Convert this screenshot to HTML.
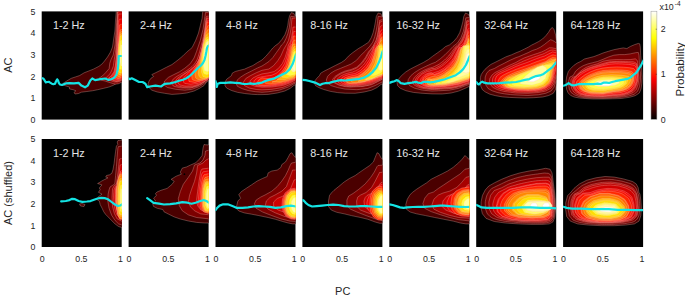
<!DOCTYPE html>
<html><head><meta charset="utf-8"><style>
html,body{margin:0;padding:0;background:#fff;width:685px;height:295px;overflow:hidden}
svg{display:block}
text{font-family:"Liberation Sans", sans-serif}
.tt{font-size:10.8px;fill:#e6e6e6}
.tk{font-size:8.8px;fill:#262626}
.tks{font-size:6.5px;fill:#262626}
.lb{font-size:11px;fill:#262626}
</style></head><body>
<svg width="685" height="295" viewBox="0 0 685 295">
<rect x="41.7" y="11.4" width="80" height="108.2" fill="#000"/>
<rect x="128.6" y="11.4" width="80" height="108.2" fill="#000"/>
<rect x="215.5" y="11.4" width="80" height="108.2" fill="#000"/>
<rect x="302.4" y="11.4" width="80" height="108.2" fill="#000"/>
<rect x="389.3" y="11.4" width="80" height="108.2" fill="#000"/>
<rect x="476.2" y="11.4" width="80" height="108.2" fill="#000"/>
<rect x="563.1" y="11.4" width="80" height="108.2" fill="#000"/>
<rect x="41.7" y="139" width="80" height="108" fill="#000"/>
<rect x="128.6" y="139" width="80" height="108" fill="#000"/>
<rect x="215.5" y="139" width="80" height="108" fill="#000"/>
<rect x="302.4" y="139" width="80" height="108" fill="#000"/>
<rect x="389.3" y="139" width="80" height="108" fill="#000"/>
<rect x="476.2" y="139" width="80" height="108" fill="#000"/>
<rect x="563.1" y="139" width="80" height="108" fill="#000"/>
<defs>
<clipPath id="cT1"><rect x="41.70" y="11.40" width="80.00" height="108.20"/></clipPath>
<clipPath id="cT2"><rect x="128.60" y="11.40" width="80.00" height="108.20"/></clipPath>
<clipPath id="cT3"><rect x="215.50" y="11.40" width="80.00" height="108.20"/></clipPath>
<clipPath id="cT4"><rect x="302.40" y="11.40" width="80.00" height="108.20"/></clipPath>
<clipPath id="cT5"><rect x="389.30" y="11.40" width="80.00" height="108.20"/></clipPath>
<clipPath id="cT6"><rect x="476.20" y="11.40" width="80.00" height="108.20"/></clipPath>
<clipPath id="cT7"><rect x="563.10" y="11.40" width="80.00" height="108.20"/></clipPath>
<clipPath id="cB1"><rect x="41.70" y="139.00" width="80.00" height="108.00"/></clipPath>
<clipPath id="cB2"><rect x="128.60" y="139.00" width="80.00" height="108.00"/></clipPath>
<clipPath id="cB3"><rect x="215.50" y="139.00" width="80.00" height="108.00"/></clipPath>
<clipPath id="cB4"><rect x="302.40" y="139.00" width="80.00" height="108.00"/></clipPath>
<clipPath id="cB5"><rect x="389.30" y="139.00" width="80.00" height="108.00"/></clipPath>
<clipPath id="cB6"><rect x="476.20" y="139.00" width="80.00" height="108.00"/></clipPath>
<clipPath id="cB7"><rect x="563.10" y="139.00" width="80.00" height="108.00"/></clipPath>
</defs>
<g clip-path="url(#cT1)">
<polygon points="116.2,11.4 115.5,20.0 114.9,31.0 113.5,40.0 112.5,47.0 110.5,52.0 107.5,57.0 104.5,61.0 102.0,64.0 98.8,66.4 93.3,69.2 88.7,71.0 84.1,72.8 79.5,75.6 75.9,76.8 71.3,78.3 66.7,81.0 63.0,83.4 62.1,84.7 64.9,85.6 69.5,87.1 69.5,88.9 73.1,89.7 75.9,90.8 74.0,92.4 75.0,94.0 78.6,93.5 81.4,92.2 86.9,91.5 92.3,90.8 97.8,89.7 103.3,88.4 108.8,87.1 113.4,85.3 117.0,82.9 119.8,80.1 123.0,77.4 123.0,11.4" fill="#4a0000" stroke="#ffc8c0" stroke-opacity="0.6" stroke-width="0.5"/>
<polygon points="117.2,11.4 116.5,25.0 116.0,31.0 115.0,45.0 113.2,55.0 111.2,59.1 109.8,63.1 109.1,68.6 105.7,72.6 102.3,76.0 98.9,78.3 101.0,80.1 105.0,81.0 110.5,82.8 115.2,84.2 118.6,83.7 123.0,81.5 123.0,11.4" fill="#7c0000" stroke="#ffc8c0" stroke-opacity="0.6" stroke-width="0.5"/>
<polygon points="123.0,11.4 123.0,12.9 123.0,14.4 123.0,15.9 123.0,17.4 123.0,18.8 123.0,20.3 123.0,21.8 123.0,23.3 123.0,24.8 123.0,26.3 123.0,27.8 123.0,29.3 123.0,30.7 123.0,32.2 123.0,33.7 123.0,35.2 123.0,36.7 123.0,38.2 123.0,39.7 123.0,41.2 123.0,42.6 123.0,44.1 123.0,45.6 123.0,47.1 123.0,48.6 123.0,50.1 123.0,51.6 123.0,53.1 123.0,54.5 123.0,56.0 123.0,57.5 123.0,59.0 123.0,60.5 123.0,62.0 123.0,63.5 123.0,65.0 123.0,66.4 123.0,67.9 123.0,69.4 123.0,70.9 123.0,72.4 123.0,73.9 123.0,75.4 123.0,76.9 122.7,78.1 122.2,79.3 121.7,80.5 120.3,81.1 118.9,81.6 117.6,82.0 116.1,82.0 114.7,82.0 113.2,81.6 111.8,81.1 110.4,80.6 109.0,80.1 107.6,79.6 106.2,79.2 106.3,78.4 106.6,77.5 107.2,76.5 108.2,75.5 109.3,74.4 110.2,73.3 110.9,72.0 111.5,70.7 112.0,69.4 112.6,68.0 113.1,66.7 113.5,65.3 113.6,63.8 113.8,62.3 114.0,60.8 114.2,59.4 114.5,57.9 114.8,56.5 115.0,55.0 115.3,53.6 115.5,52.2 115.6,50.7 115.8,49.2 115.9,47.7 116.0,46.2 116.1,44.8 116.3,43.3 116.3,41.8 116.4,40.3 116.5,38.8 116.6,37.3 116.6,35.9 116.7,34.4 116.8,32.9 116.8,31.4 116.9,29.9 117.0,28.4 117.1,26.9 117.1,25.5 117.2,24.0 117.3,22.5 117.3,21.0 117.4,19.5 117.5,18.0 117.5,16.5 117.6,15.1 117.6,13.6 117.7,12.1 118.5,11.4 120.0,11.4 121.5,11.4" fill="#a80000" stroke="#ffc8c0" stroke-opacity="0.6" stroke-width="0.5"/>
<polygon points="118.0,11.4 117.5,25.0 117.0,40.0 116.5,55.0 115.5,65.0 114.0,72.0 111.0,76.0 108.0,78.5 112.0,80.0 116.0,81.5 119.0,81.0 123.0,79.0 123.0,11.4" fill="#bc0000" stroke="#ffc8c0" stroke-opacity="0.6" stroke-width="0.5"/>
<polygon points="123.0,14.1 123.0,15.4 123.0,16.8 123.0,18.2 123.0,19.5 123.0,20.9 123.0,22.3 123.0,23.7 123.0,25.0 123.0,26.4 123.0,27.8 123.0,29.1 123.0,30.5 123.0,31.9 123.0,33.3 123.0,34.6 123.0,36.0 123.0,37.4 123.0,38.7 123.0,40.1 123.0,41.5 123.0,42.9 123.0,44.2 123.0,45.6 123.0,47.0 123.0,48.3 123.0,49.7 123.0,51.1 123.0,52.5 123.0,53.8 123.0,55.2 123.0,56.6 123.0,58.0 123.0,59.3 123.0,60.7 123.0,62.1 123.0,63.4 123.0,64.8 123.0,66.2 123.0,67.6 123.0,68.9 123.0,70.3 123.0,71.7 123.0,73.0 123.0,74.4 123.0,75.8 123.0,77.2 122.9,78.5 121.8,79.2 120.6,79.8 119.4,80.4 118.0,80.7 116.7,81.0 115.4,80.7 114.1,80.2 112.8,79.7 111.6,79.2 110.4,78.7 109.2,78.1 110.0,77.3 111.0,76.3 111.9,75.4 112.7,74.3 113.5,73.1 114.2,72.0 114.6,70.7 114.9,69.4 115.2,68.0 115.4,66.7 115.7,65.3 115.9,64.0 116.0,62.6 116.1,61.3 116.3,59.9 116.4,58.5 116.5,57.2 116.6,55.8 116.7,54.4 116.8,53.0 116.8,51.7 116.9,50.3 116.9,48.9 117.0,47.6 117.0,46.2 117.1,44.8 117.1,43.5 117.2,42.1 117.2,40.7 117.3,39.3 117.3,38.0 117.4,36.6 117.4,35.2 117.5,33.9 117.5,32.5 117.6,31.1 117.6,29.7 117.7,28.4 117.7,27.0 117.8,25.6 117.9,24.3 117.9,22.9 118.0,21.5 118.0,20.2 118.1,18.8 118.1,17.4 118.2,16.0 118.3,14.7 119.0,14.0 120.4,14.0 121.8,13.9" fill="#d00000" stroke="#ffc8c0" stroke-opacity="0.6" stroke-width="0.5"/>
<polygon points="123.0,19.4 123.0,20.6 123.0,21.8 123.0,23.1 123.0,24.3 123.0,25.5 123.0,26.8 123.0,28.0 123.0,29.2 123.0,30.5 123.0,31.7 123.0,32.9 123.0,34.2 123.0,35.4 123.0,36.7 123.0,37.9 123.0,39.1 123.0,40.4 123.0,41.6 123.0,42.8 123.0,44.1 123.0,45.3 123.0,46.5 123.0,47.8 123.0,49.0 123.0,50.2 123.0,51.5 123.0,52.7 123.0,54.0 123.0,55.2 123.0,56.4 123.0,57.7 123.0,58.9 123.0,60.1 123.0,61.4 123.0,62.6 123.0,63.8 123.0,65.1 123.0,66.3 123.0,67.5 123.0,68.8 123.0,70.0 123.0,71.3 123.0,72.5 123.0,73.7 123.0,75.0 123.0,76.2 123.0,77.4 122.1,78.1 121.1,78.7 120.0,79.3 118.8,79.7 117.6,79.9 116.4,79.9 115.3,79.6 114.2,79.1 113.1,78.6 112.1,78.0 111.4,77.3 112.0,76.4 112.8,75.5 113.5,74.6 114.1,73.5 114.6,72.4 115.1,71.4 115.4,70.2 115.6,69.0 115.8,67.7 116.0,66.5 116.2,65.3 116.3,64.1 116.5,62.9 116.6,61.6 116.7,60.4 116.8,59.2 116.9,57.9 117.0,56.7 117.1,55.5 117.1,54.2 117.2,53.0 117.2,51.8 117.3,50.5 117.3,49.3 117.4,48.1 117.4,46.8 117.5,45.6 117.5,44.4 117.6,43.1 117.7,41.9 117.7,40.7 117.8,39.4 117.8,38.2 117.9,37.0 118.0,35.7 118.0,34.5 118.1,33.3 118.1,32.0 118.2,30.8 118.3,29.6 118.4,28.3 118.4,27.1 118.5,25.9 118.6,24.6 118.6,23.4 118.7,22.2 118.8,20.9 119.0,19.8 119.7,19.2 121.0,19.1 122.2,18.9" fill="#f00000" stroke="#ffc8c0" stroke-opacity="0.6" stroke-width="0.5"/>
<polygon points="123.0,24.7 123.0,25.8 123.0,26.9 123.0,28.0 123.0,29.1 123.0,30.2 123.0,31.3 123.0,32.4 123.0,33.5 123.0,34.6 123.0,35.7 123.0,36.8 123.0,37.9 123.0,39.0 123.0,40.1 123.0,41.2 123.0,42.3 123.0,43.4 123.0,44.5 123.0,45.6 123.0,46.7 123.0,47.8 123.0,48.9 123.0,50.0 123.0,51.0 123.0,52.1 123.0,53.2 123.0,54.3 123.0,55.4 123.0,56.5 123.0,57.6 123.0,58.7 123.0,59.8 123.0,60.9 123.0,62.0 123.0,63.1 123.0,64.2 123.0,65.3 123.0,66.4 123.0,67.5 123.0,68.6 123.0,69.7 123.0,70.8 123.0,71.9 123.0,73.0 123.0,74.1 123.0,75.2 123.0,76.3 122.5,77.1 121.5,77.7 120.6,78.2 119.6,78.6 118.5,78.9 117.5,79.1 116.5,79.0 115.5,78.5 114.5,78.0 113.8,77.3 113.6,76.5 114.1,75.6 114.5,74.7 115.0,73.7 115.4,72.7 115.7,71.7 116.0,70.7 116.2,69.6 116.3,68.6 116.5,67.5 116.6,66.4 116.7,65.3 116.8,64.2 116.9,63.1 117.0,62.0 117.1,60.9 117.2,59.8 117.3,58.7 117.3,57.6 117.4,56.5 117.5,55.4 117.5,54.3 117.6,53.2 117.6,52.1 117.7,51.0 117.7,49.9 117.8,48.8 117.8,47.7 117.9,46.6 118.0,45.5 118.0,44.4 118.1,43.3 118.2,42.3 118.3,41.2 118.3,40.1 118.4,39.0 118.5,37.9 118.5,36.8 118.6,35.7 118.7,34.6 118.8,33.5 118.9,32.4 118.9,31.3 119.0,30.2 119.1,29.1 119.2,28.0 119.3,26.9 119.4,25.8 119.6,24.8 120.5,24.4 121.5,24.2 122.6,24.0" fill="#ff2800" stroke="#ffc8c0" stroke-opacity="0.6" stroke-width="0.5"/>
<polygon points="120.0,30.0 119.0,40.0 118.2,50.0 117.5,62.0 116.8,72.0 115.5,77.0 118.0,78.5 120.5,77.5 123.0,76.0 123.0,29.0" fill="#ff5800" stroke="#ffc8c0" stroke-opacity="0.6" stroke-width="0.5"/>
<polygon points="123.0,31.0 123.0,31.9 123.0,32.8 123.0,33.7 123.0,34.5 123.0,35.4 123.0,36.3 123.0,37.2 123.0,38.1 123.0,39.0 123.0,39.9 123.0,40.8 123.0,41.6 123.0,42.5 123.0,43.4 123.0,44.3 123.0,45.2 123.0,46.1 123.0,47.0 123.0,47.9 123.0,48.7 123.0,49.6 123.0,50.5 123.0,51.4 123.0,52.3 123.0,53.2 123.0,54.1 123.0,55.0 123.0,55.8 123.0,56.7 123.0,57.6 123.0,58.5 123.0,59.4 123.0,60.3 123.0,61.2 123.0,62.0 123.0,62.9 123.0,63.8 123.0,64.7 123.0,65.6 123.0,66.5 123.0,67.4 123.0,68.3 123.0,69.1 123.0,70.0 123.0,70.9 123.0,71.8 123.0,72.7 123.0,73.6 122.9,74.4 122.3,75.0 121.6,75.5 120.9,75.9 120.0,76.2 119.2,76.5 118.4,76.4 117.6,76.0 116.9,75.5 116.5,74.9 116.7,74.0 116.8,73.1 117.0,72.3 117.1,71.4 117.3,70.6 117.3,69.7 117.3,68.8 117.3,67.9 117.4,67.0 117.4,66.1 117.5,65.2 117.5,64.4 117.6,63.5 117.6,62.6 117.7,61.7 117.7,60.8 117.8,59.9 117.8,59.0 117.9,58.2 117.9,57.3 118.0,56.4 118.0,55.5 118.1,54.6 118.1,53.7 118.2,52.8 118.2,52.0 118.3,51.1 118.3,50.2 118.4,49.3 118.5,48.4 118.5,47.5 118.6,46.6 118.7,45.8 118.7,44.9 118.8,44.0 118.9,43.1 119.0,42.2 119.1,41.3 119.2,40.5 119.3,39.6 119.4,38.7 119.5,37.8 119.6,36.9 119.7,36.1 119.8,35.2 119.9,34.3 120.0,33.4 120.1,32.5 120.5,31.9 121.3,31.6 122.2,31.3" fill="#ff8800" stroke="#ffc8c0" stroke-opacity="0.6" stroke-width="0.5"/>
<polygon points="123.0,33.0 123.0,33.8 123.0,34.6 123.0,35.4 123.0,36.2 123.0,37.1 123.0,37.9 123.0,38.7 123.0,39.5 123.0,40.3 123.0,41.1 123.0,41.9 123.0,42.7 123.0,43.5 123.0,44.4 123.0,45.2 123.0,46.0 123.0,46.8 123.0,47.6 123.0,48.4 123.0,49.2 123.0,50.0 123.0,50.8 123.0,51.6 123.0,52.5 123.0,53.3 123.0,54.1 123.0,54.9 123.0,55.7 123.0,56.5 123.0,57.3 123.0,58.1 123.0,58.9 123.0,59.8 123.0,60.6 123.0,61.4 123.0,62.2 123.0,63.0 123.0,63.8 123.0,64.6 123.0,65.4 123.0,66.2 123.0,67.1 123.0,67.9 123.0,68.7 123.0,69.5 123.0,70.3 123.0,71.1 123.0,71.9 122.9,72.7 122.7,73.4 122.1,73.8 121.4,74.2 120.7,74.5 119.9,74.7 119.2,74.5 118.4,74.1 117.7,73.8 117.5,73.1 117.5,72.3 117.6,71.5 117.6,70.7 117.7,69.9 117.7,69.1 117.7,68.3 117.7,67.5 117.7,66.7 117.7,65.9 117.7,65.1 117.8,64.3 117.8,63.4 117.8,62.6 117.9,61.8 117.9,61.0 118.0,60.2 118.0,59.4 118.0,58.6 118.1,57.8 118.1,57.0 118.1,56.2 118.2,55.3 118.2,54.5 118.3,53.7 118.3,52.9 118.4,52.1 118.4,51.3 118.5,50.5 118.5,49.7 118.6,48.9 118.6,48.1 118.7,47.3 118.8,46.4 118.8,45.6 118.9,44.8 118.9,44.0 119.1,43.2 119.2,42.4 119.3,41.6 119.4,40.8 119.5,40.0 119.6,39.2 119.7,38.4 119.8,37.6 119.9,36.8 120.1,36.0 120.2,35.2 120.3,34.4 120.7,33.9 121.5,33.6 122.2,33.3" fill="#ffb800" stroke="#ffc8c0" stroke-opacity="0.6" stroke-width="0.5"/>
<polygon points="120.5,36.0 119.0,45.0 118.3,55.0 118.0,65.0 118.5,72.0 121.0,73.0 123.0,72.0 123.0,35.0" fill="#ffe000" stroke="#ffc8c0" stroke-opacity="0.6" stroke-width="0.5"/>
<polygon points="122.8,40.0 123.0,40.4 123.0,40.9 123.0,41.5 123.0,42.1 123.0,42.7 123.0,43.3 123.0,43.8 123.0,44.4 123.0,45.0 123.0,45.6 123.0,46.1 123.0,46.7 123.0,47.3 123.0,47.9 123.0,48.4 123.0,49.0 123.0,49.6 123.0,50.2 123.0,50.8 123.0,51.3 123.0,51.9 123.0,52.5 123.0,53.1 123.0,53.6 123.0,54.2 123.0,54.8 123.0,55.4 123.0,56.0 123.0,56.5 123.0,57.1 123.0,57.7 123.0,58.3 123.0,58.8 123.0,59.4 123.0,60.0 123.0,60.6 123.0,61.1 123.0,61.7 123.0,62.3 123.0,62.9 123.0,63.5 123.0,64.0 123.0,64.6 123.0,65.2 123.0,65.8 123.0,66.3 123.0,66.9 123.0,67.5 123.0,68.1 123.0,68.7 122.8,69.1 122.3,69.3 121.7,69.4 121.2,69.4 120.6,69.3 120.1,69.1 119.7,68.8 119.6,68.2 119.5,67.6 119.5,67.1 119.4,66.5 119.3,65.9 119.2,65.4 119.1,64.8 119.1,64.2 119.0,63.6 119.0,63.1 119.0,62.5 119.0,61.9 119.0,61.3 119.0,60.8 119.1,60.2 119.1,59.6 119.1,59.0 119.1,58.5 119.1,57.9 119.1,57.3 119.1,56.7 119.1,56.1 119.1,55.6 119.2,55.0 119.2,54.4 119.2,53.8 119.2,53.3 119.3,52.7 119.3,52.1 119.3,51.5 119.3,51.0 119.4,50.4 119.4,49.8 119.5,49.2 119.5,48.7 119.6,48.1 119.6,47.5 119.7,46.9 119.8,46.4 119.9,45.8 120.0,45.2 120.1,44.7 120.2,44.1 120.3,43.5 120.4,43.0 120.5,42.4 120.5,41.8 120.6,41.2 120.7,40.7 121.1,40.4 121.7,40.3 122.2,40.1" fill="#ffff40" stroke="#ffc8c0" stroke-opacity="0.6" stroke-width="0.5"/>
<polygon points="121.0,45.0 120.0,52.0 120.0,62.0 121.0,66.0 123.0,66.0 123.0,45.0" fill="#ffffa0" stroke="#ffc8c0" stroke-opacity="0.6" stroke-width="0.5"/>
<polyline points="41.6,78.2 43.4,78.5 44.4,80.1 45.8,82.3 47.4,82.0 48.8,81.8 50.1,82.6 51.8,83.7 53.4,84.2 55.0,83.7 56.1,81.2 57.2,79.3 58.0,80.4 58.8,82.8 59.9,84.5 62.0,85.0 65.8,83.4 69.5,83.2 74.0,83.4 78.6,82.9 81.4,85.6 85.0,87.3 87.8,85.6 90.3,80.5 92.3,78.5 95.1,80.1 100.6,79.2 105.2,78.5 108.6,80.0 111.8,79.0 114.5,77.5 116.5,74.6 117.8,69.2 118.5,63.0 118.7,56.0 122.5,56.0" fill="none" stroke="#14e4e4" stroke-width="2.2" stroke-linejoin="round" stroke-linecap="round"/>
</g>
<g clip-path="url(#cT2)">
<polygon points="202.7,11.4 202.1,18.3 200.3,25.6 198.5,33.0 195.7,40.3 192.1,47.6 186.6,52.2 182.9,55.9 178.0,60.0 175.6,61.8 171.9,64.6 166.4,67.3 161.0,70.1 155.5,72.8 151.8,74.6 153.6,76.5 150.9,78.3 149.0,81.0 148.1,83.8 149.0,87.5 151.8,90.2 157.3,92.0 164.6,93.3 171.9,94.4 179.3,93.9 186.6,93.0 193.9,91.1 199.4,88.4 204.0,85.6 206.7,81.9 210.0,78.3 210.0,11.4" fill="#4a0000" stroke="#ffc8c0" stroke-opacity="0.6" stroke-width="0.5"/>
<polygon points="205.5,12.5 204.9,16.5 203.0,29.3 200.3,40.3 196.6,51.3 194.0,58.0 190.2,63.7 184.8,68.2 179.3,71.9 173.8,74.6 168.3,77.4 164.6,81.0 163.7,84.7 167.4,87.5 175.6,89.3 184.8,90.2 192.1,89.3 199.4,86.5 204.9,82.9 210.0,79.2 210.0,12.5" fill="#7c0000" stroke="#ffc8c0" stroke-opacity="0.6" stroke-width="0.5"/>
<polygon points="210.0,16.2 210.0,17.9 210.0,19.6 210.0,21.3 210.0,23.1 210.0,24.8 210.0,26.5 210.0,28.2 210.0,30.0 210.0,31.7 210.0,33.4 210.0,35.1 210.0,36.9 210.0,38.6 210.0,40.3 210.0,42.0 210.0,43.8 210.0,45.5 210.0,47.2 210.0,48.9 210.0,50.7 210.0,52.4 210.0,54.1 210.0,55.8 210.0,57.6 210.0,59.3 210.0,61.0 210.0,62.7 210.0,64.5 210.0,66.2 210.0,67.9 210.0,69.6 210.0,71.4 210.0,73.1 210.0,74.8 209.9,76.5 209.4,78.0 208.4,79.2 207.0,80.2 205.6,81.1 204.2,82.1 202.7,83.1 201.3,84.0 199.8,84.8 198.3,85.7 196.7,86.3 195.0,86.8 193.4,87.2 191.7,87.7 190.0,88.1 188.3,88.1 186.6,88.0 184.9,88.0 183.2,87.9 181.4,87.9 179.7,87.7 178.1,87.3 176.4,86.9 174.7,86.5 173.2,85.9 172.2,84.5 171.2,83.1 171.7,81.7 172.5,80.2 173.5,78.8 174.9,77.8 176.3,76.7 177.7,75.8 179.2,75.0 180.7,74.1 182.2,73.2 183.7,72.4 185.2,71.5 186.6,70.6 188.0,69.6 189.4,68.6 190.8,67.5 192.1,66.4 193.3,65.2 194.4,63.9 195.3,62.5 196.3,61.0 197.1,59.5 197.7,57.9 198.2,56.3 198.7,54.6 199.2,53.0 199.7,51.3 200.1,49.7 200.5,48.0 201.0,46.3 201.4,44.7 201.9,43.0 202.3,41.3 202.7,39.6 203.1,38.0 203.4,36.3 203.7,34.6 204.0,32.9 204.3,31.2 204.5,29.5 204.7,27.8 205.0,26.1 205.2,24.3 205.4,22.6 205.6,20.9 205.8,19.2 206.0,17.5 206.6,16.2 208.3,16.2" fill="#a80000" stroke="#ffc8c0" stroke-opacity="0.6" stroke-width="0.5"/>
<polygon points="206.5,18.0 205.8,25.6 204.0,38.5 201.2,51.3 199.0,60.0 195.7,65.5 190.2,70.1 182.9,74.6 177.4,78.3 174.7,82.0 176.5,85.6 182.9,87.1 192.1,87.1 199.4,84.7 204.9,81.0 210.0,77.4 210.0,18.0" fill="#bc0000" stroke="#ffc8c0" stroke-opacity="0.6" stroke-width="0.5"/>
<polygon points="210.0,19.1 210.0,20.6 210.0,22.2 210.0,23.8 210.0,25.3 210.0,26.9 210.0,28.5 210.0,30.0 210.0,31.6 210.0,33.2 210.0,34.7 210.0,36.3 210.0,37.9 210.0,39.4 210.0,41.0 210.0,42.6 210.0,44.1 210.0,45.7 210.0,47.3 210.0,48.8 210.0,50.4 210.0,52.0 210.0,53.5 210.0,55.1 210.0,56.7 210.0,58.2 210.0,59.8 210.0,61.4 210.0,62.9 210.0,64.5 210.0,66.1 210.0,67.6 210.0,69.2 210.0,70.8 210.0,72.3 210.0,73.9 210.0,75.5 209.4,76.7 208.3,77.7 207.3,78.8 206.2,79.8 205.1,80.8 204.0,81.7 202.6,82.5 201.3,83.3 199.9,83.9 198.4,84.4 196.9,84.9 195.4,85.4 193.9,85.9 192.3,86.0 190.8,86.0 189.2,86.1 187.7,86.1 186.1,86.2 184.6,86.0 183.0,85.7 181.5,85.3 180.0,85.0 178.8,84.2 178.2,82.8 177.6,81.4 178.1,80.1 179.0,78.8 180.0,77.6 181.2,76.6 182.5,75.7 183.7,74.7 184.9,73.8 186.2,72.9 187.5,72.0 188.7,71.1 190.0,70.2 191.2,69.3 192.4,68.3 193.5,67.2 194.6,66.1 195.7,65.0 196.7,63.9 197.4,62.5 198.2,61.1 198.9,59.7 199.5,58.3 199.9,56.8 200.3,55.3 200.7,53.8 201.0,52.2 201.4,50.7 201.7,49.2 202.1,47.7 202.4,46.1 202.7,44.6 203.1,43.1 203.4,41.5 203.7,40.0 204.0,38.5 204.3,36.9 204.5,35.4 204.7,33.8 204.9,32.3 205.1,30.7 205.4,29.2 205.6,27.6 205.8,26.1 206.0,24.5 206.2,22.9 206.3,21.4 206.6,19.9 207.1,18.8 208.7,18.8" fill="#d00000" stroke="#ffc8c0" stroke-opacity="0.6" stroke-width="0.5"/>
<polygon points="210.0,21.2 210.0,22.6 210.0,24.1 210.0,25.5 210.0,26.9 210.0,28.4 210.0,29.8 210.0,31.3 210.0,32.7 210.0,34.1 210.0,35.6 210.0,37.0 210.0,38.5 210.0,39.9 210.0,41.3 210.0,42.8 210.0,44.2 210.0,45.7 210.0,47.1 210.0,48.5 210.0,50.0 210.0,51.4 210.0,52.9 210.0,54.3 210.0,55.7 210.0,57.2 210.0,58.6 210.0,60.1 210.0,61.5 210.0,62.9 210.0,64.4 210.0,65.8 210.0,67.3 210.0,68.7 210.0,70.1 210.0,71.6 210.0,73.0 209.7,74.3 209.2,75.5 208.6,76.6 208.1,77.8 207.6,78.9 206.8,79.9 205.5,80.5 204.2,81.1 202.9,81.6 201.5,82.1 200.1,82.6 198.8,83.0 197.4,83.5 196.0,83.7 194.6,83.8 193.1,84.0 191.7,84.2 190.3,84.3 188.9,84.1 187.5,83.8 186.1,83.6 184.6,83.3 183.8,82.4 183.4,81.0 183.0,79.7 183.4,78.4 184.2,77.2 185.1,76.1 186.1,75.1 187.1,74.1 188.2,73.1 189.2,72.1 190.2,71.1 191.2,70.1 192.1,69.1 193.1,68.1 194.1,67.1 194.9,66.0 195.8,64.9 196.6,63.7 197.4,62.6 198.1,61.4 198.8,60.1 199.3,58.8 199.8,57.4 200.3,56.1 200.6,54.7 201.0,53.3 201.3,51.9 201.6,50.5 202.0,49.1 202.3,47.7 202.5,46.3 202.8,44.9 203.1,43.5 203.4,42.1 203.7,40.6 204.0,39.2 204.2,37.8 204.4,36.4 204.7,35.0 204.9,33.5 205.1,32.1 205.3,30.7 205.5,29.3 205.7,27.8 206.0,26.4 206.2,25.0 206.4,23.6 206.6,22.2 207.0,21.0 207.9,20.4 209.3,20.4" fill="#f00000" stroke="#ffc8c0" stroke-opacity="0.6" stroke-width="0.5"/>
<polygon points="207.0,22.0 205.5,30.0 204.0,40.0 202.0,50.0 200.0,58.0 197.0,65.0 193.0,71.0 188.4,77.0 189.0,81.5 195.0,82.5 201.0,81.0 210.0,78.0 210.0,22.0" fill="#ff2800" stroke="#ffc8c0" stroke-opacity="0.6" stroke-width="0.5"/>
<polygon points="210.0,25.7 210.0,26.9 210.0,28.1 210.0,29.3 210.0,30.5 210.0,31.7 210.0,32.9 210.0,34.1 210.0,35.3 210.0,36.5 210.0,37.7 210.0,38.8 210.0,40.0 210.0,41.2 210.0,42.4 210.0,43.6 210.0,44.8 210.0,46.0 210.0,47.2 210.0,48.4 210.0,49.6 210.0,50.8 210.0,52.0 210.0,53.2 210.0,54.4 210.0,55.6 210.0,56.7 210.0,57.9 210.0,59.1 210.0,60.3 210.0,61.5 210.0,62.7 210.0,63.9 210.0,65.1 210.0,66.3 210.0,67.5 210.0,68.7 210.0,69.9 210.0,71.1 210.0,72.3 210.0,73.5 210.0,74.6 210.0,75.8 209.7,76.8 208.8,77.3 207.8,77.8 206.9,78.4 206.0,78.9 205.0,79.4 203.9,79.7 202.7,80.1 201.6,80.3 200.4,80.6 199.2,80.9 198.1,81.0 196.9,81.0 195.8,80.8 194.6,80.5 193.6,80.2 192.6,79.8 192.2,78.8 192.0,77.7 191.8,76.5 191.9,75.4 192.4,74.4 193.0,73.4 193.6,72.4 194.2,71.4 194.8,70.4 195.4,69.4 195.9,68.4 196.5,67.3 197.0,66.3 197.6,65.3 198.1,64.3 198.5,63.1 198.9,62.0 199.3,60.9 199.8,59.8 200.2,58.7 200.5,57.6 200.8,56.4 201.0,55.2 201.3,54.1 201.6,52.9 201.8,51.8 202.1,50.6 202.3,49.4 202.5,48.2 202.8,47.1 203.0,45.9 203.2,44.7 203.4,43.6 203.7,42.4 203.9,41.2 204.1,40.0 204.3,38.9 204.5,37.7 204.7,36.5 204.9,35.4 205.1,34.2 205.4,33.0 205.6,31.8 205.9,30.7 206.1,29.6 206.5,28.5 206.9,27.4 207.3,26.4 207.9,25.6 209.0,25.5" fill="#ff5800" stroke="#ffc8c0" stroke-opacity="0.6" stroke-width="0.5"/>
<polygon points="210.0,29.4 210.0,30.5 210.0,31.6 210.0,32.7 210.0,33.7 210.0,34.8 210.0,35.9 210.0,37.0 210.0,38.0 210.0,39.1 210.0,40.2 210.0,41.2 210.0,42.3 210.0,43.4 210.0,44.5 210.0,45.5 210.0,46.6 210.0,47.7 210.0,48.8 210.0,49.8 210.0,50.9 210.0,52.0 210.0,53.1 210.0,54.1 210.0,55.2 210.0,56.3 210.0,57.4 210.0,58.4 210.0,59.5 210.0,60.6 210.0,61.7 210.0,62.7 210.0,63.8 210.0,64.9 210.0,66.0 210.0,67.0 210.0,68.1 210.0,69.2 210.0,70.3 210.0,71.3 210.0,72.4 210.0,73.5 210.0,74.6 209.8,75.5 209.2,76.1 208.5,76.7 207.9,77.4 207.3,78.0 206.7,78.6 205.6,78.9 204.6,79.1 203.6,79.3 202.5,79.5 201.5,79.7 200.4,79.7 199.4,79.7 198.3,79.4 197.4,79.1 196.6,78.6 195.8,78.1 195.5,77.2 195.3,76.1 195.0,75.1 195.1,74.0 195.4,73.1 195.8,72.2 196.2,71.2 196.6,70.3 197.0,69.3 197.4,68.4 197.7,67.4 198.1,66.5 198.5,65.5 198.9,64.5 199.3,63.6 199.5,62.6 199.8,61.5 200.1,60.5 200.4,59.5 200.7,58.5 201.0,57.4 201.2,56.4 201.3,55.3 201.5,54.3 201.8,53.2 202.0,52.2 202.2,51.1 202.4,50.1 202.6,49.0 202.8,48.0 203.0,46.9 203.2,45.9 203.3,44.8 203.5,43.7 203.7,42.7 203.9,41.6 204.1,40.6 204.4,39.5 204.6,38.5 204.9,37.4 205.1,36.4 205.3,35.4 205.6,34.3 205.8,33.3 206.2,32.3 206.7,31.5 207.2,30.7 207.7,29.8 208.3,29.2 209.3,29.0" fill="#ff8800" stroke="#ffc8c0" stroke-opacity="0.6" stroke-width="0.5"/>
<polygon points="210.0,33.1 210.0,34.1 210.0,35.1 210.0,36.0 210.0,37.0 210.0,37.9 210.0,38.9 210.0,39.8 210.0,40.8 210.0,41.7 210.0,42.7 210.0,43.7 210.0,44.6 210.0,45.6 210.0,46.5 210.0,47.5 210.0,48.4 210.0,49.4 210.0,50.3 210.0,51.3 210.0,52.3 210.0,53.2 210.0,54.2 210.0,55.1 210.0,56.1 210.0,57.0 210.0,58.0 210.0,58.9 210.0,59.9 210.0,60.9 210.0,61.8 210.0,62.8 210.0,63.7 210.0,64.7 210.0,65.6 210.0,66.6 210.0,67.5 210.0,68.5 210.0,69.4 210.0,70.4 210.0,71.4 210.0,72.3 210.0,73.3 209.9,74.1 209.6,74.9 209.3,75.6 209.0,76.3 208.7,77.1 208.3,77.8 207.4,78.0 206.5,78.2 205.5,78.3 204.6,78.5 203.7,78.6 202.7,78.5 201.8,78.3 200.9,78.0 200.1,77.6 199.6,77.0 199.1,76.3 198.8,75.5 198.6,74.6 198.3,73.6 198.3,72.7 198.5,71.8 198.6,70.9 198.8,70.1 199.0,69.2 199.2,68.3 199.4,67.4 199.5,66.5 199.7,65.6 199.9,64.7 200.2,63.8 200.4,62.9 200.6,62.0 200.7,61.0 200.9,60.1 201.1,59.2 201.2,58.3 201.4,57.3 201.5,56.4 201.7,55.4 201.8,54.5 202.0,53.6 202.1,52.6 202.3,51.7 202.5,50.7 202.6,49.8 202.8,48.9 202.9,47.9 203.1,47.0 203.3,46.0 203.4,45.1 203.6,44.1 203.7,43.2 204.0,42.3 204.3,41.4 204.5,40.5 204.8,39.5 205.0,38.6 205.3,37.7 205.6,36.8 205.8,35.9 206.2,35.1 206.9,34.5 207.5,33.9 208.1,33.3 208.8,32.8 209.7,32.5" fill="#ffb800" stroke="#ffc8c0" stroke-opacity="0.6" stroke-width="0.5"/>
<polygon points="210.0,36.0 206.0,38.0 203.5,45.0 202.0,55.0 201.3,65.0 201.5,72.0 203.0,76.5 206.0,77.5 210.0,77.0" fill="#ffe000" stroke="#ffc8c0" stroke-opacity="0.6" stroke-width="0.5"/>
<polygon points="210.0,74.0 209.3,74.1 208.5,74.2 207.8,74.3 207.1,74.4 206.4,74.5 205.7,74.2 205.0,74.0 204.3,73.7 203.7,73.3 203.5,72.6 203.3,71.9 203.1,71.2 202.9,70.5 202.7,69.8 202.6,69.1 202.5,68.4 202.4,67.6 202.4,66.9 202.4,66.2 202.3,65.4 202.3,64.7 202.3,64.0 202.4,63.2 202.4,62.5 202.4,61.8 202.5,61.0 202.5,60.3 202.5,59.6 202.6,58.8 202.6,58.1 202.7,57.4 202.7,56.6 202.8,55.9 202.9,55.2 202.9,54.4 203.0,53.7 203.1,53.0 203.2,52.3 203.3,51.5 203.4,50.8 203.5,50.1 203.6,49.3 203.7,48.6 203.8,47.9 203.9,47.2 204.1,46.4 204.3,45.7 204.5,45.0 204.7,44.3 205.0,43.6 205.2,43.0 205.5,42.3 205.7,41.6 205.9,40.9 206.2,40.2 206.7,39.7 207.4,39.4 208.0,39.0 208.7,38.7 209.3,38.4 210.0,38.0 210.0,38.7 210.0,39.4 210.0,40.2 210.0,40.9 210.0,41.6 210.0,42.4 210.0,43.1 210.0,43.9 210.0,44.6 210.0,45.3 210.0,46.1 210.0,46.8 210.0,47.5 210.0,48.3 210.0,49.0 210.0,49.7 210.0,50.5 210.0,51.2 210.0,51.9 210.0,52.7 210.0,53.4 210.0,54.1 210.0,54.9 210.0,55.6 210.0,56.4 210.0,57.1 210.0,57.8 210.0,58.6 210.0,59.3 210.0,60.0 210.0,60.8 210.0,61.5 210.0,62.2 210.0,63.0 210.0,63.7 210.0,64.4 210.0,65.2 210.0,65.9 210.0,66.6 210.0,67.4 210.0,68.1 210.0,68.9 210.0,69.6 210.0,70.3 210.0,71.1 210.0,71.8 210.0,72.5 210.0,73.3" fill="#ffff40" stroke="#ffc8c0" stroke-opacity="0.6" stroke-width="0.5"/>
<polygon points="210.0,40.0 206.5,42.0 204.5,48.0 203.5,57.0 203.3,65.0 204.5,70.5 207.0,71.5 210.0,71.0" fill="#ffffa0" stroke="#ffc8c0" stroke-opacity="0.6" stroke-width="0.5"/>
<polyline points="128.6,78.3 129.8,79.2 131.7,78.3 135.3,80.1 139.0,82.0 142.6,82.0 145.4,83.8 147.2,87.1 150.0,86.5 155.5,85.6 161.0,86.5 164.6,83.8 170.1,83.4 175.6,82.0 178.3,81.0 182.9,79.8 186.0,78.5 189.0,76.5 192.0,74.0 195.0,71.0 198.0,68.0 201.0,65.5 203.0,63.0 204.5,60.0 205.5,56.0 206.3,52.0 207.0,48.0 208.0,46.0 209.0,45.5" fill="none" stroke="#14e4e4" stroke-width="2.2" stroke-linejoin="round" stroke-linecap="round"/>
</g>
<g clip-path="url(#cT3)">
<polygon points="297.0,16.0 294.9,15.7 293.8,13.4 291.4,12.6 289.6,15.7 288.4,20.5 287.8,25.2 286.7,29.9 284.9,34.7 281.9,39.4 278.4,43.5 275.5,45.5 272.8,48.0 269.5,52.0 266.1,56.0 262.0,60.0 257.6,62.5 252.9,65.5 248.1,67.5 244.6,69.1 239.8,70.3 235.1,71.5 232.1,73.3 231.5,75.6 229.1,77.4 226.7,79.2 225.0,82.2 225.0,85.7 226.7,88.1 231.5,90.5 237.4,92.3 244.6,93.5 251.7,94.3 257.6,94.6 262.0,94.6 268.1,94.4 277.2,93.0 284.6,91.1 290.1,88.4 293.7,85.6 297.0,83.8" fill="#4a0000" stroke="#ffc8c0" stroke-opacity="0.6" stroke-width="0.5"/>
<polygon points="297.0,17.0 290.8,16.3 290.0,21.7 289.3,27.6 287.8,33.5 286.1,38.2 283.7,43.0 281.5,45.0 279.6,48.1 276.2,52.8 272.8,57.6 268.8,61.6 264.7,64.3 262.0,66.0 257.6,67.9 251.7,70.9 245.7,73.9 241.0,76.8 237.4,79.8 236.2,83.4 237.4,86.3 242.2,88.7 248.1,90.5 255.2,91.7 262.0,92.3 268.1,91.8 279.1,90.2 288.2,87.1 297.0,82.0" fill="#7c0000" stroke="#ffc8c0" stroke-opacity="0.6" stroke-width="0.5"/>
<polygon points="297.0,18.0 292.0,18.1 291.4,24.0 290.8,29.9 289.6,35.9 288.4,40.6 286.5,44.5 283.7,49.4 281.0,55.5 277.6,60.9 273.5,65.7 268.8,69.0 262.0,70.3 256.4,72.7 250.5,75.6 245.7,78.6 243.4,82.2 244.6,85.7 249.3,88.1 256.4,89.5 262.0,89.9 272.0,89.3 282.7,87.5 290.1,84.5 297.0,81.0" fill="#a80000" stroke="#ffc8c0" stroke-opacity="0.6" stroke-width="0.5"/>
<polygon points="297.0,27.0 293.0,27.0 292.6,31.1 291.6,37.0 290.3,42.0 288.4,45.0 287.1,50.8 285.0,57.6 282.3,63.6 278.3,68.5 274.2,71.5 268.0,73.0 262.0,73.9 257.6,75.6 252.9,78.0 249.9,81.0 250.5,84.6 255.2,86.3 262.0,87.2 271.8,87.0 282.7,85.5 290.1,82.9 297.0,79.2" fill="#d00000" stroke="#ffc8c0" stroke-opacity="0.6" stroke-width="0.5"/>
<polygon points="296.4,78.7 295.0,79.4 293.6,80.1 292.3,80.8 290.9,81.5 289.5,82.2 288.0,82.7 286.6,83.2 285.1,83.7 283.6,84.2 282.2,84.6 280.6,84.8 279.1,85.0 277.6,85.2 276.0,85.4 274.5,85.6 273.0,85.8 271.4,86.0 269.9,86.1 268.4,86.1 266.8,86.2 265.3,86.3 263.7,86.3 262.2,86.2 260.7,86.1 259.1,85.9 257.6,85.7 256.1,85.4 254.9,84.6 253.8,83.6 253.9,82.2 254.1,80.8 255.2,79.6 256.4,78.7 257.6,77.8 259.1,77.4 260.5,77.1 262.0,76.8 263.5,76.6 264.9,76.3 266.5,76.0 268.0,75.8 269.5,75.6 271.1,75.5 272.5,74.9 273.9,74.3 275.3,73.7 276.6,73.0 277.8,72.0 278.9,71.0 280.1,70.0 281.1,68.8 282.0,67.6 282.9,66.3 283.7,65.0 284.4,63.7 285.0,62.2 285.5,60.8 286.0,59.3 286.5,57.8 286.9,56.4 287.3,54.9 287.7,53.4 288.0,51.9 288.4,50.4 288.7,48.8 289.2,47.4 289.8,46.0 290.3,44.6 290.7,43.1 291.2,41.6 291.7,40.2 292.3,38.8 292.5,37.3 292.8,35.8 292.9,34.2 293.1,32.7 293.6,31.6 295.1,31.5 296.6,31.6 297.0,32.7 297.0,34.3 297.0,35.8 297.0,37.3 297.0,38.9 297.0,40.4 297.0,42.0 297.0,43.5 297.0,45.1 297.0,46.6 297.0,48.2 297.0,49.7 297.0,51.3 297.0,52.8 297.0,54.3 297.0,55.9 297.0,57.4 297.0,59.0 297.0,60.5 297.0,62.1 297.0,63.6 297.0,65.2 297.0,66.7 297.0,68.2 297.0,69.8 297.0,71.3 297.0,72.9 297.0,74.4 297.0,76.0 297.0,77.5" fill="#f00000" stroke="#ffc8c0" stroke-opacity="0.6" stroke-width="0.5"/>
<polygon points="297.0,36.0 293.5,36.0 293.2,38.2 292.6,43.0 290.5,46.0 289.1,52.1 287.7,58.9 285.7,65.7 282.3,71.1 278.3,75.2 274.2,77.9 268.0,78.5 262.0,77.8 258.8,79.8 257.0,82.8 258.8,85.1 264.0,85.6 272.0,85.0 282.7,83.5 290.1,81.0 297.0,77.5" fill="#ff2800" stroke="#ffc8c0" stroke-opacity="0.6" stroke-width="0.5"/>
<polygon points="297.0,75.5 296.4,76.3 295.7,77.1 295.1,78.0 294.0,78.5 292.9,79.0 291.8,79.4 290.7,79.8 289.6,80.3 288.5,80.7 287.3,81.1 286.2,81.5 285.1,81.8 283.9,82.0 282.7,82.2 281.5,82.5 280.4,82.7 279.2,82.9 278.0,83.1 276.8,83.3 275.6,83.4 274.5,83.6 273.3,83.7 272.1,83.7 270.9,83.8 269.7,83.8 268.5,83.7 267.3,83.6 266.1,83.6 265.1,83.0 264.9,82.4 265.6,81.7 266.5,80.9 267.4,80.3 268.5,79.7 269.5,79.1 270.5,78.7 271.5,78.4 272.6,78.2 273.6,77.9 274.7,77.6 275.7,77.2 276.8,76.7 277.8,76.3 278.9,75.9 279.8,75.1 280.7,74.3 281.5,73.6 282.4,72.7 283.2,71.8 283.9,70.9 284.7,70.0 285.3,69.0 285.8,67.9 286.4,66.9 286.9,65.8 287.4,64.7 287.8,63.6 288.1,62.4 288.4,61.3 288.7,60.1 288.9,58.9 289.2,57.8 289.4,56.6 289.6,55.4 289.8,54.2 290.1,53.1 290.3,51.9 290.5,50.7 290.8,49.5 291.0,48.4 291.4,47.2 291.9,46.2 292.4,45.1 292.6,43.9 292.8,42.8 293.1,41.7 293.6,40.8 294.2,40.1 295.4,40.0 296.6,40.0 297.0,40.8 297.0,42.0 297.0,43.2 297.0,44.4 297.0,45.6 297.0,46.8 297.0,47.9 297.0,49.1 297.0,50.3 297.0,51.5 297.0,52.7 297.0,53.9 297.0,55.1 297.0,56.3 297.0,57.5 297.0,58.7 297.0,59.9 297.0,61.1 297.0,62.3 297.0,63.5 297.0,64.7 297.0,65.9 297.0,67.1 297.0,68.3 297.0,69.5 297.0,70.7 297.0,71.9 297.0,73.1 297.0,74.3" fill="#ff5800" stroke="#ffc8c0" stroke-opacity="0.6" stroke-width="0.5"/>
<polygon points="297.0,44.0 293.5,44.0 292.5,45.4 291.1,53.5 289.8,61.6 287.7,68.4 283.7,73.8 279.6,77.9 276.9,80.6 272.0,82.0 280.0,82.0 288.2,80.1 297.0,76.5" fill="#ff8800" stroke="#ffc8c0" stroke-opacity="0.6" stroke-width="0.5"/>
<polygon points="297.0,74.3 296.4,74.8 295.8,75.2 295.2,75.7 294.6,76.1 294.0,76.5 293.3,77.0 292.7,77.4 291.9,77.7 291.1,78.0 290.3,78.2 289.5,78.4 288.7,78.6 287.9,78.8 287.0,79.0 286.2,79.2 285.4,79.4 284.6,79.6 283.7,79.7 282.9,79.8 282.0,79.8 281.2,79.8 280.4,79.7 279.5,79.7 278.7,79.6 277.8,79.6 277.0,79.5 277.4,79.3 278.1,78.9 278.8,78.6 279.5,78.2 280.3,77.9 280.9,77.4 281.4,76.7 282.0,76.1 282.6,75.5 283.1,74.8 283.6,74.2 284.1,73.5 284.6,72.9 285.1,72.2 285.7,71.6 286.1,70.9 286.6,70.2 287.0,69.5 287.4,68.7 287.9,68.0 288.3,67.3 288.7,66.6 289.0,65.8 289.2,65.0 289.5,64.2 289.7,63.3 289.9,62.5 290.2,61.7 290.4,60.9 290.6,60.1 290.7,59.2 290.9,58.4 291.1,57.6 291.2,56.8 291.4,55.9 291.5,55.1 291.7,54.3 291.8,53.4 292.0,52.6 292.2,51.8 292.3,50.9 292.5,50.1 292.8,49.3 293.0,48.6 293.3,47.8 293.6,47.1 294.2,46.5 294.8,46.1 295.6,46.0 296.3,46.2 296.9,46.4 297.0,47.2 297.0,48.1 297.0,48.9 297.0,49.8 297.0,50.6 297.0,51.5 297.0,52.3 297.0,53.1 297.0,54.0 297.0,54.8 297.0,55.7 297.0,56.5 297.0,57.4 297.0,58.2 297.0,59.1 297.0,59.9 297.0,60.8 297.0,61.6 297.0,62.5 297.0,63.3 297.0,64.2 297.0,65.0 297.0,65.9 297.0,66.7 297.0,67.6 297.0,68.4 297.0,69.3 297.0,70.1 297.0,70.9 297.0,71.8 297.0,72.6 297.0,73.5" fill="#ffb800" stroke="#ffc8c0" stroke-opacity="0.6" stroke-width="0.5"/>
<polygon points="297.0,72.2 296.7,72.7 296.4,73.2 296.1,73.7 295.8,74.2 295.5,74.7 295.2,75.2 294.9,75.7 294.2,75.9 293.5,76.1 292.8,76.3 292.1,76.5 291.5,76.6 290.8,76.8 290.1,76.9 289.4,77.1 288.7,77.2 288.0,77.4 287.3,77.5 286.6,77.6 285.9,77.6 285.2,77.5 284.5,77.4 283.8,77.4 283.1,77.3 282.4,77.2 281.7,77.1 282.0,76.7 282.5,76.3 283.0,75.9 283.5,75.4 284.0,75.0 284.5,74.5 284.9,74.0 285.3,73.4 285.7,72.8 286.1,72.3 286.4,71.7 286.7,71.1 287.1,70.5 287.4,69.9 287.7,69.3 288.0,68.6 288.3,68.0 288.6,67.4 288.9,66.7 289.2,66.1 289.5,65.5 289.8,64.8 290.0,64.2 290.1,63.5 290.3,62.8 290.5,62.1 290.7,61.4 290.9,60.7 291.1,60.1 291.2,59.4 291.4,58.7 291.5,58.0 291.7,57.3 291.9,56.6 292.0,55.9 292.2,55.2 292.3,54.6 292.5,53.9 292.7,53.2 292.8,52.5 293.0,51.8 293.1,51.1 293.5,50.6 293.9,50.0 294.3,49.5 294.7,49.0 295.2,48.5 295.7,48.2 296.3,48.1 296.6,48.5 297.0,48.8 297.0,49.5 297.0,50.2 297.0,50.9 297.0,51.6 297.0,52.4 297.0,53.1 297.0,53.8 297.0,54.5 297.0,55.2 297.0,55.9 297.0,56.6 297.0,57.3 297.0,58.0 297.0,58.7 297.0,59.4 297.0,60.1 297.0,60.9 297.0,61.6 297.0,62.3 297.0,63.0 297.0,63.7 297.0,64.4 297.0,65.1 297.0,65.8 297.0,66.5 297.0,67.2 297.0,67.9 297.0,68.6 297.0,69.3 297.0,70.1 297.0,70.8 297.0,71.5" fill="#ffe000" stroke="#ffc8c0" stroke-opacity="0.6" stroke-width="0.5"/>
<polygon points="297.0,50.0 293.8,52.1 291.8,58.9 290.5,64.3 289.0,70.0 286.4,74.6 290.0,75.5 297.0,74.0" fill="#ffff40" stroke="#ffc8c0" stroke-opacity="0.6" stroke-width="0.5"/>
<polygon points="297.0,70.4 296.9,70.7 296.7,71.0 296.4,71.1 296.0,71.2 295.7,71.3 295.3,71.4 295.0,71.5 294.6,71.6 294.3,71.7 293.9,71.8 293.5,71.9 293.2,72.0 292.9,71.9 292.7,71.6 292.4,71.4 292.1,71.2 291.9,70.9 291.6,70.7 291.4,70.5 291.3,70.2 291.2,69.9 291.1,69.5 291.1,69.2 291.0,68.9 291.1,68.5 291.3,68.2 291.4,67.9 291.5,67.5 291.6,67.1 291.7,66.8 291.7,66.4 291.8,66.1 291.9,65.7 292.0,65.3 292.1,65.0 292.1,64.6 292.2,64.2 292.3,63.9 292.4,63.5 292.5,63.2 292.6,62.8 292.7,62.4 292.8,62.1 292.9,61.7 293.0,61.4 293.1,61.0 293.2,60.7 293.3,60.3 293.4,59.9 293.5,59.6 293.6,59.2 293.7,58.9 293.8,58.5 293.9,58.2 294.0,57.8 294.1,57.5 294.2,57.1 294.4,56.8 294.7,56.6 294.9,56.3 295.1,56.0 295.4,55.8 295.7,55.6 296.0,55.3 296.3,55.1 296.6,54.9 296.9,54.7 297.0,54.9 297.0,55.2 297.0,55.6 297.0,56.0 297.0,56.3 297.0,56.7 297.0,57.1 297.0,57.5 297.0,57.8 297.0,58.2 297.0,58.6 297.0,58.9 297.0,59.3 297.0,59.7 297.0,60.1 297.0,60.4 297.0,60.8 297.0,61.2 297.0,61.5 297.0,61.9 297.0,62.3 297.0,62.7 297.0,63.0 297.0,63.4 297.0,63.8 297.0,64.1 297.0,64.5 297.0,64.9 297.0,65.3 297.0,65.6 297.0,66.0 297.0,66.4 297.0,66.7 297.0,67.1 297.0,67.5 297.0,67.8 297.0,68.2 297.0,68.6 297.0,69.0 297.0,69.3 297.0,69.7 297.0,70.1" fill="#ffffa0" stroke="#ffc8c0" stroke-opacity="0.6" stroke-width="0.5"/>
<polygon points="297.0,56.0 294.5,58.0 293.0,63.0 292.0,68.0 294.0,71.0 297.0,70.0" fill="#ffffbd" stroke="#ffc8c0" stroke-opacity="0.6" stroke-width="0.5"/>
<polyline points="215.5,81.0 216.3,84.0 216.8,87.0 217.7,83.8 220.5,82.9 225.6,82.8 230.3,82.4 235.1,82.8 239.8,83.1 243.4,84.0 246.9,84.0 250.5,83.4 254.0,84.0 257.6,83.4 262.0,82.6 264.7,81.3 268.8,79.9 274.2,78.6 278.3,76.5 282.3,74.5 286.4,72.5 289.8,69.1 292.5,64.3 294.5,58.9 296.0,54.2" fill="none" stroke="#14e4e4" stroke-width="2.2" stroke-linejoin="round" stroke-linecap="round"/>
</g>
<g clip-path="url(#cT4)">
<polygon points="384.0,16.4 382.2,16.4 380.8,13.7 378.1,13.0 376.3,16.4 375.4,21.9 374.4,27.3 373.1,32.7 371.3,37.5 368.6,42.2 362.5,46.2 358.5,48.5 352.5,52.8 348.4,56.2 345.0,60.0 341.3,62.5 335.1,65.6 328.8,68.8 323.8,71.3 320.7,73.2 319.4,75.7 316.9,78.2 315.0,80.7 314.4,83.2 315.6,85.7 318.8,87.6 323.8,89.5 330.1,91.3 337.6,92.6 345.1,93.2 355.1,93.3 364.2,92.0 371.6,90.2 377.1,87.5 380.7,84.7 384.0,82.9" fill="#4a0000" stroke="#ffc8c0" stroke-opacity="0.6" stroke-width="0.5"/>
<polygon points="384.0,17.0 378.1,16.4 377.4,23.2 376.3,30.0 374.7,36.8 372.7,42.2 369.5,46.5 365.5,50.8 360.6,55.5 356.6,60.2 351.1,64.0 345.5,66.3 340.1,68.5 335.1,70.5 330.7,73.2 327.6,76.3 326.3,80.1 327.6,83.2 331.3,85.7 337.6,87.6 345.1,89.1 356.9,89.7 367.9,88.4 375.2,85.6 384.0,81.0" fill="#7c0000" stroke="#ffc8c0" stroke-opacity="0.6" stroke-width="0.5"/>
<polygon points="384.0,19.0 379.5,20.5 378.8,27.3 377.7,34.1 376.1,40.2 373.4,45.6 370.6,49.5 368.8,51.4 365.4,57.5 361.3,63.0 356.6,67.2 351.1,69.5 345.1,71.0 340.1,73.2 335.1,76.3 332.6,79.4 333.8,82.6 338.8,85.1 345.1,86.6 350.0,87.0 362.4,86.5 371.6,84.7 378.9,81.0 384.0,78.3" fill="#960000" stroke="#ffc8c0" stroke-opacity="0.6" stroke-width="0.5"/>
<polygon points="383.8,78.1 382.2,78.9 380.6,79.8 379.0,80.6 377.4,81.4 375.8,82.2 374.2,83.0 372.6,83.7 371.0,84.4 369.3,84.7 367.5,85.1 365.8,85.4 364.0,85.8 362.3,86.1 360.5,86.2 358.7,86.3 356.9,86.4 355.1,86.5 353.4,86.5 351.6,86.6 349.8,86.6 348.0,86.5 346.3,86.4 344.5,86.0 342.8,85.7 341.0,85.3 339.3,84.7 337.7,83.9 336.2,83.2 334.8,82.1 334.2,80.4 334.3,78.9 335.5,77.5 336.7,76.3 338.2,75.3 339.7,74.4 341.3,73.5 342.9,72.8 344.6,72.2 346.2,71.5 347.9,71.1 349.7,70.7 351.4,70.2 353.0,69.6 354.7,68.9 356.3,68.1 357.8,67.2 359.1,66.0 360.4,64.9 361.8,63.7 362.9,62.3 363.9,60.8 365.0,59.4 366.0,57.9 366.9,56.4 367.7,54.8 368.6,53.3 369.5,51.7 370.6,50.4 371.6,48.9 372.6,47.5 373.5,46.0 374.3,44.3 375.1,42.7 376.0,41.2 376.6,39.6 377.1,37.9 377.6,36.2 377.9,34.5 378.2,32.7 378.6,30.9 378.8,29.2 379.0,27.4 379.2,25.6 379.4,23.9 379.8,22.2 381.4,21.5 383.0,20.9 384.0,21.2 384.0,23.0 384.0,24.8 384.0,26.6 384.0,28.4 384.0,30.2 384.0,31.9 384.0,33.7 384.0,35.5 384.0,37.3 384.0,39.1 384.0,40.8 384.0,42.6 384.0,44.4 384.0,46.2 384.0,48.0 384.0,49.8 384.0,51.5 384.0,53.3 384.0,55.1 384.0,56.9 384.0,58.7 384.0,60.4 384.0,62.2 384.0,64.0 384.0,65.8 384.0,67.6 384.0,69.3 384.0,71.1 384.0,72.9 384.0,74.7 384.0,76.5" fill="#a80000" stroke="#ffc8c0" stroke-opacity="0.6" stroke-width="0.5"/>
<polygon points="383.2,77.7 381.7,78.4 380.2,79.2 378.8,79.9 377.3,80.6 375.7,81.3 374.2,81.9 372.7,82.6 371.1,83.2 369.6,83.6 367.9,84.0 366.3,84.3 364.7,84.6 363.0,84.9 361.4,85.1 359.7,85.3 358.1,85.5 356.4,85.5 354.8,85.6 353.1,85.7 351.5,85.8 349.8,85.7 348.2,85.7 346.5,85.5 344.9,85.2 343.2,84.9 341.7,84.4 340.2,83.6 338.7,82.9 337.8,81.6 337.2,80.1 337.7,78.7 338.8,77.5 340.1,76.5 341.5,75.6 343.0,74.9 344.5,74.2 346.0,73.7 347.6,73.2 349.2,72.8 350.8,72.4 352.5,72.1 354.0,71.4 355.5,70.8 357.0,70.0 358.4,69.3 359.7,68.3 361.0,67.1 362.2,66.0 363.4,64.9 364.4,63.6 365.3,62.2 366.3,60.8 367.2,59.5 368.1,58.1 368.8,56.6 369.5,55.1 370.3,53.6 371.2,52.2 372.0,50.8 372.7,49.3 373.4,47.8 374.0,46.3 374.7,44.8 375.8,43.5 376.6,42.2 377.3,40.8 377.8,39.2 378.2,37.6 378.5,36.0 378.9,34.3 379.1,32.7 379.3,31.0 379.5,29.4 379.8,27.8 380.4,26.4 381.8,25.5 383.2,24.7 384.0,25.0 384.0,26.7 384.0,28.3 384.0,30.0 384.0,31.6 384.0,33.3 384.0,35.0 384.0,36.6 384.0,38.3 384.0,39.9 384.0,41.6 384.0,43.3 384.0,44.9 384.0,46.6 384.0,48.3 384.0,49.9 384.0,51.6 384.0,53.2 384.0,54.9 384.0,56.6 384.0,58.2 384.0,59.9 384.0,61.5 384.0,63.2 384.0,64.9 384.0,66.5 384.0,68.2 384.0,69.8 384.0,71.5 384.0,73.2 384.0,74.8 384.0,76.5" fill="#d00000" stroke="#ffc8c0" stroke-opacity="0.6" stroke-width="0.5"/>
<polygon points="384.0,28.0 380.1,31.4 379.1,38.1 377.4,44.3 374.2,47.0 372.2,52.8 369.4,59.6 365.4,65.7 360.6,70.4 355.2,73.5 349.0,74.5 345.7,75.5 342.0,77.5 340.1,79.8 341.3,82.6 345.1,84.5 350.0,85.1 360.0,84.5 370.0,82.5 378.0,79.5 384.0,76.5" fill="#f00000" stroke="#ffc8c0" stroke-opacity="0.6" stroke-width="0.5"/>
<polygon points="383.5,76.0 382.2,76.6 380.9,77.2 379.5,77.8 378.2,78.3 376.9,78.9 375.5,79.4 374.2,79.9 372.8,80.4 371.5,80.9 370.1,81.4 368.7,81.7 367.3,82.0 365.9,82.3 364.5,82.6 363.1,83.0 361.7,83.3 360.3,83.5 358.9,83.6 357.4,83.8 356.0,83.9 354.6,84.0 353.1,84.1 351.7,84.2 350.3,84.1 348.8,84.1 347.4,84.0 346.1,83.5 344.7,83.0 343.7,82.1 343.1,80.8 343.1,79.5 344.0,78.5 345.1,77.8 346.4,77.3 347.8,76.8 349.1,76.4 350.5,76.0 351.9,75.7 353.3,75.5 354.7,75.2 356.1,74.8 357.4,74.4 358.7,73.6 359.9,72.9 361.1,72.1 362.3,71.3 363.3,70.3 364.3,69.3 365.4,68.3 366.4,67.3 367.3,66.1 368.0,64.9 368.8,63.7 369.5,62.4 370.3,61.2 370.9,59.9 371.4,58.6 371.9,57.2 372.4,55.9 372.9,54.5 373.4,53.2 373.9,51.8 374.3,50.4 374.8,49.1 375.6,48.0 376.4,46.9 377.0,45.7 377.5,44.4 378.2,43.2 378.9,42.0 379.4,40.7 379.6,39.3 379.8,37.9 380.1,36.5 380.3,35.1 381.2,34.0 382.3,33.0 383.3,32.0 384.0,31.8 384.0,33.2 384.0,34.7 384.0,36.1 384.0,37.6 384.0,39.0 384.0,40.4 384.0,41.9 384.0,43.3 384.0,44.8 384.0,46.2 384.0,47.6 384.0,49.1 384.0,50.5 384.0,51.9 384.0,53.4 384.0,54.8 384.0,56.3 384.0,57.7 384.0,59.1 384.0,60.6 384.0,62.0 384.0,63.5 384.0,64.9 384.0,66.3 384.0,67.8 384.0,69.2 384.0,70.7 384.0,72.1 384.0,73.5 384.0,75.0" fill="#ff2800" stroke="#ffc8c0" stroke-opacity="0.6" stroke-width="0.5"/>
<polygon points="383.0,75.6 381.7,76.0 380.5,76.5 379.2,77.0 378.0,77.4 376.7,77.9 375.4,78.4 374.2,78.8 372.9,79.3 371.7,79.8 370.4,80.2 369.2,80.6 367.8,80.9 366.5,81.2 365.2,81.6 363.9,81.9 362.6,82.2 361.3,82.5 360.0,82.6 358.7,82.8 357.4,83.0 356.0,83.2 354.7,83.2 353.4,83.3 352.0,83.3 350.7,83.4 349.4,83.4 348.1,83.1 346.8,82.7 346.0,81.7 345.5,80.5 346.0,79.3 346.9,78.5 348.1,78.2 349.4,77.9 350.7,77.7 352.0,77.4 353.3,77.2 354.7,77.0 356.0,76.8 357.3,76.5 358.4,75.9 359.6,75.2 360.7,74.5 361.9,73.8 362.9,73.0 363.9,72.2 364.9,71.2 365.9,70.3 366.8,69.3 367.8,68.4 368.6,67.4 369.2,66.2 369.9,65.0 370.6,63.9 371.2,62.7 371.9,61.5 372.3,60.3 372.7,59.0 373.2,57.7 373.6,56.5 374.0,55.2 374.4,53.9 374.8,52.7 375.1,51.4 375.6,50.1 376.0,48.9 376.3,47.7 377.1,46.6 378.0,45.7 378.9,44.9 379.6,43.8 379.8,42.4 380.1,41.1 380.3,39.8 380.6,38.5 381.4,37.5 382.3,36.5 383.2,35.5 384.0,34.8 384.0,36.2 384.0,37.5 384.0,38.9 384.0,40.2 384.0,41.5 384.0,42.9 384.0,44.2 384.0,45.5 384.0,46.9 384.0,48.2 384.0,49.6 384.0,50.9 384.0,52.2 384.0,53.6 384.0,54.9 384.0,56.3 384.0,57.6 384.0,58.9 384.0,60.3 384.0,61.6 384.0,62.9 384.0,64.3 384.0,65.6 384.0,67.0 384.0,68.3 384.0,69.6 384.0,71.0 384.0,72.3 384.0,73.7 384.0,75.0" fill="#ff5800" stroke="#ffc8c0" stroke-opacity="0.6" stroke-width="0.5"/>
<polygon points="384.0,36.0 380.8,39.5 379.5,45.6 376.2,48.0 374.9,54.1 372.2,62.3 368.8,68.4 363.3,73.8 357.9,77.2 352.0,78.0 347.6,78.5 346.4,80.5 347.6,82.6 350.0,83.2 356.6,82.8 362.0,82.0 370.0,80.0 378.0,77.0 384.0,75.0" fill="#ff6b00" stroke="#ffc8c0" stroke-opacity="0.6" stroke-width="0.5"/>
<polygon points="384.0,73.9 383.2,74.5 382.5,75.1 381.3,75.5 380.2,75.9 379.1,76.3 378.0,76.7 376.9,77.1 375.8,77.5 374.7,77.9 373.6,78.3 372.5,78.7 371.4,79.1 370.3,79.4 369.2,79.8 368.0,80.1 366.9,80.5 365.8,80.8 364.6,81.1 363.5,81.3 362.3,81.6 361.2,81.8 360.0,82.0 358.9,82.2 357.7,82.3 356.6,82.4 355.4,82.4 354.2,82.5 353.1,82.3 351.9,82.1 351.1,81.4 351.1,80.5 351.8,79.7 352.7,79.0 353.8,78.8 355.0,78.5 356.1,78.2 357.2,77.8 358.3,77.5 359.4,77.2 360.5,76.9 361.5,76.4 362.5,75.8 363.4,75.1 364.3,74.3 365.2,73.6 366.1,72.9 366.9,72.0 367.7,71.2 368.5,70.3 369.2,69.4 370.0,68.5 370.6,67.5 371.2,66.5 371.8,65.5 372.3,64.4 372.9,63.4 373.3,62.3 373.7,61.2 374.0,60.1 374.4,59.0 374.7,57.8 375.0,56.7 375.4,55.6 375.7,54.4 375.9,53.3 376.1,52.1 376.3,51.0 376.5,49.8 377.1,48.9 377.8,48.0 378.5,47.2 378.9,46.2 379.1,45.0 379.3,43.9 379.7,42.8 380.2,41.8 380.9,41.0 381.8,40.2 382.7,39.6 383.6,39.0 383.9,39.8 384.0,41.0 384.0,42.1 384.0,43.3 384.0,44.5 384.0,45.7 384.0,46.9 384.0,48.0 384.0,49.2 384.0,50.4 384.0,51.6 384.0,52.7 384.0,53.9 384.0,55.1 384.0,56.3 384.0,57.4 384.0,58.6 384.0,59.8 384.0,61.0 384.0,62.1 384.0,63.3 384.0,64.5 384.0,65.7 384.0,66.8 384.0,68.0 384.0,69.2 384.0,70.4 384.0,71.5 384.0,72.7" fill="#ff8800" stroke="#ffc8c0" stroke-opacity="0.6" stroke-width="0.5"/>
<polygon points="384.0,44.0 381.0,44.0 378.0,46.0 376.9,55.5 374.9,63.6 371.5,70.4 367.4,75.2 362.0,79.2 358.0,81.2 364.0,81.3 371.0,79.0 378.0,76.0 384.0,74.0" fill="#ffb800" stroke="#ffc8c0" stroke-opacity="0.6" stroke-width="0.5"/>
<polygon points="384.0,71.7 383.8,72.4 383.6,73.1 383.4,73.8 382.6,74.1 381.8,74.4 380.9,74.6 380.1,74.9 379.4,75.2 378.6,75.5 377.8,75.8 377.0,76.1 376.2,76.4 375.4,76.8 374.7,77.2 373.9,77.5 373.1,77.9 372.4,78.2 371.6,78.6 370.8,78.9 370.0,79.1 369.2,79.3 368.3,79.4 367.5,79.5 366.7,79.6 365.8,79.7 365.0,79.8 364.6,79.8 364.9,79.5 365.6,79.1 366.4,78.7 367.1,78.3 367.9,77.8 368.5,77.3 369.1,76.7 369.7,76.1 370.3,75.5 370.9,74.9 371.5,74.3 372.0,73.7 372.6,73.1 373.0,72.3 373.4,71.6 373.8,70.8 374.2,70.1 374.5,69.3 374.9,68.6 375.3,67.8 375.6,67.0 375.9,66.3 376.1,65.4 376.4,64.6 376.6,63.8 376.8,63.0 377.0,62.2 377.1,61.4 377.3,60.5 377.5,59.7 377.6,58.9 377.8,58.0 378.0,57.2 378.1,56.4 378.2,55.5 378.3,54.7 378.4,53.8 378.5,53.0 378.6,52.2 378.7,51.3 378.8,50.5 378.9,49.6 378.9,48.8 379.0,47.9 379.1,47.1 379.3,46.3 379.8,45.8 380.6,45.7 381.4,45.5 382.2,45.5 383.1,45.5 383.9,45.5 384.0,46.3 384.0,47.2 384.0,48.0 384.0,48.9 384.0,49.7 384.0,50.6 384.0,51.4 384.0,52.2 384.0,53.1 384.0,53.9 384.0,54.8 384.0,55.6 384.0,56.5 384.0,57.3 384.0,58.2 384.0,59.0 384.0,59.9 384.0,60.7 384.0,61.6 384.0,62.4 384.0,63.3 384.0,64.1 384.0,65.0 384.0,65.8 384.0,66.7 384.0,67.5 384.0,68.4 384.0,69.2 384.0,70.0 384.0,70.9" fill="#ffe000" stroke="#ffc8c0" stroke-opacity="0.6" stroke-width="0.5"/>
<polygon points="384.0,46.0 379.6,46.0 378.5,56.8 376.9,65.7 374.2,72.4 370.1,77.2 366.0,79.5 372.0,78.5 378.0,75.5 384.0,73.5" fill="#ffe913" stroke="#ffc8c0" stroke-opacity="0.6" stroke-width="0.5"/>
<polygon points="384.0,70.1 383.5,70.4 383.1,70.7 382.6,71.1 382.2,71.4 381.7,71.7 381.3,72.0 380.8,72.4 380.4,72.7 380.0,73.1 379.4,73.4 378.8,73.6 378.2,73.9 377.6,74.2 377.0,74.5 376.4,74.8 375.8,75.0 375.2,75.2 374.6,75.3 374.0,75.4 373.3,75.4 372.7,75.4 372.1,75.4 371.5,75.4 371.3,75.2 371.8,74.8 372.2,74.3 372.6,73.9 373.1,73.5 373.5,73.1 373.9,72.6 374.2,72.1 374.5,71.6 374.8,71.0 375.2,70.5 375.5,70.0 375.8,69.4 376.2,68.9 376.4,68.3 376.6,67.7 376.8,67.1 377.0,66.4 377.2,65.8 377.4,65.2 377.6,64.6 377.8,64.0 378.0,63.4 378.1,62.7 378.2,62.1 378.3,61.4 378.4,60.8 378.6,60.2 378.7,59.5 378.8,58.9 378.9,58.2 379.0,57.6 379.1,56.9 379.2,56.3 379.3,55.7 379.4,55.0 379.5,54.4 379.6,53.7 379.6,53.1 379.7,52.4 379.8,51.8 379.9,51.1 379.9,50.5 380.1,49.9 380.3,49.4 380.5,48.8 380.7,48.3 381.1,47.9 381.7,47.8 382.3,47.7 383.0,47.7 383.5,47.8 384.0,48.0 384.0,48.6 384.0,49.2 384.0,49.9 384.0,50.5 384.0,51.2 384.0,51.8 384.0,52.5 384.0,53.1 384.0,53.8 384.0,54.4 384.0,55.1 384.0,55.7 384.0,56.4 384.0,57.0 384.0,57.7 384.0,58.4 384.0,59.0 384.0,59.7 384.0,60.3 384.0,61.0 384.0,61.6 384.0,62.3 384.0,62.9 384.0,63.6 384.0,64.2 384.0,64.9 384.0,65.5 384.0,66.2 384.0,66.8 384.0,67.5 384.0,68.1 384.0,68.8 384.0,69.4" fill="#ffff40" stroke="#ffc8c0" stroke-opacity="0.6" stroke-width="0.5"/>
<polygon points="384.0,50.0 381.0,51.4 379.6,59.6 378.9,65.0 378.5,69.5 380.3,70.5 384.0,69.0" fill="#ffffa0" stroke="#ffc8c0" stroke-opacity="0.6" stroke-width="0.5"/>
<polyline points="302.5,79.8 305.7,80.1 309.3,81.0 312.5,81.9 315.0,82.6 317.5,83.8 320.0,85.1 322.5,83.8 325.0,83.2 327.6,83.2 330.1,82.6 332.6,81.9 335.1,81.3 337.6,80.7 341.3,80.1 345.4,80.5 351.1,79.9 357.9,79.2 363.3,77.9 368.8,75.2 372.8,71.8 376.2,67.7 378.9,62.3 381.0,56.8 382.6,51.4" fill="none" stroke="#14e4e4" stroke-width="2.2" stroke-linejoin="round" stroke-linecap="round"/>
</g>
<g clip-path="url(#cT5)">
<polygon points="471.0,16.4 469.6,16.4 468.5,14.4 465.5,13.0 463.8,16.4 462.8,21.9 461.4,27.3 459.7,32.7 457.0,37.5 453.6,41.5 449.5,44.9 445.6,46.5 442.2,49.4 437.5,52.8 432.7,56.2 428.4,59.5 423.3,62.5 417.1,65.6 410.8,68.8 405.8,71.9 401.4,75.7 398.3,79.4 397.0,82.6 397.6,85.7 400.2,88.2 405.8,90.7 413.3,92.4 420.8,93.2 432.0,93.9 442.1,94.0 451.2,93.0 458.6,91.1 465.0,88.4 471.0,85.6" fill="#4a0000" stroke="#ffc8c0" stroke-opacity="0.6" stroke-width="0.5"/>
<polygon points="471.0,17.5 465.8,17.8 464.7,24.6 463.3,31.4 461.0,37.5 457.6,42.9 453.0,46.5 449.0,50.7 444.9,54.8 440.2,58.9 435.4,62.3 432.0,63.5 425.9,66.3 419.6,69.4 414.6,72.5 410.8,75.7 408.3,79.4 407.7,82.6 409.6,85.7 414.6,88.2 422.1,90.1 432.0,91.1 438.4,90.8 449.4,90.2 458.6,88.4 465.9,85.6 471.0,83.8" fill="#7c0000" stroke="#ffc8c0" stroke-opacity="0.6" stroke-width="0.5"/>
<polygon points="471.0,82.6 469.1,83.3 467.3,84.0 465.5,84.6 463.6,85.3 461.8,86.0 459.9,86.6 458.0,87.0 456.0,87.5 454.1,87.9 452.2,88.3 450.2,88.5 448.3,88.6 446.3,88.8 444.3,88.9 442.4,89.0 440.4,89.1 438.4,89.3 436.5,89.4 434.5,89.4 432.5,89.4 430.6,89.4 428.6,89.2 426.6,89.0 424.7,88.7 422.8,88.3 420.8,87.9 418.9,87.4 417.1,86.6 415.4,85.7 413.8,84.7 412.9,83.0 412.6,81.2 413.3,79.4 414.2,77.7 415.5,76.3 416.9,74.9 418.5,73.6 420.1,72.5 421.8,71.5 423.5,70.5 425.3,69.7 427.1,69.0 428.9,68.2 430.8,67.8 432.7,67.3 434.4,66.5 436.2,65.6 438.0,64.8 439.6,63.8 441.2,62.6 442.8,61.4 444.3,60.2 445.7,58.8 447.2,57.4 448.6,56.1 449.7,54.5 450.9,52.9 452.1,51.3 453.2,49.8 454.4,48.2 455.6,46.6 457.2,45.5 458.5,44.1 459.7,42.6 460.9,41.0 461.8,39.3 462.6,37.5 463.4,35.6 464.1,33.8 464.6,31.9 465.0,30.0 465.5,28.1 465.8,26.1 466.0,24.2 466.3,22.2 466.8,20.5 468.8,20.2 470.7,19.9 471.0,21.5 471.0,23.5 471.0,25.4 471.0,27.4 471.0,29.4 471.0,31.4 471.0,33.3 471.0,35.3 471.0,37.3 471.0,39.2 471.0,41.2 471.0,43.2 471.0,45.1 471.0,47.1 471.0,49.1 471.0,51.1 471.0,53.0 471.0,55.0 471.0,57.0 471.0,58.9 471.0,60.9 471.0,62.9 471.0,64.9 471.0,66.8 471.0,68.8 471.0,70.8 471.0,72.7 471.0,74.7 471.0,76.7 471.0,78.7 471.0,80.6" fill="#a80000" stroke="#ffc8c0" stroke-opacity="0.6" stroke-width="0.5"/>
<polygon points="471.0,21.0 466.9,21.9 466.1,28.6 464.4,35.4 461.7,41.5 457.6,46.5 456.4,47.0 453.7,51.4 450.3,56.8 445.6,61.6 440.2,65.7 434.7,68.5 432.0,68.5 425.9,70.7 420.8,73.8 416.5,77.6 414.6,81.3 415.8,84.5 420.8,87.0 427.1,88.2 432.0,88.8 440.3,88.4 453.1,87.5 462.2,85.3 471.0,82.0" fill="#bc0000" stroke="#ffc8c0" stroke-opacity="0.6" stroke-width="0.5"/>
<polygon points="470.6,81.6 468.9,82.2 467.1,82.9 465.4,83.5 463.7,84.1 461.9,84.7 460.1,85.2 458.4,85.6 456.6,86.1 454.8,86.5 453.0,86.8 451.1,87.0 449.3,87.1 447.4,87.3 445.6,87.5 443.8,87.6 441.9,87.8 440.1,87.9 438.3,88.0 436.4,88.1 434.6,88.2 432.7,88.3 430.9,88.1 429.1,88.0 427.2,87.7 425.4,87.4 423.6,87.1 421.8,86.6 420.2,85.8 418.5,85.0 417.3,83.8 416.6,82.1 416.8,80.4 417.6,78.8 418.6,77.2 420.0,76.0 421.4,74.8 422.8,73.7 424.5,72.9 426.1,72.0 427.7,71.3 429.4,71.1 431.1,70.5 432.8,69.9 434.6,69.6 436.4,69.2 438.0,68.4 439.6,67.5 441.3,66.6 442.7,65.5 444.2,64.4 445.6,63.2 447.0,62.0 448.3,60.7 449.6,59.3 450.8,58.0 451.8,56.5 452.8,54.9 453.8,53.3 454.7,51.7 455.6,50.1 456.5,48.5 457.9,47.4 458.9,45.9 460.0,44.4 461.2,43.1 462.2,41.8 463.0,40.2 463.9,38.6 464.6,36.9 465.1,35.1 465.6,33.4 466.0,31.6 466.4,29.8 466.6,27.9 466.9,26.1 467.3,24.5 468.9,23.9 470.7,23.4 471.0,24.7 471.0,26.6 471.0,28.4 471.0,30.3 471.0,32.1 471.0,34.0 471.0,35.8 471.0,37.7 471.0,39.5 471.0,41.3 471.0,43.2 471.0,45.0 471.0,46.9 471.0,48.7 471.0,50.6 471.0,52.4 471.0,54.3 471.0,56.1 471.0,57.9 471.0,59.8 471.0,61.6 471.0,63.5 471.0,65.3 471.0,67.2 471.0,69.0 471.0,70.8 471.0,72.7 471.0,74.5 471.0,76.4 471.0,78.2 471.0,80.1" fill="#d00000" stroke="#ffc8c0" stroke-opacity="0.6" stroke-width="0.5"/>
<polygon points="469.8,80.9 468.2,81.4 466.6,81.9 464.9,82.5 463.3,83.0 461.7,83.5 460.0,84.0 458.4,84.5 456.7,84.8 455.0,85.1 453.3,85.4 451.6,85.6 449.9,85.8 448.2,86.1 446.5,86.3 444.8,86.5 443.1,86.7 441.4,86.8 439.7,86.9 438.0,87.0 436.3,87.1 434.5,87.2 432.8,87.3 431.1,87.3 429.4,87.1 427.7,86.8 426.0,86.6 424.4,86.0 422.9,85.3 421.3,84.6 420.5,83.2 419.9,81.6 420.4,80.1 421.1,78.5 422.1,77.2 423.4,76.0 424.7,74.9 426.2,74.0 427.8,73.4 429.4,72.9 430.9,72.7 432.4,73.2 433.9,72.8 435.5,72.2 437.2,71.7 438.7,71.2 440.2,70.3 441.7,69.4 443.2,68.6 444.6,67.6 445.9,66.4 447.2,65.3 448.5,64.2 449.7,63.0 450.8,61.7 451.9,60.4 452.9,59.0 453.9,57.6 454.6,56.0 455.4,54.5 456.1,53.0 456.9,51.4 457.7,50.0 458.5,48.5 459.3,47.0 460.4,46.0 461.8,45.5 462.8,44.2 463.9,42.8 464.6,41.3 465.2,39.7 465.7,38.1 466.2,36.4 466.6,34.8 466.9,33.1 467.1,31.4 467.5,29.7 468.6,28.7 470.2,28.1 471.0,28.6 471.0,30.3 471.0,32.0 471.0,33.7 471.0,35.4 471.0,37.1 471.0,38.8 471.0,40.6 471.0,42.3 471.0,44.0 471.0,45.7 471.0,47.4 471.0,49.1 471.0,50.9 471.0,52.6 471.0,54.3 471.0,56.0 471.0,57.7 471.0,59.4 471.0,61.2 471.0,62.9 471.0,64.6 471.0,66.3 471.0,68.0 471.0,69.7 471.0,71.4 471.0,73.2 471.0,74.9 471.0,76.6 471.0,78.3 471.0,80.0" fill="#f00000" stroke="#ffc8c0" stroke-opacity="0.6" stroke-width="0.5"/>
<polygon points="471.0,30.0 467.8,31.4 466.5,38.1 464.4,44.3 461.5,47.5 459.2,47.5 457.1,52.8 454.4,58.9 450.3,64.3 444.9,69.1 439.5,72.4 434.1,74.5 432.0,73.0 427.1,74.4 423.3,77.6 421.5,81.3 422.7,84.5 427.1,86.3 432.0,87.0 445.0,86.0 458.0,84.0 471.0,80.0" fill="#f81400" stroke="#ffc8c0" stroke-opacity="0.6" stroke-width="0.5"/>
<polygon points="470.8,79.7 469.2,80.2 467.7,80.7 466.2,81.2 464.6,81.6 463.1,82.1 461.5,82.6 460.0,83.1 458.4,83.5 456.9,83.8 455.3,84.1 453.7,84.4 452.1,84.6 450.5,84.9 448.9,85.1 447.3,85.4 445.7,85.6 444.1,85.8 442.5,85.9 440.9,86.1 439.3,86.2 437.7,86.3 436.1,86.4 434.5,86.5 432.9,86.6 431.3,86.5 429.7,86.3 428.1,86.1 426.6,85.6 425.1,85.0 423.6,84.4 423.0,82.9 422.5,81.4 423.2,80.0 423.9,78.5 424.9,77.5 426.2,76.6 427.5,75.8 428.9,75.1 430.4,74.7 432.0,74.2 433.5,74.2 434.8,74.9 436.2,74.5 437.7,73.9 439.2,73.3 440.7,72.6 442.0,71.8 443.4,70.9 444.8,70.0 446.1,69.1 447.3,68.0 448.5,67.0 449.7,65.9 450.8,64.8 451.8,63.5 452.8,62.2 453.7,60.9 454.7,59.6 455.4,58.2 456.0,56.7 456.7,55.2 457.3,53.7 457.9,52.2 458.5,50.7 459.0,49.2 460.0,48.3 461.4,48.0 462.4,46.8 463.4,45.5 464.2,44.3 464.9,43.0 465.6,41.7 466.2,40.2 466.7,38.7 467.0,37.1 467.4,35.5 467.7,34.0 468.4,32.7 469.7,31.9 470.9,31.8 471.0,33.2 471.0,34.8 471.0,36.4 471.0,38.0 471.0,39.6 471.0,41.2 471.0,42.8 471.0,44.4 471.0,46.1 471.0,47.7 471.0,49.3 471.0,50.9 471.0,52.5 471.0,54.1 471.0,55.7 471.0,57.3 471.0,58.9 471.0,60.6 471.0,62.2 471.0,63.8 471.0,65.4 471.0,67.0 471.0,68.6 471.0,70.2 471.0,71.8 471.0,73.5 471.0,75.1 471.0,76.7 471.0,78.3" fill="#ff2800" stroke="#ffc8c0" stroke-opacity="0.6" stroke-width="0.5"/>
<polygon points="470.3,79.2 468.9,79.7 467.4,80.1 465.9,80.6 464.5,81.0 463.0,81.5 461.5,81.9 460.1,82.4 458.6,82.8 457.1,83.1 455.6,83.4 454.1,83.7 452.6,83.9 451.1,84.2 449.6,84.4 448.0,84.7 446.5,85.0 445.0,85.2 443.5,85.4 442.0,85.5 440.4,85.6 438.9,85.7 437.4,85.7 435.8,85.8 434.3,85.9 432.8,85.9 431.3,85.8 429.7,85.7 428.3,85.3 426.8,84.9 425.5,84.3 424.9,82.9 424.4,81.5 425.1,80.2 425.9,78.8 427.0,78.2 428.3,77.8 429.6,77.5 431.0,76.9 432.4,76.5 433.9,76.1 435.3,75.9 436.6,76.0 438.0,75.6 439.4,74.9 440.8,74.3 442.2,73.6 443.4,72.7 444.7,71.9 446.0,71.0 447.2,70.1 448.4,69.1 449.5,68.1 450.6,67.0 451.7,66.0 452.7,64.8 453.6,63.6 454.4,62.3 455.3,61.0 456.0,59.6 456.6,58.3 457.2,56.9 457.8,55.4 458.3,54.0 458.8,52.5 459.3,51.1 460.0,50.0 461.0,49.3 461.7,48.0 462.5,46.7 463.4,45.8 464.4,45.0 465.4,44.2 466.1,42.9 466.8,41.6 467.2,40.1 467.5,38.6 467.8,37.1 468.3,35.8 469.4,34.9 470.6,34.5 471.0,35.2 471.0,36.8 471.0,38.3 471.0,39.8 471.0,41.4 471.0,42.9 471.0,44.4 471.0,46.0 471.0,47.5 471.0,49.0 471.0,50.6 471.0,52.1 471.0,53.6 471.0,55.2 471.0,56.7 471.0,58.2 471.0,59.8 471.0,61.3 471.0,62.8 471.0,64.4 471.0,65.9 471.0,67.4 471.0,69.0 471.0,70.5 471.0,72.0 471.0,73.6 471.0,75.1 471.0,76.6 471.0,78.2" fill="#ff5800" stroke="#ffc8c0" stroke-opacity="0.6" stroke-width="0.5"/>
<polygon points="469.9,78.7 468.5,79.1 467.1,79.5 465.7,80.0 464.3,80.4 462.9,80.8 461.5,81.2 460.1,81.7 458.8,82.1 457.3,82.5 455.9,82.7 454.5,83.0 453.1,83.2 451.6,83.5 450.2,83.8 448.8,84.0 447.3,84.3 445.9,84.6 444.5,84.8 443.0,84.9 441.6,84.9 440.1,85.0 438.7,85.1 437.2,85.2 435.8,85.2 434.3,85.3 432.9,85.3 431.4,85.3 430.0,85.0 428.6,84.7 427.3,84.2 426.7,82.9 426.3,81.6 427.1,80.4 427.8,79.1 429.0,78.9 430.3,79.0 431.7,79.1 433.1,78.7 434.5,78.3 435.9,77.9 437.2,77.6 438.5,77.2 439.8,76.6 441.1,75.9 442.4,75.3 443.7,74.6 444.8,73.7 446.0,72.9 447.2,72.0 448.4,71.2 449.5,70.2 450.5,69.2 451.5,68.2 452.6,67.1 453.6,66.1 454.4,64.9 455.1,63.7 455.9,62.4 456.6,61.1 457.3,59.8 457.8,58.5 458.2,57.1 458.7,55.7 459.1,54.3 459.5,53.0 460.0,51.7 460.6,50.5 461.1,49.2 461.5,47.8 462.6,47.3 463.9,47.0 465.1,46.7 466.0,45.6 466.8,44.4 467.3,43.1 467.6,41.7 467.9,40.2 468.3,38.9 469.1,37.8 470.3,37.2 471.0,37.3 471.0,38.8 471.0,40.2 471.0,41.7 471.0,43.2 471.0,44.6 471.0,46.1 471.0,47.5 471.0,49.0 471.0,50.4 471.0,51.9 471.0,53.3 471.0,54.8 471.0,56.2 471.0,57.7 471.0,59.2 471.0,60.6 471.0,62.1 471.0,63.5 471.0,65.0 471.0,66.4 471.0,67.9 471.0,69.3 471.0,70.8 471.0,72.2 471.0,73.7 471.0,75.1 471.0,76.6 471.0,78.1" fill="#ff8800" stroke="#ffc8c0" stroke-opacity="0.6" stroke-width="0.5"/>
<polygon points="471.0,38.0 468.5,39.5 467.1,45.6 465.0,48.0 461.2,48.0 459.8,53.5 457.8,60.2 454.4,66.3 449.7,71.1 444.2,75.2 438.1,78.5 432.7,80.0 429.0,79.0 427.1,81.9 428.4,84.5 432.0,85.1 445.0,84.5 458.0,82.0 471.0,78.0" fill="#ffa000" stroke="#ffc8c0" stroke-opacity="0.6" stroke-width="0.5"/>
<polygon points="471.0,77.5 470.0,78.1 468.7,78.4 467.4,78.8 466.1,79.2 464.8,79.6 463.5,80.0 462.2,80.4 460.9,80.8 459.6,81.2 458.3,81.5 457.0,81.8 455.7,82.1 454.4,82.3 453.0,82.6 451.7,82.9 450.4,83.1 449.1,83.4 447.7,83.7 446.4,83.9 445.1,84.0 443.7,84.1 442.4,84.3 441.0,84.4 439.7,84.5 438.3,84.6 437.0,84.6 435.6,84.7 434.3,84.8 433.0,84.6 431.6,84.5 430.4,84.1 429.7,83.2 429.7,82.0 430.5,81.0 431.3,80.0 432.5,79.9 433.8,80.0 435.1,80.2 436.4,79.8 437.7,79.4 439.0,79.0 440.2,78.5 441.4,77.9 442.6,77.3 443.8,76.6 445.0,75.9 446.1,75.2 447.2,74.4 448.3,73.6 449.3,72.8 450.4,71.9 451.3,71.0 452.3,70.0 453.2,69.0 454.1,68.0 455.0,67.0 455.7,65.9 456.3,64.7 457.0,63.5 457.6,62.3 458.2,61.1 458.7,59.8 459.1,58.6 459.4,57.3 459.8,56.0 460.2,54.7 460.5,53.3 460.8,52.0 461.1,50.7 461.4,49.4 462.3,48.8 463.4,48.5 464.5,48.2 465.2,47.1 465.9,46.0 466.4,44.9 467.0,43.9 467.5,42.8 468.0,41.7 468.7,40.7 469.9,40.1 470.9,39.8 471.0,41.0 471.0,42.3 471.0,43.7 471.0,45.0 471.0,46.4 471.0,47.7 471.0,49.1 471.0,50.4 471.0,51.8 471.0,53.1 471.0,54.5 471.0,55.8 471.0,57.2 471.0,58.5 471.0,59.9 471.0,61.2 471.0,62.6 471.0,63.9 471.0,65.3 471.0,66.7 471.0,68.0 471.0,69.4 471.0,70.7 471.0,72.1 471.0,73.4 471.0,74.8 471.0,76.1" fill="#ffb800" stroke="#ffc8c0" stroke-opacity="0.6" stroke-width="0.5"/>
<polygon points="471.0,76.4 470.7,77.4 469.5,77.7 468.3,78.0 467.1,78.3 465.9,78.7 464.8,79.0 463.6,79.3 462.4,79.7 461.2,80.0 460.1,80.3 458.9,80.6 457.7,80.9 456.5,81.2 455.3,81.4 454.1,81.7 452.9,82.0 451.7,82.2 450.5,82.5 449.3,82.8 448.1,83.0 446.9,83.2 445.7,83.4 444.5,83.6 443.3,83.8 442.1,83.9 440.9,84.0 439.7,84.0 438.4,84.1 437.2,84.1 436.0,84.1 434.8,84.0 434.0,83.7 434.5,82.7 435.4,81.9 436.4,81.3 437.5,81.0 438.7,80.8 439.8,80.6 441.0,80.2 442.1,79.7 443.2,79.2 444.3,78.8 445.4,78.2 446.5,77.6 447.5,76.9 448.5,76.2 449.5,75.5 450.5,74.8 451.5,74.1 452.4,73.3 453.2,72.4 454.0,71.4 454.8,70.5 455.5,69.6 456.3,68.6 457.0,67.6 457.5,66.5 458.0,65.4 458.5,64.3 459.0,63.2 459.5,62.0 459.9,60.9 460.2,59.7 460.5,58.5 460.8,57.3 461.1,56.2 461.4,55.0 461.7,53.8 462.0,52.6 462.1,51.4 462.5,50.4 463.0,49.5 463.4,48.7 463.7,47.5 464.1,46.4 464.7,45.6 465.6,45.3 466.5,44.8 467.4,44.2 468.4,43.6 469.5,43.1 470.6,42.8 471.0,43.3 471.0,44.6 471.0,45.8 471.0,47.0 471.0,48.2 471.0,49.5 471.0,50.7 471.0,51.9 471.0,53.1 471.0,54.4 471.0,55.6 471.0,56.8 471.0,58.0 471.0,59.2 471.0,60.5 471.0,61.7 471.0,62.9 471.0,64.1 471.0,65.4 471.0,66.6 471.0,67.8 471.0,69.0 471.0,70.3 471.0,71.5 471.0,72.7 471.0,73.9 471.0,75.2" fill="#ffe000" stroke="#ffc8c0" stroke-opacity="0.6" stroke-width="0.5"/>
<polygon points="471.0,44.0 465.5,46.0 463.2,46.0 462.3,54.1 460.5,61.6 457.8,68.4 453.7,73.8 448.3,77.9 442.9,80.6 437.5,82.5 436.0,84.0 445.0,83.5 458.0,80.5 471.0,77.0" fill="#fff020" stroke="#ffc8c0" stroke-opacity="0.6" stroke-width="0.5"/>
<polygon points="471.0,75.1 470.4,75.7 469.9,76.3 468.9,76.6 467.9,76.9 466.9,77.2 465.9,77.6 464.9,77.9 463.9,78.2 462.8,78.5 461.8,78.8 460.8,79.1 459.8,79.4 458.8,79.7 457.8,80.0 456.8,80.3 455.8,80.6 454.8,80.9 453.8,81.2 452.8,81.5 451.8,81.8 450.7,82.1 449.7,82.4 448.7,82.7 447.7,82.8 446.6,82.8 445.6,82.9 444.5,82.9 443.5,83.0 442.4,83.0 441.9,82.9 441.8,82.6 442.6,82.0 443.5,81.4 444.4,80.9 445.4,80.5 446.3,80.0 447.2,79.5 448.1,79.0 449.0,78.4 449.9,77.9 450.8,77.3 451.6,76.7 452.5,76.1 453.2,75.4 454.0,74.7 454.7,74.0 455.5,73.2 456.3,72.5 456.9,71.7 457.5,70.8 458.0,69.9 458.5,69.0 459.0,68.1 459.6,67.2 460.0,66.3 460.4,65.3 460.8,64.3 461.1,63.3 461.4,62.3 461.7,61.3 462.0,60.3 462.2,59.3 462.5,58.2 462.7,57.2 462.9,56.2 463.1,55.2 463.3,54.1 463.4,53.1 463.5,52.0 463.6,51.0 463.7,49.9 463.8,48.9 463.9,47.8 464.0,46.8 464.4,46.0 465.4,46.0 466.5,45.9 467.5,45.7 468.5,45.5 469.5,45.3 470.5,45.1 471.0,45.6 471.0,46.6 471.0,47.7 471.0,48.7 471.0,49.8 471.0,50.8 471.0,51.9 471.0,52.9 471.0,54.0 471.0,55.0 471.0,56.1 471.0,57.1 471.0,58.2 471.0,59.3 471.0,60.3 471.0,61.4 471.0,62.4 471.0,63.5 471.0,64.5 471.0,65.6 471.0,66.6 471.0,67.7 471.0,68.7 471.0,69.8 471.0,70.8 471.0,71.9 471.0,72.9 471.0,74.0" fill="#ffff40" stroke="#ffc8c0" stroke-opacity="0.6" stroke-width="0.5"/>
<polygon points="471.0,46.0 465.0,46.0 464.2,55.5 462.5,63.6 459.8,70.4 455.8,75.2 451.0,79.2 446.3,82.2 452.0,82.0 460.0,79.0 471.0,75.0" fill="#ffff70" stroke="#ffc8c0" stroke-opacity="0.6" stroke-width="0.5"/>
<polygon points="471.0,71.1 470.6,71.5 470.1,71.9 469.7,72.3 469.2,72.7 468.8,73.1 468.3,73.5 467.9,73.9 467.4,74.3 466.8,74.5 466.1,74.8 465.5,75.0 464.8,75.3 464.1,75.5 463.5,75.8 462.8,76.1 462.2,76.3 461.5,76.6 460.8,76.8 460.2,77.1 459.5,77.3 458.9,77.4 458.2,77.4 457.5,77.3 456.8,77.2 456.1,77.2 455.4,77.1 454.7,77.0 454.7,76.8 455.1,76.3 455.6,75.8 456.1,75.3 456.6,74.9 457.0,74.4 457.5,73.9 457.9,73.4 458.4,72.8 458.8,72.3 459.2,71.8 459.6,71.3 460.0,70.7 460.4,70.1 460.7,69.5 461.1,68.9 461.4,68.4 461.8,67.8 462.1,67.2 462.4,66.5 462.6,65.9 462.9,65.2 463.1,64.5 463.3,63.9 463.5,63.2 463.7,62.5 464.0,61.9 464.1,61.2 464.3,60.5 464.4,59.8 464.5,59.1 464.7,58.4 464.8,57.7 465.0,57.0 465.1,56.3 465.2,55.6 465.3,54.9 465.4,54.2 465.5,53.5 465.6,52.9 465.9,52.3 466.1,51.7 466.4,51.2 466.6,50.6 466.9,50.0 467.1,49.4 467.8,49.3 468.5,49.2 469.2,49.1 469.8,49.0 470.4,49.2 470.8,49.4 471.0,49.9 471.0,50.7 471.0,51.4 471.0,52.1 471.0,52.8 471.0,53.5 471.0,54.2 471.0,54.9 471.0,55.6 471.0,56.3 471.0,57.0 471.0,57.7 471.0,58.4 471.0,59.1 471.0,59.8 471.0,60.5 471.0,61.2 471.0,62.0 471.0,62.7 471.0,63.4 471.0,64.1 471.0,64.8 471.0,65.5 471.0,66.2 471.0,66.9 471.0,67.6 471.0,68.3 471.0,69.0 471.0,69.7 471.0,70.4" fill="#ffffa0" stroke="#ffc8c0" stroke-opacity="0.6" stroke-width="0.5"/>
<polygon points="471.0,52.0 466.6,54.1 465.3,60.9 463.9,67.7 462.5,71.8 465.9,73.1 471.0,71.0" fill="#ffffd0" stroke="#ffc8c0" stroke-opacity="0.6" stroke-width="0.5"/>
<polyline points="389.4,82.9 392.0,81.9 394.5,81.3 397.0,80.1 398.9,81.3 400.8,83.2 404.5,83.8 408.3,83.2 412.1,82.6 415.8,81.9 418.3,82.6 420.8,83.2 423.3,81.9 427.1,81.9 430.0,82.4 434.1,81.9 439.5,80.6 444.9,79.2 450.3,77.2 455.8,75.2 459.8,72.4 463.2,69.1 465.9,65.0 468.0,60.2 469.6,56.2" fill="none" stroke="#14e4e4" stroke-width="2.2" stroke-linejoin="round" stroke-linecap="round"/>
</g>
<g clip-path="url(#cT6)">
<polygon points="558.0,40.4 556.5,40.4 555.6,34.9 554.0,29.5 552.4,27.5 550.6,28.8 548.6,32.2 545.9,35.6 542.5,39.0 538.4,41.7 534.3,43.8 531.6,45.1 528.2,47.2 524.1,49.2 520.1,51.2 516.0,52.8 511.3,54.9 505.8,56.9 500.4,59.7 495.0,62.4 490.9,64.4 487.5,67.1 484.8,69.5 482.9,72.0 481.2,74.5 480.4,77.5 480.4,82.1 480.8,86.2 482.3,89.6 485.2,91.9 489.8,94.2 495.6,95.7 502.5,96.9 509.4,97.4 516.0,97.7 525.0,98.0 533.9,97.7 542.8,97.0 548.8,95.5 553.3,93.3 555.5,89.5 556.6,84.3 558.0,84.0" fill="#4a0000" stroke="#ffc8c0" stroke-opacity="0.6" stroke-width="0.5"/>
<polygon points="558.0,44.4 554.7,41.7 552.7,40.4 550.6,39.7 547.9,41.7 544.5,44.4 540.4,47.2 536.4,49.2 532.3,50.5 528.2,52.6 523.5,54.6 518.7,56.7 516.0,57.6 509.9,60.3 504.5,63.1 499.1,65.8 494.3,68.5 489.0,70.5 486.5,73.5 485.2,77.0 485.0,81.0 485.8,85.0 488.1,88.5 492.1,90.8 497.9,92.7 504.8,93.9 510.6,94.6 516.0,95.0 527.9,95.5 538.4,94.8 545.8,93.3 551.0,91.0 554.0,87.3 555.5,82.8 556.6,79.9 558.0,79.9" fill="#7c0000" stroke="#ffc8c0" stroke-opacity="0.6" stroke-width="0.5"/>
<polygon points="558.0,49.9 555.4,48.5 552.0,47.8 549.3,47.8 545.9,49.9 541.8,51.9 537.7,53.3 533.6,54.6 529.6,56.0 524.1,58.0 520.1,60.0 516.0,62.4 509.9,65.1 504.5,67.8 499.1,70.5 495.0,72.5 492.0,75.0 489.8,78.5 489.5,81.5 490.5,84.5 492.7,87.3 497.3,89.6 503.7,91.4 510.6,92.3 516.0,93.0 527.9,93.3 538.4,92.5 545.8,91.0 551.0,88.1 554.0,83.6 555.5,78.4 556.6,75.4 558.0,75.4" fill="#a80000" stroke="#ffc8c0" stroke-opacity="0.6" stroke-width="0.5"/>
<polygon points="556.2,74.5 555.3,75.4 554.8,76.9 554.3,78.5 553.8,80.0 553.4,81.6 552.7,83.0 551.9,84.4 551.0,85.8 550.0,86.9 548.6,87.8 547.3,88.7 545.9,89.5 544.4,90.0 542.8,90.4 541.2,90.7 539.7,91.1 538.1,91.4 536.5,91.5 534.9,91.7 533.3,91.8 531.7,91.9 530.1,92.0 528.4,92.1 526.8,92.1 525.2,92.1 523.6,92.0 522.0,91.9 520.4,91.9 518.8,91.8 517.2,91.8 515.6,91.6 514.0,91.4 512.4,91.2 510.8,91.0 509.2,90.8 507.6,90.6 506.0,90.3 504.4,90.0 502.9,89.6 501.3,89.2 499.8,88.7 498.3,88.1 496.8,87.4 495.4,86.7 494.3,85.5 493.3,84.3 492.7,82.8 492.4,81.3 492.5,79.7 492.8,78.1 493.5,76.7 494.5,75.5 495.7,74.4 497.0,73.4 498.4,72.6 499.8,71.9 501.3,71.2 502.7,70.6 504.2,69.9 505.7,69.2 507.1,68.5 508.6,67.8 510.0,67.1 511.5,66.4 512.9,65.8 514.4,65.1 515.9,64.5 517.4,63.9 518.8,63.2 520.3,62.5 521.8,61.9 523.2,61.2 524.7,60.6 526.2,60.0 527.7,59.4 529.2,58.8 530.7,58.2 532.2,57.7 533.7,57.1 535.2,56.6 536.8,56.1 538.3,55.6 539.8,55.0 541.4,54.5 542.9,54.0 544.3,53.4 545.8,52.6 547.2,51.9 548.6,51.1 550.1,50.4 551.6,50.1 553.1,50.0 554.7,50.4 556.2,50.9 557.7,51.5 558.0,52.9 558.0,54.5 558.0,56.1 558.0,57.7 558.0,59.3 558.0,60.9 558.0,62.5 558.0,64.2 558.0,65.8 558.0,67.4 557.3,68.3 556.9,69.8 556.7,71.4 556.5,73.0" fill="#d00000" stroke="#ffc8c0" stroke-opacity="0.6" stroke-width="0.5"/>
<polygon points="558.0,53.3 552.7,51.9 548.6,53.9 544.5,56.0 540.4,57.3 536.4,58.7 533.0,60.0 527.0,62.5 521.0,64.5 516.0,66.4 509.9,69.2 504.5,71.5 500.0,73.5 496.5,76.0 495.0,80.0 495.5,83.3 497.9,86.2 503.1,88.2 509.4,89.6 516.0,90.4 527.9,91.0 538.4,90.3 545.1,88.5 550.0,85.1 552.5,80.6 554.0,75.4 555.5,70.2 556.6,67.9 558.0,67.9" fill="#f00000" stroke="#ffc8c0" stroke-opacity="0.6" stroke-width="0.5"/>
<polygon points="555.9,68.2 555.1,68.9 554.7,70.2 554.2,71.6 553.9,72.9 553.6,74.3 553.2,75.7 552.9,77.1 552.5,78.4 552.1,79.8 551.5,81.1 550.8,82.3 550.2,83.6 549.3,84.6 548.2,85.5 547.0,86.4 545.9,87.2 544.7,87.9 543.3,88.3 542.0,88.7 540.6,89.1 539.2,89.5 537.8,89.7 536.4,89.8 535.0,90.0 533.6,90.1 532.2,90.2 530.8,90.3 529.4,90.4 527.9,90.5 526.5,90.4 525.1,90.3 523.7,90.3 522.3,90.2 520.9,90.1 519.4,90.0 518.0,89.9 516.6,89.8 515.2,89.7 513.8,89.5 512.4,89.3 511.0,89.1 509.6,88.9 508.2,88.6 506.8,88.3 505.4,88.0 504.1,87.6 502.7,87.2 501.4,86.6 500.2,85.9 499.2,84.9 498.4,83.8 498.0,82.4 498.0,81.1 498.5,79.9 499.2,78.7 499.9,77.5 501.0,76.6 502.2,75.8 503.3,75.0 504.6,74.3 505.9,73.7 507.1,73.1 508.4,72.5 509.7,72.0 511.0,71.4 512.3,70.9 513.7,70.3 515.0,69.8 516.3,69.2 517.6,68.7 518.9,68.2 520.3,67.7 521.6,67.3 522.9,66.8 524.3,66.3 525.6,65.8 526.9,65.4 528.3,64.9 529.6,64.4 530.9,63.9 532.2,63.3 533.6,62.8 534.9,62.3 536.2,61.8 537.5,61.3 538.9,60.9 540.2,60.4 541.6,59.9 542.9,59.5 544.3,59.1 545.6,58.5 546.8,57.8 548.0,57.0 549.2,56.4 550.5,55.8 551.8,55.1 553.1,54.8 554.5,55.1 555.9,55.3 557.3,55.6 558.0,56.4 558.0,57.8 558.0,59.2 557.3,60.0 557.0,61.3 556.6,62.6 556.4,64.0 556.3,65.4 556.1,66.8" fill="#ff2800" stroke="#ffc8c0" stroke-opacity="0.6" stroke-width="0.5"/>
<polygon points="558.0,58.2 552.7,57.5 548.6,59.5 545.9,61.5 540.0,63.5 533.0,66.0 525.0,69.0 516.0,72.0 511.3,74.0 506.5,76.5 503.0,79.0 500.5,82.0 501.5,85.0 504.8,87.1 510.6,88.4 516.0,89.2 527.9,90.0 538.4,89.1 545.1,87.0 549.5,83.6 551.8,79.1 553.0,73.2 554.0,67.9 555.1,63.5 556.6,61.2 558.0,61.2" fill="#ff5800" stroke="#ffc8c0" stroke-opacity="0.6" stroke-width="0.5"/>
<polygon points="556.1,61.4 555.2,61.9 554.7,63.0 554.1,64.1 553.7,65.3 553.5,66.5 553.2,67.7 553.0,68.9 552.7,70.2 552.5,71.4 552.3,72.6 552.1,73.9 551.8,75.1 551.6,76.3 551.3,77.5 551.0,78.7 550.5,79.9 550.0,81.0 549.5,82.2 548.8,83.2 547.8,84.0 546.8,84.8 545.9,85.6 544.9,86.3 543.7,86.8 542.5,87.1 541.3,87.5 540.1,87.9 539.0,88.3 537.7,88.5 536.5,88.6 535.2,88.7 534.0,88.8 532.7,88.9 531.5,89.0 530.2,89.1 529.0,89.2 527.8,89.3 526.5,89.3 525.3,89.2 524.0,89.1 522.8,89.1 521.5,89.0 520.3,88.9 519.0,88.9 517.8,88.8 516.5,88.7 515.3,88.6 514.0,88.5 512.8,88.3 511.6,88.1 510.3,87.9 509.1,87.6 507.9,87.4 506.6,87.2 505.5,86.6 504.5,86.0 503.4,85.3 502.9,84.2 502.5,83.0 502.6,81.9 503.3,80.9 504.0,79.9 505.0,79.1 506.0,78.3 507.0,77.6 508.1,77.0 509.2,76.5 510.3,76.0 511.5,75.5 512.6,75.0 513.8,74.6 515.0,74.1 516.1,73.6 517.3,73.2 518.5,72.7 519.6,72.3 520.8,71.9 522.0,71.5 523.2,71.0 524.3,70.6 525.5,70.2 526.7,69.7 527.8,69.2 529.0,68.8 530.2,68.3 531.3,67.9 532.5,67.4 533.7,67.0 534.8,66.5 536.0,66.1 537.2,65.6 538.3,65.2 539.5,64.7 540.7,64.3 541.8,63.8 543.0,63.4 544.2,63.0 545.3,62.5 546.4,61.8 547.5,61.2 548.6,60.7 549.8,60.2 550.9,59.7 552.1,59.3 553.3,59.2 554.5,59.1 555.7,59.0 556.7,59.0 556.4,60.2" fill="#ff8800" stroke="#ffc8c0" stroke-opacity="0.6" stroke-width="0.5"/>
<polygon points="555.5,59.5 546.5,62.8 538.1,66.3 529.8,69.8 521.4,73.2 515.0,75.7 508.8,77.8 505.1,80.5 504.0,83.0 505.1,85.5 508.1,87.2 515.0,88.2 527.5,88.7 538.6,87.8 544.8,85.7 548.8,82.1 550.8,76.9 551.8,70.9 552.6,65.7 554.2,61.5" fill="#ffb800" stroke="#ffc8c0" stroke-opacity="0.6" stroke-width="0.5"/>
<polygon points="554.1,62.9 553.4,63.7 552.7,64.5 552.2,65.4 551.8,66.4 551.4,67.4 551.1,68.4 550.7,69.5 550.5,70.5 550.3,71.6 550.2,72.7 550.0,73.7 549.8,74.8 549.5,75.9 549.1,76.9 548.7,77.9 548.4,78.9 548.0,79.9 547.5,80.9 546.7,81.7 546.0,82.4 545.2,83.1 544.4,83.9 543.6,84.6 542.6,85.0 541.5,85.3 540.5,85.7 539.5,86.0 538.4,86.3 537.4,86.6 536.3,86.9 535.3,87.1 534.2,87.1 533.1,87.2 532.0,87.3 530.9,87.4 529.9,87.4 528.8,87.5 527.7,87.6 526.6,87.6 525.5,87.6 524.4,87.7 523.3,87.7 522.3,87.6 521.2,87.6 520.1,87.5 519.0,87.5 517.9,87.4 516.8,87.4 515.7,87.3 514.7,87.2 513.6,87.1 512.5,87.0 511.4,86.9 510.3,86.8 509.4,86.3 508.4,85.8 507.5,85.3 506.9,84.4 506.6,83.4 506.5,82.3 507.1,81.5 507.8,80.7 508.7,80.1 509.5,79.4 510.4,78.7 511.3,78.2 512.3,77.8 513.3,77.3 514.3,76.9 515.3,76.4 516.2,75.9 517.2,75.5 518.2,75.0 519.2,74.6 520.2,74.2 521.2,73.8 522.2,73.4 523.3,73.0 524.3,72.6 525.3,72.2 526.3,71.8 527.3,71.4 528.3,71.0 529.3,70.7 530.4,70.3 531.4,69.9 532.4,69.5 533.4,69.1 534.4,68.8 535.4,68.4 536.5,68.0 537.5,67.6 538.5,67.2 539.5,66.9 540.5,66.5 541.5,66.1 542.6,65.7 543.6,65.3 544.6,65.0 545.6,64.6 546.7,64.3 547.7,64.0 548.8,63.7 549.8,63.4 550.8,63.1 551.9,62.8 552.9,62.5 554.0,62.2 554.4,62.4" fill="#ffe000" stroke="#ffc8c0" stroke-opacity="0.6" stroke-width="0.5"/>
<polygon points="554.6,63.2 544.0,65.9 535.0,69.0 526.0,72.2 518.2,75.3 511.5,79.0 507.6,82.2 508.1,84.9 511.5,86.6 523.7,87.3 535.4,86.6 543.0,84.1 547.1,80.2 549.1,74.7 550.1,69.2 552.4,64.8" fill="#fff020" stroke="#ffc8c0" stroke-opacity="0.6" stroke-width="0.5"/>
<polygon points="550.4,66.5 550.2,67.3 549.9,68.2 549.6,69.0 549.3,69.8 549.0,70.7 548.9,71.6 548.7,72.5 548.5,73.4 548.3,74.2 548.1,75.1 547.8,76.0 547.5,76.9 547.2,77.7 546.8,78.5 546.4,79.3 545.9,80.1 545.3,80.7 544.6,81.4 544.0,82.0 543.3,82.6 542.6,83.2 541.9,83.7 541.0,84.0 540.2,84.3 539.3,84.5 538.4,84.8 537.5,85.1 536.7,85.4 535.8,85.6 534.9,85.7 534.0,85.8 533.1,85.9 532.2,86.0 531.3,86.1 530.4,86.2 529.5,86.3 528.6,86.4 527.7,86.4 526.7,86.4 525.8,86.5 524.9,86.4 524.0,86.4 523.1,86.3 522.2,86.2 521.3,86.2 520.4,86.1 519.5,86.1 518.5,86.0 517.6,86.0 516.7,85.9 515.8,85.8 514.9,85.7 514.1,85.4 513.2,85.0 512.4,84.7 512.1,84.0 512.0,83.1 512.0,82.2 512.5,81.5 513.1,80.9 513.8,80.3 514.5,79.7 515.2,79.1 515.9,78.6 516.7,78.1 517.4,77.6 518.2,77.1 518.9,76.6 519.7,76.1 520.5,75.6 521.3,75.2 522.1,74.8 522.9,74.4 523.7,74.0 524.5,73.7 525.3,73.3 526.2,72.9 527.0,72.5 527.8,72.1 528.6,71.7 529.4,71.4 530.3,71.0 531.1,70.6 531.9,70.3 532.8,69.9 533.6,69.6 534.4,69.2 535.3,68.9 536.1,68.5 536.9,68.1 537.8,67.8 538.6,67.4 539.5,67.1 540.3,66.8 541.2,66.5 542.1,66.3 542.9,66.0 543.8,65.7 544.7,65.5 545.6,65.3 546.4,65.2 547.3,65.1 548.2,65.1 549.0,65.0 549.9,64.9 550.7,64.9 551.6,64.9 551.5,65.3 551.0,65.9" fill="#ffff40" stroke="#ffc8c0" stroke-opacity="0.6" stroke-width="0.5"/>
<polygon points="522.9,84.3 531.9,85.0 540.9,82.5 545.3,78.4 547.1,72.6 546.2,67.7 542.6,65.6 537.3,67.2 531.9,71.1 525.6,75.9 521.2,80.9 520.0,83.8" fill="#ffffa0" stroke="#ffc8c0" stroke-opacity="0.6" stroke-width="0.5"/>
<polygon points="527.7,81.7 533.6,81.7 539.4,78.9 540.9,75.8 536.4,76.0 530.7,78.9" fill="#ffffff" stroke="#ffc8c0" stroke-opacity="0.6" stroke-width="0.5"/>
<polyline points="476.4,82.1 477.7,83.9 478.9,84.4 480.6,82.7 482.3,81.6 484.1,82.7 487.5,83.3 493.3,83.3 499.1,83.1 504.8,82.7 510.6,82.4 516.0,82.0 520.5,81.0 524.9,79.9 529.4,79.1 532.4,77.6 536.1,76.1 539.9,75.4 543.6,73.9 546.6,71.7 549.5,69.4 552.5,67.2 554.8,64.2 556.6,62.0" fill="none" stroke="#14e4e4" stroke-width="2.2" stroke-linejoin="round" stroke-linecap="round"/>
</g>
<g clip-path="url(#cT7)">
<polygon points="567.2,75.0 568.3,71.5 570.7,68.5 573.7,65.5 577.2,63.1 580.8,61.4 584.4,59.0 589.1,57.8 593.9,56.6 598.6,54.8 603.0,53.0 608.4,51.3 613.9,49.7 619.3,48.6 623.4,47.9 626.8,48.6 630.2,46.5 634.2,44.8 638.3,43.4 639.7,43.8 640.3,47.2 640.7,55.4 641.3,62.2 641.8,70.0 642.2,77.5 641.9,83.3 641.0,89.0 639.3,93.1 635.2,95.7 629.5,97.3 621.4,98.5 612.2,98.8 603.0,99.0 592.5,99.0 585.4,98.5 579.3,98.0 574.2,97.0 570.6,95.4 568.1,92.9 566.6,89.3 566.1,85.3 566.1,81.2 566.6,77.1" fill="#4a0000" stroke="#ffc8c0" stroke-opacity="0.6" stroke-width="0.5"/>
<polygon points="573.1,75.6 575.5,71.3 579.0,68.2 583.2,65.7 587.9,63.9 592.7,62.7 597.4,61.5 603.0,59.3 608.4,57.0 613.9,55.2 619.3,54.6 624.7,54.6 630.2,53.9 635.6,52.7 638.3,52.4 639.0,55.3 639.4,62.3 640.0,70.7 640.6,73.5 640.4,80.5 639.6,86.5 637.6,91.3 634.1,94.3 628.9,96.0 621.4,97.2 612.2,97.8 603.0,98.3 591.5,98.0 584.4,97.6 578.8,96.5 574.2,94.8 571.1,92.5 569.3,89.3 568.6,85.1 568.6,80.9 569.8,77.1" fill="#7c0000" stroke="#ffc8c0" stroke-opacity="0.6" stroke-width="0.5"/>
<polygon points="575.5,76.3 578.4,73.2 582.0,70.0 586.1,67.4 591.5,65.4 597.4,63.8 603.0,61.2 609.8,60.0 616.6,59.6 623.4,59.7 630.2,59.6 635.6,58.8 637.6,61.1 638.2,68.5 639.0,77.9 638.1,84.3 636.4,89.3 633.2,92.5 628.3,94.6 621.4,96.2 612.2,96.9 603.0,97.3 589.5,97.0 582.3,96.2 577.2,94.5 573.7,92.0 571.7,88.6 570.9,84.2 570.9,79.8 572.5,77.4" fill="#a80000" stroke="#ffc8c0" stroke-opacity="0.6" stroke-width="0.5"/>
<polygon points="576.4,76.1 577.5,75.0 578.6,74.0 579.8,73.0 581.1,72.1 582.4,71.3 583.7,70.4 585.0,69.7 586.4,69.0 587.8,68.4 589.2,67.8 590.7,67.3 592.2,66.8 593.7,66.4 595.2,65.9 596.6,65.5 598.1,65.1 599.6,64.6 601.0,64.1 602.5,63.6 604.0,63.2 605.5,62.8 607.0,62.4 608.5,62.1 610.0,61.8 611.6,61.7 613.1,61.6 614.7,61.5 616.2,61.4 617.8,61.4 619.3,61.4 620.9,61.4 622.4,61.5 623.9,61.5 625.5,61.6 627.0,61.6 628.6,61.7 630.1,61.7 631.7,61.7 633.2,61.8 634.6,62.3 635.9,62.9 636.9,64.0 637.1,65.5 637.4,67.0 637.6,68.5 637.7,70.1 637.8,71.6 637.9,73.2 638.0,74.7 637.9,76.2 637.9,77.8 637.7,79.3 637.5,80.9 637.2,82.4 636.8,83.8 636.3,85.3 635.7,86.7 635.0,88.1 634.1,89.4 633.1,90.6 631.9,91.4 630.5,92.2 629.2,92.9 627.8,93.5 626.3,93.9 624.8,94.3 623.3,94.7 621.8,95.1 620.2,95.2 618.7,95.3 617.1,95.4 615.6,95.5 614.0,95.6 612.5,95.7 611.0,95.9 609.4,96.0 607.9,96.1 606.3,96.3 604.8,96.4 603.2,96.5 601.7,96.5 600.1,96.4 598.6,96.4 597.1,96.4 595.5,96.3 594.0,96.3 592.4,96.2 590.9,96.1 589.3,96.0 587.8,95.9 586.2,95.7 584.7,95.4 583.2,95.1 581.7,94.7 580.2,94.3 578.9,93.6 577.6,92.7 576.3,91.9 575.2,90.8 574.3,89.5 573.5,88.2 573.1,86.7 572.7,85.2 572.4,83.7 572.5,82.2 572.6,80.6 573.1,79.2 574.0,78.0 575.1,77.0" fill="#d00000" stroke="#ffc8c0" stroke-opacity="0.6" stroke-width="0.5"/>
<polygon points="603.0,64.5 596.2,66.4 590.3,68.1 585.0,70.4 580.0,73.2 576.0,76.7 573.5,80.1 573.2,83.7 574.2,87.8 576.7,91.2 580.8,93.9 586.9,95.3 594.6,95.9 603.0,96.1 613.4,95.1 621.4,94.7 627.8,92.9 632.4,90.3 635.2,86.3 637.0,81.1 637.6,75.2 637.3,68.7 636.5,64.7 634.9,63.8 630.2,62.9 623.4,62.4 616.6,62.2 609.8,62.6" fill="#e00000" stroke="#ffc8c0" stroke-opacity="0.6" stroke-width="0.5"/>
<polygon points="609.8,64.2 611.2,64.1 612.7,64.0 614.1,63.9 615.6,63.8 617.0,63.8 618.4,63.8 619.9,63.9 621.3,63.9 622.8,64.0 624.2,64.1 625.6,64.2 627.1,64.3 628.5,64.4 630.0,64.5 631.4,64.8 632.8,65.0 634.2,65.4 635.5,66.0 636.0,67.2 636.5,68.5 636.7,70.0 636.8,71.4 636.9,72.8 636.9,74.3 636.9,75.7 636.8,77.2 636.6,78.6 636.4,80.0 636.2,81.4 635.8,82.8 635.3,84.2 634.7,85.5 634.0,86.7 633.2,87.9 632.2,89.0 631.3,90.0 630.1,90.8 628.8,91.5 627.5,92.1 626.2,92.6 624.8,93.0 623.4,93.4 622.0,93.7 620.6,94.0 619.1,94.1 617.7,94.2 616.3,94.3 614.8,94.4 613.4,94.5 611.9,94.7 610.5,94.8 609.1,95.0 607.6,95.1 606.2,95.3 604.8,95.4 603.3,95.6 601.9,95.6 600.5,95.6 599.0,95.5 597.6,95.5 596.1,95.5 594.7,95.4 593.2,95.3 591.8,95.2 590.4,95.2 588.9,95.0 587.5,94.9 586.1,94.6 584.7,94.2 583.3,93.9 581.9,93.5 580.6,92.8 579.4,92.1 578.2,91.3 577.2,90.3 576.3,89.2 575.4,88.1 574.9,86.8 574.5,85.4 574.1,84.0 574.3,82.6 574.5,81.1 575.1,79.9 576.0,78.8 577.0,77.7 578.0,76.7 579.1,75.8 580.2,74.9 581.4,74.0 582.6,73.2 583.8,72.5 585.1,71.8 586.4,71.1 587.7,70.5 589.0,69.9 590.3,69.4 591.7,68.9 593.1,68.5 594.4,68.0 595.8,67.6 597.2,67.2 598.6,66.8 600.0,66.5 601.4,66.1 602.8,65.7 604.2,65.4 605.6,65.1 607.0,64.8 608.4,64.5" fill="#f00000" stroke="#ffc8c0" stroke-opacity="0.6" stroke-width="0.5"/>
<polygon points="603.0,68.0 596.2,69.6 590.3,71.9 585.0,74.7 580.5,78.1 576.7,81.5 575.9,84.6 577.2,88.1 580.3,91.1 584.9,93.3 591.5,94.4 603.0,94.6 613.4,93.3 621.4,92.4 627.2,90.7 631.2,88.1 633.9,84.6 635.2,80.0 635.8,74.8 635.3,70.2 633.5,68.5 629.5,67.7 623.4,67.2 616.6,66.9 609.8,67.3" fill="#ff2800" stroke="#ffc8c0" stroke-opacity="0.6" stroke-width="0.5"/>
<polygon points="609.9,70.1 611.1,70.0 612.3,70.0 613.5,70.0 614.7,69.9 615.9,69.9 617.1,69.9 618.3,70.0 619.6,70.0 620.8,70.0 622.0,70.1 623.2,70.2 624.4,70.3 625.6,70.4 626.8,70.5 628.0,70.7 629.1,71.0 630.3,71.2 631.5,71.5 632.5,72.2 633.3,73.0 633.6,74.1 633.9,75.3 634.1,76.5 634.1,77.6 633.9,78.8 633.7,80.0 633.4,81.2 633.1,82.3 632.5,83.4 632.0,84.5 631.4,85.5 630.6,86.4 629.7,87.2 628.8,88.0 627.8,88.7 626.7,89.2 625.6,89.7 624.5,90.1 623.4,90.5 622.2,90.9 621.1,91.1 619.9,91.3 618.7,91.5 617.5,91.6 616.3,91.8 615.1,91.9 613.9,92.1 612.7,92.2 611.5,92.4 610.3,92.6 609.1,92.8 607.9,93.0 606.7,93.2 605.5,93.4 604.3,93.5 603.2,93.7 602.0,93.7 600.7,93.7 599.5,93.7 598.3,93.6 597.1,93.6 595.9,93.5 594.7,93.5 593.5,93.5 592.3,93.4 591.1,93.3 589.9,93.2 588.7,92.9 587.6,92.6 586.4,92.3 585.3,91.9 584.1,91.5 583.0,91.0 582.0,90.4 581.1,89.7 580.1,88.9 579.4,88.0 579.0,86.9 578.6,85.7 578.5,84.6 579.0,83.5 579.5,82.5 580.2,81.5 581.0,80.6 582.0,79.9 582.9,79.1 583.9,78.4 584.9,77.7 585.9,77.1 586.9,76.4 588.0,75.8 589.0,75.3 590.1,74.7 591.2,74.2 592.3,73.8 593.4,73.3 594.6,72.9 595.7,72.5 596.8,72.1 598.0,71.8 599.2,71.5 600.3,71.2 601.5,70.9 602.7,70.6 603.9,70.5 605.1,70.4 606.3,70.3 607.5,70.3 608.7,70.2" fill="#ff5800" stroke="#ffc8c0" stroke-opacity="0.6" stroke-width="0.5"/>
<polygon points="603.0,71.9 597.0,73.3 591.0,75.5 586.0,78.3 582.0,81.1 579.5,85.2 580.8,88.7 584.4,91.1 590.5,92.9 603.0,93.3 613.4,91.5 621.4,90.5 626.6,88.7 630.1,86.1 632.4,82.5 633.5,78.1 632.5,74.4 630.8,73.0 626.1,72.0 619.3,71.4 611.1,71.4" fill="#ff7000" stroke="#ffc8c0" stroke-opacity="0.6" stroke-width="0.5"/>
<polygon points="610.8,72.5 611.9,72.5 613.0,72.5 614.1,72.5 615.2,72.6 616.3,72.6 617.4,72.6 618.5,72.6 619.6,72.7 620.7,72.7 621.8,72.8 622.9,72.9 624.0,73.0 625.1,73.1 626.2,73.3 627.2,73.5 628.3,73.8 629.4,74.0 630.4,74.4 631.2,75.1 631.7,76.0 632.1,77.0 632.5,78.0 632.6,79.0 632.2,80.1 631.9,81.1 631.6,82.2 631.2,83.2 630.5,84.0 629.9,84.9 629.3,85.8 628.5,86.6 627.5,87.2 626.6,87.8 625.7,88.4 624.7,88.8 623.7,89.2 622.6,89.6 621.6,89.9 620.5,90.2 619.5,90.3 618.4,90.5 617.3,90.7 616.2,90.8 615.1,91.0 614.0,91.1 612.9,91.3 611.9,91.5 610.8,91.6 609.7,91.8 608.6,92.0 607.5,92.2 606.4,92.4 605.4,92.6 604.3,92.8 603.2,93.0 602.1,93.0 601.0,92.9 599.9,92.9 598.8,92.8 597.7,92.8 596.6,92.8 595.5,92.7 594.4,92.7 593.3,92.6 592.2,92.6 591.1,92.5 590.1,92.3 589.0,92.0 587.9,91.7 586.9,91.4 585.8,91.1 584.8,90.6 583.9,90.1 583.0,89.4 582.1,88.8 581.5,88.0 581.1,86.9 580.7,85.9 580.7,84.9 581.2,83.9 581.7,83.0 582.3,82.1 583.1,81.3 583.9,80.7 584.9,80.1 585.8,79.5 586.7,78.9 587.7,78.4 588.6,77.9 589.6,77.4 590.6,76.9 591.6,76.4 592.6,76.0 593.6,75.6 594.7,75.2 595.7,74.9 596.7,74.5 597.8,74.2 598.9,74.0 599.9,73.7 601.0,73.5 602.1,73.2 603.2,73.0 604.2,72.9 605.3,72.9 606.4,72.8 607.5,72.7 608.6,72.7 609.7,72.6" fill="#ff8800" stroke="#ffc8c0" stroke-opacity="0.6" stroke-width="0.5"/>
<polygon points="602.9,75.3 596.8,76.6 590.6,78.9 585.8,81.2 583.0,83.5 582.3,85.8 583.4,88.0 586.0,90.1 591.1,91.8 602.9,92.4 613.7,90.4 621.4,89.1 626.6,86.4 629.6,83.1 631.2,79.3 628.7,76.3 621.1,75.1 611.3,74.7" fill="#ffb800" stroke="#ffc8c0" stroke-opacity="0.6" stroke-width="0.5"/>
<polygon points="610.4,76.6 611.3,76.6 612.2,76.6 613.0,76.6 613.9,76.7 614.8,76.7 615.6,76.8 616.5,76.8 617.4,76.9 618.2,77.0 619.1,77.0 620.0,77.1 620.8,77.2 621.7,77.3 622.5,77.5 623.3,77.7 624.2,78.0 625.0,78.3 625.7,78.6 626.4,79.1 627.1,79.6 627.8,80.1 627.6,80.9 627.3,81.7 627.0,82.5 626.8,83.3 626.3,84.0 625.6,84.5 624.9,85.1 624.3,85.6 623.6,86.2 622.9,86.6 622.1,87.0 621.3,87.3 620.5,87.6 619.7,87.9 618.8,88.1 618.0,88.3 617.1,88.5 616.3,88.6 615.4,88.8 614.6,89.0 613.7,89.1 612.9,89.3 612.0,89.4 611.2,89.5 610.3,89.7 609.5,89.8 608.6,90.0 607.7,90.1 606.9,90.2 606.0,90.4 605.2,90.5 604.3,90.6 603.5,90.8 602.6,90.8 601.7,90.8 600.9,90.7 600.0,90.7 599.1,90.6 598.3,90.6 597.4,90.5 596.5,90.5 595.7,90.5 594.8,90.4 593.9,90.4 593.1,90.3 592.2,90.2 591.4,90.0 590.6,89.7 589.8,89.4 589.0,89.0 588.2,88.7 587.4,88.3 586.8,87.8 586.2,87.1 585.8,86.4 585.4,85.6 585.3,84.8 585.6,84.0 586.1,83.3 586.6,82.6 587.2,82.0 587.8,81.5 588.6,81.1 589.4,80.8 590.2,80.4 591.0,80.1 591.8,79.8 592.6,79.4 593.4,79.1 594.2,78.9 595.1,78.6 595.9,78.4 596.7,78.2 597.6,78.0 598.4,77.8 599.3,77.6 600.1,77.4 601.0,77.2 601.8,77.1 602.7,76.9 603.5,76.8 604.4,76.8 605.2,76.8 606.1,76.7 607.0,76.7 607.8,76.7 608.7,76.6 609.6,76.6" fill="#ffe000" stroke="#ffc8c0" stroke-opacity="0.6" stroke-width="0.5"/>
<polygon points="602.9,77.6 594.4,79.4 588.6,81.7 586.6,84.8 588.3,87.7 592.8,89.5 602.9,90.1 613.5,88.6 620.9,86.8 625.1,84.0 626.2,80.5 620.9,78.2 612.4,77.5" fill="#fff020" stroke="#ffc8c0" stroke-opacity="0.6" stroke-width="0.5"/>
<polygon points="611.8,78.1 612.5,78.2 613.2,78.3 613.9,78.3 614.6,78.4 615.3,78.5 616.0,78.5 616.7,78.6 617.4,78.7 618.1,78.7 618.8,78.8 619.5,78.9 620.1,79.1 620.8,79.4 621.5,79.6 622.1,79.9 622.7,80.2 623.3,80.5 623.7,80.9 623.7,81.6 623.6,82.3 623.5,82.9 623.2,83.5 622.7,84.0 622.1,84.4 621.5,84.7 620.9,85.1 620.3,85.5 619.7,85.9 619.1,86.2 618.5,86.4 617.8,86.6 617.1,86.7 616.4,86.9 615.7,87.0 615.0,87.2 614.3,87.3 613.7,87.4 613.0,87.6 612.3,87.7 611.6,87.8 610.9,87.9 610.2,88.0 609.5,88.1 608.8,88.2 608.1,88.3 607.4,88.4 606.7,88.5 606.0,88.6 605.3,88.7 604.6,88.8 603.9,88.8 603.2,88.9 602.5,88.8 601.8,88.8 601.1,88.8 600.4,88.8 599.7,88.7 599.0,88.7 598.3,88.7 597.6,88.6 596.9,88.6 596.2,88.6 595.5,88.5 594.8,88.4 594.1,88.3 593.5,88.0 592.8,87.8 592.1,87.6 591.5,87.3 590.8,87.1 590.3,86.7 589.9,86.1 589.6,85.5 589.3,84.9 589.1,84.3 589.4,83.7 589.8,83.1 590.2,82.6 590.7,82.1 591.2,81.7 591.9,81.4 592.5,81.1 593.2,80.8 593.8,80.5 594.4,80.2 595.1,80.0 595.8,79.8 596.5,79.6 597.1,79.5 597.8,79.4 598.5,79.2 599.2,79.1 599.9,79.0 600.6,78.8 601.3,78.7 602.0,78.6 602.7,78.5 603.4,78.3 604.1,78.3 604.8,78.3 605.5,78.3 606.2,78.3 606.9,78.2 607.6,78.2 608.3,78.2 609.0,78.2 609.7,78.2 610.4,78.2 611.1,78.1" fill="#ffff40" stroke="#ffc8c0" stroke-opacity="0.6" stroke-width="0.5"/>
<polygon points="602.7,79.9 597.8,80.7 593.7,83.3 594.6,85.4 598.9,86.5 606.1,86.5 615.0,85.2 619.5,83.1 618.4,80.4 610.5,79.4" fill="#ffffa0" stroke="#ffc8c0" stroke-opacity="0.6" stroke-width="0.5"/>
<polygon points="598.8,82.1 596.7,84.5 602.1,85.7 608.9,85.7 612.9,83.9 610.2,82.1 604.8,81.5" fill="#ffffff" stroke="#ffc8c0" stroke-opacity="0.6" stroke-width="0.5"/>
<polyline points="563.3,85.8 565.0,85.3 567.1,84.2 568.6,83.2 570.1,84.2 572.2,85.3 575.2,85.1 578.3,84.2 583.4,84.2 588.4,84.2 593.5,84.2 597.6,83.7 600.7,84.0 604.0,82.5 606.5,82.7 609.1,83.0 612.1,82.0 615.2,81.2 619.3,80.4 623.3,79.6 627.4,78.9 630.5,77.4 633.0,75.3 634.5,74.1 636.6,72.3 638.6,69.2 640.6,66.2 642.2,63.1 643.8,60.0" fill="none" stroke="#14e4e4" stroke-width="2.2" stroke-linejoin="round" stroke-linecap="round"/>
</g>
<g clip-path="url(#cB1)">
<polygon points="123.0,140.3 120.5,140.3 118.0,140.5 117.2,142.0 117.8,144.5 116.4,146.0 115.6,151.2 114.8,157.3 114.1,163.4 113.0,169.5 111.8,173.3 109.5,174.8 106.5,175.5 105.7,177.1 108.0,177.8 104.9,179.4 101.9,180.9 99.3,182.6 97.6,183.5 102.0,184.9 99.3,187.9 100.2,189.7 98.4,192.3 102.0,194.1 98.4,196.7 96.7,199.3 99.3,201.1 100.2,204.6 102.0,208.1 103.7,211.7 105.5,214.3 108.1,216.9 111.6,220.5 115.1,224.0 118.7,226.6 121.8,227.5 123.0,227.5" fill="#4a0000" stroke="#ffc8c0" stroke-opacity="0.6" stroke-width="0.5"/>
<polygon points="123.0,146.0 118.5,146.5 117.9,148.1 117.1,157.3 116.4,166.4 115.6,175.5 114.8,183.9 110.0,187.0 109.0,190.0 108.1,194.1 107.8,201.1 109.0,208.1 111.6,215.2 115.1,220.5 118.7,224.0 121.8,224.8 123.0,224.8" fill="#770000" stroke="#ffc8c0" stroke-opacity="0.6" stroke-width="0.5"/>
<polygon points="123.0,158.0 119.5,159.0 119.1,161.8 118.2,171.0 117.1,178.6 116.4,183.9 114.0,186.0 112.5,188.8 112.0,197.6 112.5,206.4 114.3,213.4 116.9,218.7 121.8,221.3 123.0,221.3" fill="#a80000" stroke="#ffc8c0" stroke-opacity="0.6" stroke-width="0.5"/>
<polygon points="123.0,218.2 121.9,218.2 121.0,217.8 120.1,217.3 119.2,216.7 118.3,216.2 117.5,215.5 116.9,214.7 116.5,213.7 116.1,212.7 115.7,211.7 115.4,210.7 115.1,209.7 114.9,208.7 114.6,207.7 114.4,206.6 114.2,205.6 114.1,204.6 114.0,203.5 113.9,202.4 113.8,201.4 113.8,200.3 113.7,199.3 113.6,198.2 113.6,197.2 113.6,196.1 113.7,195.1 113.7,194.0 113.8,192.9 113.9,191.9 113.9,190.8 114.1,189.8 114.4,188.8 114.8,187.9 115.2,187.0 115.8,186.2 116.2,185.2 116.5,184.3 116.9,183.3 117.3,182.4 117.6,181.4 118.0,180.5 118.1,179.4 118.3,178.4 118.4,177.3 118.5,176.3 118.7,175.2 118.9,174.2 119.0,173.1 119.1,172.1 119.3,171.0 119.4,170.0 119.5,168.9 119.7,167.9 119.8,166.8 119.9,165.8 120.3,164.9 121.3,164.6 122.3,164.2 123.0,164.3 123.0,165.3 123.0,166.4 123.0,167.5 123.0,168.5 123.0,169.6 123.0,170.6 123.0,171.7 123.0,172.7 123.0,173.8 123.0,174.9 123.0,175.9 123.0,177.0 123.0,178.0 123.0,179.1 123.0,180.2 123.0,181.2 123.0,182.3 123.0,183.3 123.0,184.4 123.0,185.4 123.0,186.5 123.0,187.6 123.0,188.6 123.0,189.7 123.0,190.7 123.0,191.8 123.0,192.9 123.0,193.9 123.0,195.0 123.0,196.0 123.0,197.1 123.0,198.1 123.0,199.2 123.0,200.3 123.0,201.3 123.0,202.4 123.0,203.4 123.0,204.5 123.0,205.6 123.0,206.6 123.0,207.7 123.0,208.7 123.0,209.8 123.0,210.8 123.0,211.9 123.0,213.0 123.0,214.0 123.0,215.1 123.0,216.1 123.0,217.2" fill="#d00000" stroke="#ffc8c0" stroke-opacity="0.6" stroke-width="0.5"/>
<polygon points="123.0,170.0 120.5,171.0 120.2,174.0 119.1,180.1 118.6,183.9 116.0,187.0 115.5,188.8 115.1,197.6 116.0,206.4 117.8,212.5 121.8,215.2 123.0,215.2" fill="#f00000" stroke="#ffc8c0" stroke-opacity="0.6" stroke-width="0.5"/>
<polygon points="123.0,217.1 122.1,217.0 121.3,216.7 120.5,216.3 119.8,215.9 119.2,215.3 118.6,214.7 118.0,214.1 117.8,213.2 117.5,212.4 117.3,211.5 117.1,210.7 116.9,209.8 116.7,208.9 116.5,208.1 116.4,207.2 116.3,206.3 116.2,205.5 116.1,204.6 116.0,203.7 115.9,202.8 115.9,201.9 115.8,201.0 115.7,200.2 115.7,199.3 115.7,198.4 115.7,197.5 115.7,196.6 115.7,195.7 115.8,194.9 115.8,194.0 115.8,193.1 115.8,192.2 115.9,191.3 115.9,190.4 116.0,189.6 116.2,188.7 116.5,187.9 116.8,187.2 117.2,186.4 117.6,185.6 117.9,184.9 118.0,184.0 118.1,183.1 118.2,182.2 118.3,181.3 118.5,180.5 118.6,179.6 118.8,178.7 119.0,177.9 119.2,177.0 119.4,176.2 119.6,175.3 119.8,174.4 120.0,173.6 120.3,172.9 120.9,172.4 121.7,172.1 122.5,171.8 123.0,172.0 123.0,172.9 123.0,173.7 123.0,174.6 123.0,175.5 123.0,176.4 123.0,177.3 123.0,178.2 123.0,179.1 123.0,179.9 123.0,180.8 123.0,181.7 123.0,182.6 123.0,183.5 123.0,184.4 123.0,185.3 123.0,186.1 123.0,187.0 123.0,187.9 123.0,188.8 123.0,189.7 123.0,190.6 123.0,191.4 123.0,192.3 123.0,193.2 123.0,194.1 123.0,195.0 123.0,195.9 123.0,196.8 123.0,197.6 123.0,198.5 123.0,199.4 123.0,200.3 123.0,201.2 123.0,202.1 123.0,203.0 123.0,203.8 123.0,204.7 123.0,205.6 123.0,206.5 123.0,207.4 123.0,208.3 123.0,209.2 123.0,210.0 123.0,210.9 123.0,211.8 123.0,212.7 123.0,213.6 123.0,214.5 123.0,215.3 123.0,216.2" fill="#ff2800" stroke="#ffc8c0" stroke-opacity="0.6" stroke-width="0.5"/>
<polygon points="123.0,219.0 122.1,218.8 121.3,218.6 120.5,218.3 119.6,218.0 119.2,217.3 118.7,216.5 118.3,215.8 118.0,214.9 117.7,214.1 117.5,213.2 117.4,212.4 117.2,211.5 117.1,210.6 116.9,209.7 116.8,208.8 116.7,208.0 116.6,207.1 116.5,206.2 116.5,205.3 116.4,204.4 116.4,203.5 116.3,202.6 116.3,201.8 116.2,200.9 116.2,200.0 116.2,199.1 116.2,198.2 116.2,197.3 116.2,196.4 116.2,195.5 116.3,194.6 116.3,193.8 116.3,192.9 116.3,192.0 116.4,191.1 116.4,190.2 116.5,189.4 116.7,188.5 116.8,187.7 117.0,186.8 117.2,186.0 117.3,185.1 117.4,184.2 117.5,183.3 117.6,182.4 117.7,181.6 117.9,180.7 118.1,179.8 118.3,179.0 118.6,178.1 118.9,177.3 119.1,176.4 119.4,175.6 119.6,174.7 120.1,174.2 120.9,173.8 121.8,173.6 122.6,173.3 123.0,173.7 123.0,174.6 123.0,175.5 123.0,176.3 123.0,177.2 123.0,178.1 123.0,179.0 123.0,179.9 123.0,180.8 123.0,181.7 123.0,182.6 123.0,183.5 123.0,184.3 123.0,185.2 123.0,186.1 123.0,187.0 123.0,187.9 123.0,188.8 123.0,189.7 123.0,190.6 123.0,191.5 123.0,192.4 123.0,193.2 123.0,194.1 123.0,195.0 123.0,195.9 123.0,196.8 123.0,197.7 123.0,198.6 123.0,199.5 123.0,200.4 123.0,201.2 123.0,202.1 123.0,203.0 123.0,203.9 123.0,204.8 123.0,205.7 123.0,206.6 123.0,207.5 123.0,208.4 123.0,209.3 123.0,210.1 123.0,211.0 123.0,211.9 123.0,212.8 123.0,213.7 123.0,214.6 123.0,215.5 123.0,216.4 123.0,217.3 123.0,218.2" fill="#ff5800" stroke="#ffc8c0" stroke-opacity="0.6" stroke-width="0.5"/>
<polygon points="123.0,174.0 119.5,175.0 117.5,181.0 116.6,188.0 116.4,200.0 116.8,208.0 117.8,215.0 119.5,219.0 123.0,220.0" fill="#ff7000" stroke="#ffc8c0" stroke-opacity="0.6" stroke-width="0.5"/>
<polygon points="123.0,219.1 122.2,218.9 121.4,218.6 120.6,218.3 119.8,218.1 119.4,217.4 119.0,216.6 118.7,215.8 118.4,215.1 118.1,214.3 118.0,213.4 117.9,212.6 117.7,211.7 117.6,210.9 117.5,210.1 117.4,209.2 117.3,208.4 117.2,207.5 117.2,206.7 117.1,205.8 117.1,205.0 117.0,204.1 117.0,203.3 117.0,202.4 116.9,201.6 116.9,200.8 116.8,199.9 116.9,199.1 116.9,198.2 116.9,197.4 116.9,196.5 116.9,195.7 116.9,194.8 116.9,194.0 116.9,193.1 117.0,192.3 117.0,191.4 117.0,190.6 117.0,189.7 117.0,188.9 117.1,188.0 117.2,187.2 117.3,186.3 117.4,185.5 117.5,184.7 117.6,183.8 117.7,183.0 117.8,182.1 118.0,181.3 118.3,180.5 118.5,179.7 118.8,178.9 119.0,178.1 119.3,177.3 119.6,176.5 120.3,176.1 121.1,175.9 121.9,175.6 122.7,175.4 123.0,175.8 123.0,176.7 123.0,177.5 123.0,178.4 123.0,179.2 123.0,180.1 123.0,180.9 123.0,181.8 123.0,182.6 123.0,183.5 123.0,184.3 123.0,185.2 123.0,186.0 123.0,186.9 123.0,187.7 123.0,188.6 123.0,189.4 123.0,190.3 123.0,191.1 123.0,192.0 123.0,192.8 123.0,193.7 123.0,194.5 123.0,195.4 123.0,196.2 123.0,197.1 123.0,197.9 123.0,198.8 123.0,199.6 123.0,200.5 123.0,201.3 123.0,202.2 123.0,203.0 123.0,203.9 123.0,204.7 123.0,205.6 123.0,206.4 123.0,207.2 123.0,208.1 123.0,208.9 123.0,209.8 123.0,210.6 123.0,211.5 123.0,212.3 123.0,213.2 123.0,214.0 123.0,214.9 123.0,215.7 123.0,216.6 123.0,217.4 123.0,218.3" fill="#ff8800" stroke="#ffc8c0" stroke-opacity="0.6" stroke-width="0.5"/>
<polygon points="123.0,217.4 122.3,217.1 121.6,216.8 120.9,216.4 120.2,216.1 119.7,215.6 119.3,215.1 119.1,214.3 118.9,213.6 118.7,212.9 118.6,212.1 118.5,211.3 118.4,210.6 118.3,209.8 118.2,209.1 118.1,208.3 118.1,207.6 118.0,206.8 118.0,206.0 117.9,205.3 117.9,204.5 117.9,203.8 117.8,203.0 117.8,202.2 117.8,201.5 117.7,200.7 117.7,199.9 117.7,199.2 117.7,198.4 117.7,197.7 117.8,196.9 117.8,196.1 117.8,195.4 117.8,194.6 117.8,193.8 117.8,193.1 117.8,192.3 117.8,191.6 117.9,190.8 117.9,190.0 117.9,189.3 118.0,188.5 118.0,187.8 118.0,187.0 118.2,186.2 118.3,185.5 118.4,184.7 118.5,184.0 118.7,183.2 118.9,182.5 119.1,181.8 119.3,181.0 119.5,180.3 119.6,179.6 120.0,178.9 120.6,178.6 121.4,178.4 122.1,178.2 122.8,178.0 123.0,178.5 123.0,179.3 123.0,180.0 123.0,180.8 123.0,181.5 123.0,182.3 123.0,183.1 123.0,183.8 123.0,184.6 123.0,185.4 123.0,186.1 123.0,186.9 123.0,187.6 123.0,188.4 123.0,189.2 123.0,189.9 123.0,190.7 123.0,191.5 123.0,192.2 123.0,193.0 123.0,193.7 123.0,194.5 123.0,195.3 123.0,196.0 123.0,196.8 123.0,197.6 123.0,198.3 123.0,199.1 123.0,199.9 123.0,200.6 123.0,201.4 123.0,202.1 123.0,202.9 123.0,203.7 123.0,204.4 123.0,205.2 123.0,206.0 123.0,206.7 123.0,207.5 123.0,208.2 123.0,209.0 123.0,209.8 123.0,210.5 123.0,211.3 123.0,212.1 123.0,212.8 123.0,213.6 123.0,214.3 123.0,215.1 123.0,215.9 123.0,216.6" fill="#ffb800" stroke="#ffc8c0" stroke-opacity="0.6" stroke-width="0.5"/>
<polygon points="123.0,180.0 120.0,181.0 118.6,188.0 118.4,200.0 118.7,208.0 119.6,214.0 123.0,216.0" fill="#ffd800" stroke="#ffc8c0" stroke-opacity="0.6" stroke-width="0.5"/>
<polygon points="123.0,215.5 122.4,215.1 121.8,214.8 121.3,214.4 120.7,214.1 120.1,213.8 119.7,213.3 119.6,212.6 119.5,212.0 119.4,211.3 119.3,210.7 119.2,210.0 119.1,209.3 119.0,208.7 118.9,208.0 118.9,207.4 118.8,206.7 118.8,206.0 118.8,205.3 118.8,204.7 118.7,204.0 118.7,203.3 118.7,202.7 118.7,202.0 118.6,201.3 118.6,200.7 118.6,200.0 118.6,199.3 118.6,198.7 118.6,198.0 118.6,197.3 118.6,196.7 118.7,196.0 118.7,195.3 118.7,194.6 118.7,194.0 118.7,193.3 118.7,192.6 118.7,192.0 118.7,191.3 118.7,190.6 118.8,190.0 118.8,189.3 118.8,188.6 118.9,188.0 119.0,187.3 119.1,186.7 119.3,186.0 119.4,185.3 119.5,184.7 119.7,184.0 119.8,183.4 119.9,182.7 120.0,182.1 120.4,181.6 121.0,181.4 121.7,181.2 122.3,181.0 122.9,180.8 123.0,181.3 123.0,182.0 123.0,182.7 123.0,183.3 123.0,184.0 123.0,184.7 123.0,185.4 123.0,186.0 123.0,186.7 123.0,187.4 123.0,188.0 123.0,188.7 123.0,189.4 123.0,190.0 123.0,190.7 123.0,191.4 123.0,192.0 123.0,192.7 123.0,193.4 123.0,194.0 123.0,194.7 123.0,195.4 123.0,196.1 123.0,196.7 123.0,197.4 123.0,198.1 123.0,198.7 123.0,199.4 123.0,200.1 123.0,200.7 123.0,201.4 123.0,202.1 123.0,202.7 123.0,203.4 123.0,204.1 123.0,204.8 123.0,205.4 123.0,206.1 123.0,206.8 123.0,207.4 123.0,208.1 123.0,208.8 123.0,209.4 123.0,210.1 123.0,210.8 123.0,211.4 123.0,212.1 123.0,212.8 123.0,213.4 123.0,214.1 123.0,214.8" fill="#ffe000" stroke="#ffc8c0" stroke-opacity="0.6" stroke-width="0.5"/>
<polygon points="123.0,212.7 122.5,212.5 122.1,212.2 121.6,211.9 121.1,211.6 120.7,211.4 120.4,210.9 120.3,210.4 120.2,209.9 120.2,209.3 120.1,208.8 120.0,208.2 119.9,207.7 119.8,207.2 119.7,206.6 119.7,206.1 119.7,205.5 119.7,205.0 119.6,204.5 119.6,203.9 119.6,203.4 119.6,202.8 119.6,202.3 119.6,201.7 119.6,201.2 119.6,200.6 119.5,200.1 119.6,199.6 119.6,199.0 119.6,198.5 119.6,197.9 119.6,197.4 119.6,196.8 119.6,196.3 119.6,195.7 119.6,195.2 119.6,194.7 119.6,194.1 119.6,193.6 119.6,193.0 119.7,192.5 119.7,191.9 119.7,191.4 119.8,190.8 119.8,190.3 119.9,189.8 120.0,189.2 120.1,188.7 120.2,188.2 120.3,187.6 120.4,187.1 120.5,186.6 120.5,186.0 120.7,185.5 121.0,185.2 121.5,185.0 122.0,184.8 122.5,184.5 123.0,184.5 123.0,185.0 123.0,185.5 123.0,186.0 123.0,186.6 123.0,187.1 123.0,187.7 123.0,188.2 123.0,188.8 123.0,189.3 123.0,189.9 123.0,190.4 123.0,190.9 123.0,191.5 123.0,192.0 123.0,192.6 123.0,193.1 123.0,193.7 123.0,194.2 123.0,194.8 123.0,195.3 123.0,195.8 123.0,196.4 123.0,196.9 123.0,197.5 123.0,198.0 123.0,198.6 123.0,199.1 123.0,199.7 123.0,200.2 123.0,200.7 123.0,201.3 123.0,201.8 123.0,202.4 123.0,202.9 123.0,203.5 123.0,204.0 123.0,204.6 123.0,205.1 123.0,205.6 123.0,206.2 123.0,206.7 123.0,207.3 123.0,207.8 123.0,208.4 123.0,208.9 123.0,209.5 123.0,210.0 123.0,210.5 123.0,211.1 123.0,211.6 123.0,212.2" fill="#ffff40" stroke="#ffc8c0" stroke-opacity="0.6" stroke-width="0.5"/>
<polygon points="123.0,188.0 121.2,189.0 120.5,195.0 120.5,205.0 121.2,209.0 123.0,210.0" fill="#ffffa0" stroke="#ffc8c0" stroke-opacity="0.6" stroke-width="0.5"/>
<polygon points="79.5,204.0 82.0,203.5 85.0,204.5 84.0,206.5 80.5,206.0" fill="#4a0000" stroke="#ffc8c0" stroke-opacity="0.6" stroke-width="0.5"/>
<polyline points="61.2,201.4 65.8,201.0 69.5,200.1 72.2,198.8 75.0,199.2 78.6,201.0 82.3,201.9 86.9,201.5 90.5,201.1 94.0,199.7 97.6,198.5 101.1,197.9 104.6,198.1 108.1,199.3 111.6,202.0 115.1,204.6 117.8,206.0 120.4,205.5 122.0,204.3" fill="none" stroke="#14e4e4" stroke-width="2.2" stroke-linejoin="round" stroke-linecap="round"/>
</g>
<g clip-path="url(#cB2)">
<polygon points="210.0,145.0 205.8,144.8 204.0,144.5 203.0,148.2 202.1,155.5 199.4,159.1 195.7,162.8 190.5,165.0 186.4,167.0 182.3,168.1 180.3,172.1 181.3,174.2 176.2,176.2 171.1,179.3 174.2,181.3 172.1,184.3 167.1,188.4 161.0,190.3 157.0,192.0 155.5,193.5 156.4,195.5 153.6,198.2 155.5,201.0 152.7,203.7 153.6,206.5 157.3,208.3 162.8,209.5 164.0,211.8 168.1,213.9 174.2,216.9 180.3,219.0 188.4,221.0 196.6,222.4 204.7,223.0 210.0,223.0" fill="#4a0000" stroke="#ffc8c0" stroke-opacity="0.6" stroke-width="0.5"/>
<polygon points="210.0,150.0 205.5,151.0 204.9,155.5 203.0,160.0 200.0,163.0 194.5,165.0 192.5,171.1 188.4,177.2 183.3,184.3 180.3,191.5 178.3,198.6 179.3,205.7 182.3,210.8 188.4,214.9 196.6,217.5 210.0,219.0" fill="#7c0000" stroke="#ffc8c0" stroke-opacity="0.6" stroke-width="0.5"/>
<polygon points="210.0,158.0 206.0,160.0 203.0,163.0 197.6,165.5 196.6,173.1 194.5,181.3 191.5,189.4 189.5,195.5 188.4,201.7 190.5,206.8 194.5,210.8 200.7,213.9 210.0,214.9" fill="#a80000" stroke="#ffc8c0" stroke-opacity="0.6" stroke-width="0.5"/>
<polygon points="210.0,168.0 202.0,169.0 200.7,171.1 199.0,181.3 197.6,191.5 196.6,199.6 197.6,205.7 200.7,209.8 210.0,211.4" fill="#d00000" stroke="#ffc8c0" stroke-opacity="0.6" stroke-width="0.5"/>
<polygon points="210.0,211.8 209.4,211.9 208.8,212.1 207.9,211.9 207.0,211.7 206.2,211.5 205.3,211.3 204.5,211.1 203.6,210.9 202.7,210.7 201.9,210.6 201.4,209.9 200.9,209.1 200.4,208.4 199.9,207.6 199.5,206.9 199.1,206.1 198.9,205.2 198.8,204.4 198.7,203.5 198.6,202.6 198.4,201.7 198.3,200.9 198.4,200.0 198.4,199.1 198.5,198.2 198.5,197.3 198.6,196.5 198.7,195.6 198.8,194.7 198.9,193.8 199.0,192.9 199.0,192.1 199.1,191.2 199.2,190.3 199.3,189.4 199.4,188.6 199.5,187.7 199.6,186.8 199.7,185.9 199.8,185.0 199.9,184.2 200.1,183.3 200.2,182.4 200.4,181.5 200.5,180.7 200.6,179.8 200.8,178.9 200.9,178.1 201.1,177.2 201.2,176.3 201.4,175.5 201.6,174.6 201.9,173.8 202.4,173.0 202.8,172.2 203.4,171.8 204.3,171.6 205.2,171.5 206.0,171.3 206.9,171.2 207.8,171.0 208.6,170.9 209.5,170.8 210.0,171.1 210.0,171.9 210.0,172.8 210.0,173.7 210.0,174.6 210.0,175.5 210.0,176.4 210.0,177.2 210.0,178.1 210.0,179.0 210.0,179.9 210.0,180.8 210.0,181.7 210.0,182.6 210.0,183.4 210.0,184.3 210.0,185.2 210.0,186.1 210.0,187.0 210.0,187.9 210.0,188.8 210.0,189.6 210.0,190.5 210.0,191.4 210.0,192.3 210.0,193.2 210.0,194.1 210.0,194.9 210.0,195.8 210.0,196.7 210.0,197.6 210.0,198.5 210.0,199.4 210.0,200.3 210.0,201.1 210.0,202.0 210.0,202.9 210.0,203.8 210.0,204.7 210.0,205.6 210.0,206.4 210.0,207.3 210.0,208.2 210.0,209.1 210.0,210.0 210.0,210.9" fill="#f00000" stroke="#ffc8c0" stroke-opacity="0.6" stroke-width="0.5"/>
<polygon points="210.0,212.1 209.7,212.6 209.4,213.0 208.6,212.8 207.8,212.6 207.0,212.4 206.2,212.2 205.4,211.9 204.6,211.7 203.8,211.5 203.0,211.3 202.6,210.6 202.2,209.9 201.8,209.2 201.4,208.5 201.0,207.7 200.7,207.0 200.5,206.2 200.4,205.4 200.3,204.5 200.2,203.7 200.1,202.9 200.0,202.1 200.0,201.2 200.0,200.4 200.0,199.6 200.0,198.8 200.1,197.9 200.1,197.1 200.2,196.3 200.2,195.5 200.3,194.6 200.3,193.8 200.4,193.0 200.5,192.2 200.5,191.3 200.6,190.5 200.6,189.7 200.7,188.9 200.7,188.0 200.9,187.2 201.0,186.4 201.1,185.6 201.2,184.8 201.4,183.9 201.5,183.1 201.6,182.3 201.7,181.5 201.9,180.7 202.0,179.8 202.2,179.0 202.4,178.3 202.7,177.5 203.0,176.7 203.4,176.0 203.7,175.2 204.2,174.7 205.0,174.5 205.8,174.3 206.6,174.1 207.4,173.9 208.2,173.7 209.0,173.5 209.7,173.5 210.0,174.0 210.0,174.8 210.0,175.6 210.0,176.5 210.0,177.3 210.0,178.1 210.0,179.0 210.0,179.8 210.0,180.6 210.0,181.4 210.0,182.3 210.0,183.1 210.0,183.9 210.0,184.8 210.0,185.6 210.0,186.4 210.0,187.2 210.0,188.1 210.0,188.9 210.0,189.7 210.0,190.6 210.0,191.4 210.0,192.2 210.0,193.0 210.0,193.9 210.0,194.7 210.0,195.5 210.0,196.4 210.0,197.2 210.0,198.0 210.0,198.8 210.0,199.7 210.0,200.5 210.0,201.3 210.0,202.2 210.0,203.0 210.0,203.8 210.0,204.6 210.0,205.5 210.0,206.3 210.0,207.1 210.0,208.0 210.0,208.8 210.0,209.6 210.0,210.4 210.0,211.3" fill="#ff2800" stroke="#ffc8c0" stroke-opacity="0.6" stroke-width="0.5"/>
<polygon points="210.0,176.0 205.0,177.5 203.0,182.0 201.8,190.0 201.5,199.6 202.0,207.0 204.0,212.0 210.0,214.0" fill="#ff5800" stroke="#ffc8c0" stroke-opacity="0.6" stroke-width="0.5"/>
<polygon points="210.0,213.0 209.3,212.8 208.6,212.6 208.0,212.4 207.3,212.2 206.6,212.0 205.9,211.8 205.3,211.6 204.6,211.3 204.3,210.7 204.1,210.1 203.8,209.4 203.5,208.8 203.3,208.1 203.0,207.5 202.7,206.8 202.6,206.1 202.6,205.4 202.5,204.7 202.5,204.0 202.4,203.3 202.4,202.6 202.4,201.9 202.3,201.2 202.3,200.5 202.3,199.8 202.3,199.1 202.3,198.4 202.3,197.7 202.3,196.9 202.3,196.2 202.3,195.5 202.4,194.8 202.4,194.1 202.4,193.4 202.5,192.7 202.5,192.0 202.5,191.3 202.6,190.6 202.7,189.9 202.7,189.2 202.8,188.5 202.9,187.8 203.0,187.1 203.1,186.4 203.2,185.7 203.4,185.0 203.5,184.3 203.7,183.6 203.9,183.0 204.2,182.3 204.4,181.7 204.7,181.0 204.9,180.3 205.2,179.7 205.9,179.5 206.6,179.3 207.3,179.1 207.9,179.0 208.6,178.8 209.3,178.6 209.9,178.5 210.0,179.1 210.0,179.8 210.0,180.5 210.0,181.2 210.0,181.9 210.0,182.6 210.0,183.3 210.0,184.0 210.0,184.7 210.0,185.4 210.0,186.2 210.0,186.9 210.0,187.6 210.0,188.3 210.0,189.0 210.0,189.7 210.0,190.4 210.0,191.1 210.0,191.8 210.0,192.5 210.0,193.2 210.0,193.9 210.0,194.6 210.0,195.3 210.0,196.0 210.0,196.7 210.0,197.5 210.0,198.2 210.0,198.9 210.0,199.6 210.0,200.3 210.0,201.0 210.0,201.7 210.0,202.4 210.0,203.1 210.0,203.8 210.0,204.5 210.0,205.2 210.0,205.9 210.0,206.6 210.0,207.3 210.0,208.1 210.0,208.8 210.0,209.5 210.0,210.2 210.0,210.9 210.0,211.6 210.0,212.3" fill="#ff8800" stroke="#ffc8c0" stroke-opacity="0.6" stroke-width="0.5"/>
<polygon points="210.0,212.0 209.4,211.8 208.8,211.7 208.1,211.5 207.5,211.4 206.9,211.2 206.3,211.1 205.7,210.9 205.1,210.6 204.9,210.0 204.6,209.5 204.4,208.9 204.1,208.3 203.9,207.7 203.7,207.1 203.4,206.5 203.3,205.9 203.2,205.2 203.2,204.6 203.2,204.0 203.1,203.3 203.1,202.7 203.1,202.0 203.1,201.4 203.0,200.8 203.0,200.1 203.0,199.5 203.0,198.8 203.0,198.2 203.0,197.6 203.0,196.9 203.0,196.3 203.1,195.6 203.1,195.0 203.1,194.4 203.2,193.7 203.2,193.1 203.2,192.4 203.3,191.8 203.3,191.2 203.4,190.5 203.4,189.9 203.5,189.3 203.5,188.6 203.6,188.0 203.8,187.4 203.9,186.7 204.1,186.1 204.2,185.5 204.4,184.9 204.6,184.3 204.8,183.7 205.0,183.1 205.2,182.5 205.5,181.9 206.1,181.7 206.7,181.6 207.3,181.4 207.9,181.3 208.6,181.1 209.2,181.0 209.8,180.9 210.0,181.2 210.0,181.9 210.0,182.5 210.0,183.2 210.0,183.8 210.0,184.4 210.0,185.1 210.0,185.7 210.0,186.4 210.0,187.0 210.0,187.7 210.0,188.3 210.0,188.9 210.0,189.6 210.0,190.2 210.0,190.9 210.0,191.5 210.0,192.1 210.0,192.8 210.0,193.4 210.0,194.1 210.0,194.7 210.0,195.3 210.0,196.0 210.0,196.6 210.0,197.3 210.0,197.9 210.0,198.5 210.0,199.2 210.0,199.8 210.0,200.5 210.0,201.1 210.0,201.7 210.0,202.4 210.0,203.0 210.0,203.7 210.0,204.3 210.0,205.0 210.0,205.6 210.0,206.2 210.0,206.9 210.0,207.5 210.0,208.2 210.0,208.8 210.0,209.4 210.0,210.1 210.0,210.7 210.0,211.4" fill="#ffb800" stroke="#ffc8c0" stroke-opacity="0.6" stroke-width="0.5"/>
<polygon points="210.0,182.0 205.5,183.0 203.8,189.0 203.3,198.0 203.6,206.0 205.5,210.5 210.0,211.5" fill="#ffcc00" stroke="#ffc8c0" stroke-opacity="0.6" stroke-width="0.5"/>
<polygon points="210.0,210.8 209.4,210.7 208.9,210.6 208.3,210.5 207.8,210.4 207.2,210.3 206.7,210.1 206.2,209.9 205.8,209.6 205.6,209.1 205.4,208.6 205.1,208.0 204.9,207.5 204.7,207.0 204.5,206.5 204.3,205.9 204.2,205.4 204.2,204.8 204.1,204.3 204.1,203.7 204.1,203.1 204.1,202.6 204.0,202.0 204.0,201.4 204.0,200.9 204.0,200.3 203.9,199.7 203.9,199.2 203.9,198.6 203.9,198.0 203.9,197.5 203.9,196.9 204.0,196.3 204.0,195.8 204.0,195.2 204.1,194.6 204.1,194.1 204.1,193.5 204.1,192.9 204.2,192.4 204.2,191.8 204.2,191.2 204.3,190.7 204.3,190.1 204.4,189.6 204.6,189.0 204.7,188.5 204.9,187.9 205.0,187.4 205.2,186.8 205.3,186.3 205.5,185.7 205.6,185.2 205.8,184.6 206.0,184.2 206.5,184.0 207.1,183.9 207.6,183.8 208.2,183.6 208.7,183.5 209.3,183.4 209.8,183.3 210.0,183.6 210.0,184.2 210.0,184.7 210.0,185.3 210.0,185.9 210.0,186.4 210.0,187.0 210.0,187.6 210.0,188.1 210.0,188.7 210.0,189.3 210.0,189.8 210.0,190.4 210.0,191.0 210.0,191.5 210.0,192.1 210.0,192.7 210.0,193.2 210.0,193.8 210.0,194.4 210.0,194.9 210.0,195.5 210.0,196.1 210.0,196.6 210.0,197.2 210.0,197.8 210.0,198.3 210.0,198.9 210.0,199.5 210.0,200.0 210.0,200.6 210.0,201.2 210.0,201.7 210.0,202.3 210.0,202.9 210.0,203.4 210.0,204.0 210.0,204.6 210.0,205.1 210.0,205.7 210.0,206.3 210.0,206.8 210.0,207.4 210.0,208.0 210.0,208.5 210.0,209.1 210.0,209.7 210.0,210.2" fill="#ffe000" stroke="#ffc8c0" stroke-opacity="0.6" stroke-width="0.5"/>
<polygon points="210.0,209.4 209.5,209.3 209.0,209.3 208.6,209.2 208.1,209.2 207.6,209.1 207.3,208.9 206.9,208.6 206.7,208.2 206.5,207.8 206.3,207.4 206.1,206.9 205.9,206.5 205.7,206.0 205.5,205.6 205.4,205.1 205.3,204.6 205.3,204.2 205.3,203.7 205.3,203.2 205.2,202.7 205.2,202.2 205.2,201.7 205.1,201.3 205.1,200.8 205.1,200.3 205.1,199.8 205.1,199.3 205.1,198.8 205.1,198.4 205.1,197.9 205.1,197.4 205.1,196.9 205.1,196.4 205.1,195.9 205.2,195.5 205.2,195.0 205.2,194.5 205.2,194.0 205.2,193.5 205.2,193.0 205.3,192.6 205.4,192.1 205.4,191.6 205.5,191.1 205.6,190.7 205.8,190.2 205.9,189.7 206.0,189.3 206.1,188.8 206.2,188.3 206.4,187.9 206.5,187.4 206.6,186.9 206.8,186.5 207.3,186.4 207.8,186.3 208.2,186.1 208.7,186.0 209.2,185.8 209.6,185.7 209.9,185.8 210.0,186.2 210.0,186.7 210.0,187.1 210.0,187.6 210.0,188.1 210.0,188.6 210.0,189.1 210.0,189.6 210.0,190.0 210.0,190.5 210.0,191.0 210.0,191.5 210.0,192.0 210.0,192.5 210.0,192.9 210.0,193.4 210.0,193.9 210.0,194.4 210.0,194.9 210.0,195.4 210.0,195.8 210.0,196.3 210.0,196.8 210.0,197.3 210.0,197.8 210.0,198.3 210.0,198.8 210.0,199.2 210.0,199.7 210.0,200.2 210.0,200.7 210.0,201.2 210.0,201.7 210.0,202.1 210.0,202.6 210.0,203.1 210.0,203.6 210.0,204.1 210.0,204.6 210.0,205.0 210.0,205.5 210.0,206.0 210.0,206.5 210.0,207.0 210.0,207.5 210.0,207.9 210.0,208.4 210.0,208.9" fill="#ffff40" stroke="#ffc8c0" stroke-opacity="0.6" stroke-width="0.5"/>
<polygon points="210.0,188.0 207.5,189.0 206.3,194.0 206.2,200.0 206.6,205.0 208.0,208.0 210.0,208.0" fill="#ffffa0" stroke="#ffc8c0" stroke-opacity="0.6" stroke-width="0.5"/>
<circle cx="184.4" cy="174.2" r="0.9" fill="#000"/>
<polyline points="147.2,198.2 150.0,200.1 153.6,202.8 159.1,203.7 164.0,204.5 170.1,204.1 176.2,203.3 182.3,202.1 187.4,202.7 191.5,203.7 195.6,202.7 199.6,201.3 203.7,200.0 206.8,201.3 209.0,202.7" fill="none" stroke="#14e4e4" stroke-width="2.2" stroke-linejoin="round" stroke-linecap="round"/>
</g>
<g clip-path="url(#cB3)">
<polygon points="297.0,159.1 293.7,155.5 291.9,152.7 290.1,153.6 288.2,157.3 285.5,161.9 281.8,164.6 280.9,167.4 277.2,170.1 271.8,171.0 268.1,172.9 267.2,176.5 262.6,178.4 257.1,181.1 251.6,184.8 246.1,188.4 241.5,191.5 238.8,194.6 240.6,198.2 237.9,201.0 237.0,204.6 236.1,208.3 238.8,211.0 244.3,212.9 251.6,214.2 258.9,215.6 268.1,217.5 275.4,219.3 282.7,221.5 288.2,223.0 292.8,223.9 297.0,223.9" fill="#4a0000" stroke="#ffc8c0" stroke-opacity="0.6" stroke-width="0.5"/>
<polygon points="297.0,162.0 291.5,163.0 290.1,165.5 288.2,170.1 285.5,175.6 281.8,181.1 277.2,186.6 271.8,191.2 265.0,195.0 260.8,197.0 256.2,200.0 254.4,203.7 256.2,208.3 262.6,212.0 271.8,215.6 280.9,218.9 290.1,221.1 297.0,221.5" fill="#7c0000" stroke="#ffc8c0" stroke-opacity="0.6" stroke-width="0.5"/>
<polygon points="297.0,170.0 292.5,170.0 291.9,172.0 289.1,179.3 286.4,186.6 282.0,191.0 275.0,195.0 269.9,197.5 266.3,201.0 265.3,205.6 268.1,209.2 275.4,212.9 284.6,216.5 297.0,218.4" fill="#a80000" stroke="#ffc8c0" stroke-opacity="0.6" stroke-width="0.5"/>
<polygon points="297.0,179.0 294.0,180.0 293.7,181.1 291.0,187.5 289.1,193.0 282.0,196.5 277.2,198.5 273.6,202.0 273.6,206.5 278.2,210.1 286.4,212.9 297.0,214.7" fill="#d00000" stroke="#ffc8c0" stroke-opacity="0.6" stroke-width="0.5"/>
<polygon points="297.0,188.0 290.0,189.0 285.0,193.0 282.5,199.0 282.0,205.0 283.0,211.0 286.0,216.5 291.0,219.0 297.0,219.5" fill="#f00000" stroke="#ffc8c0" stroke-opacity="0.6" stroke-width="0.5"/>
<polygon points="297.0,218.9 296.4,219.0 295.7,218.9 295.0,218.9 294.3,218.8 293.6,218.7 292.9,218.7 292.2,218.6 291.5,218.5 290.8,218.3 290.2,218.0 289.5,217.7 288.9,217.4 288.3,217.0 287.7,216.7 287.1,216.3 286.6,215.9 286.2,215.3 285.8,214.7 285.4,214.1 285.1,213.4 284.8,212.8 284.5,212.2 284.2,211.5 283.9,210.9 283.7,210.2 283.6,209.5 283.4,208.8 283.3,208.1 283.2,207.4 283.1,206.7 283.0,206.0 282.9,205.3 282.9,204.6 283.0,203.9 283.0,203.2 283.1,202.5 283.1,201.8 283.2,201.1 283.2,200.4 283.3,199.7 283.5,199.0 283.7,198.3 284.0,197.7 284.3,197.0 284.5,196.3 284.8,195.7 285.0,195.0 285.3,194.4 285.6,193.7 286.0,193.2 286.6,192.8 287.1,192.3 287.7,191.8 288.2,191.4 288.7,190.9 289.3,190.5 289.8,190.0 290.4,189.6 291.1,189.5 291.8,189.4 292.5,189.3 293.2,189.2 293.9,189.1 294.6,189.0 295.3,188.9 296.0,188.8 296.7,188.7 297.0,189.1 297.0,189.8 297.0,190.5 297.0,191.2 297.0,191.9 297.0,192.7 297.0,193.4 297.0,194.1 297.0,194.8 297.0,195.5 297.0,196.2 297.0,196.9 297.0,197.6 297.0,198.3 297.0,199.0 297.0,199.8 297.0,200.5 297.0,201.2 297.0,201.9 297.0,202.6 297.0,203.3 297.0,204.0 297.0,204.7 297.0,205.4 297.0,206.1 297.0,206.9 297.0,207.6 297.0,208.3 297.0,209.0 297.0,209.7 297.0,210.4 297.0,211.1 297.0,211.8 297.0,212.5 297.0,213.2 297.0,214.0 297.0,214.7 297.0,215.4 297.0,216.1 297.0,216.8 297.0,217.5 297.0,218.2" fill="#ff2800" stroke="#ffc8c0" stroke-opacity="0.6" stroke-width="0.5"/>
<polygon points="297.0,218.3 296.6,218.6 295.9,218.5 295.2,218.4 294.6,218.3 293.9,218.3 293.2,218.2 292.5,218.1 291.9,218.0 291.2,217.8 290.6,217.6 290.0,217.4 289.4,217.0 288.8,216.6 288.3,216.3 287.7,215.9 287.2,215.5 286.8,214.9 286.5,214.4 286.1,213.8 285.8,213.2 285.5,212.6 285.2,212.0 284.9,211.3 284.7,210.7 284.5,210.1 284.4,209.4 284.2,208.8 284.1,208.1 284.0,207.4 283.9,206.7 283.9,206.1 283.8,205.4 283.8,204.7 283.8,204.0 283.9,203.4 283.9,202.7 283.9,202.0 284.0,201.3 284.1,200.7 284.2,200.0 284.3,199.3 284.6,198.7 284.8,198.1 285.0,197.4 285.2,196.8 285.5,196.1 285.7,195.5 285.9,194.9 286.2,194.3 286.7,193.8 287.2,193.3 287.7,192.9 288.2,192.4 288.7,191.9 289.2,191.5 289.7,191.0 290.2,190.6 290.8,190.3 291.4,190.2 292.1,190.1 292.8,190.0 293.4,189.9 294.1,189.8 294.8,189.7 295.5,189.6 296.1,189.5 296.8,189.4 297.0,189.8 297.0,190.5 297.0,191.2 297.0,191.8 297.0,192.5 297.0,193.2 297.0,193.9 297.0,194.6 297.0,195.2 297.0,195.9 297.0,196.6 297.0,197.3 297.0,198.0 297.0,198.6 297.0,199.3 297.0,200.0 297.0,200.7 297.0,201.4 297.0,202.0 297.0,202.7 297.0,203.4 297.0,204.1 297.0,204.8 297.0,205.4 297.0,206.1 297.0,206.8 297.0,207.5 297.0,208.2 297.0,208.8 297.0,209.5 297.0,210.2 297.0,210.9 297.0,211.5 297.0,212.2 297.0,212.9 297.0,213.6 297.0,214.3 297.0,214.9 297.0,215.6 297.0,216.3 297.0,217.0 297.0,217.7" fill="#ff5800" stroke="#ffc8c0" stroke-opacity="0.6" stroke-width="0.5"/>
<polygon points="297.0,217.8 296.8,218.1 296.1,218.1 295.5,218.0 294.8,217.9 294.2,217.8 293.5,217.7 292.9,217.6 292.3,217.5 291.6,217.4 291.0,217.2 290.4,217.0 289.9,216.6 289.4,216.3 288.9,215.9 288.4,215.5 287.9,215.0 287.5,214.5 287.1,214.0 286.7,213.5 286.4,213.0 286.2,212.4 285.9,211.8 285.7,211.2 285.5,210.6 285.3,209.9 285.1,209.3 285.0,208.7 284.8,208.0 284.8,207.4 284.8,206.7 284.7,206.1 284.7,205.5 284.7,204.8 284.7,204.2 284.7,203.5 284.7,202.9 284.8,202.2 284.8,201.6 284.9,200.9 285.0,200.3 285.2,199.7 285.4,199.1 285.6,198.4 285.8,197.8 286.0,197.2 286.1,196.6 286.3,196.0 286.5,195.3 286.9,194.8 287.3,194.3 287.8,193.9 288.2,193.4 288.7,193.0 289.1,192.5 289.6,192.0 290.0,191.6 290.5,191.1 291.1,190.9 291.7,190.8 292.4,190.7 293.0,190.6 293.7,190.5 294.3,190.4 294.9,190.3 295.6,190.2 296.2,190.1 296.9,190.0 297.0,190.5 297.0,191.2 297.0,191.8 297.0,192.5 297.0,193.1 297.0,193.8 297.0,194.4 297.0,195.1 297.0,195.7 297.0,196.4 297.0,197.0 297.0,197.6 297.0,198.3 297.0,198.9 297.0,199.6 297.0,200.2 297.0,200.9 297.0,201.5 297.0,202.2 297.0,202.8 297.0,203.5 297.0,204.1 297.0,204.8 297.0,205.4 297.0,206.1 297.0,206.7 297.0,207.4 297.0,208.0 297.0,208.7 297.0,209.3 297.0,210.0 297.0,210.6 297.0,211.3 297.0,211.9 297.0,212.6 297.0,213.2 297.0,213.9 297.0,214.5 297.0,215.2 297.0,215.8 297.0,216.5 297.0,217.1" fill="#ff8800" stroke="#ffc8c0" stroke-opacity="0.6" stroke-width="0.5"/>
<polygon points="297.0,217.2 296.9,217.7 296.3,217.6 295.7,217.5 295.1,217.4 294.5,217.3 293.9,217.2 293.3,217.1 292.6,217.1 292.0,216.9 291.4,216.8 290.8,216.7 290.4,216.3 289.9,215.9 289.5,215.5 289.0,215.0 288.6,214.6 288.2,214.2 287.7,213.7 287.3,213.3 287.1,212.7 286.9,212.1 286.7,211.5 286.5,211.0 286.3,210.4 286.1,209.8 285.9,209.2 285.8,208.6 285.6,208.0 285.6,207.4 285.6,206.8 285.6,206.1 285.6,205.5 285.6,204.9 285.6,204.3 285.6,203.7 285.6,203.1 285.6,202.4 285.6,201.8 285.7,201.2 285.9,200.6 286.0,200.0 286.2,199.4 286.4,198.8 286.5,198.2 286.7,197.6 286.8,197.0 287.0,196.4 287.2,195.8 287.5,195.3 287.9,194.9 288.3,194.4 288.8,194.0 289.2,193.5 289.6,193.1 290.0,192.6 290.4,192.2 290.8,191.7 291.4,191.6 292.1,191.5 292.7,191.4 293.3,191.3 293.9,191.2 294.5,191.1 295.1,191.0 295.7,190.9 296.3,190.8 296.9,190.7 297.0,191.2 297.0,191.8 297.0,192.5 297.0,193.1 297.0,193.7 297.0,194.3 297.0,194.9 297.0,195.5 297.0,196.2 297.0,196.8 297.0,197.4 297.0,198.0 297.0,198.6 297.0,199.3 297.0,199.9 297.0,200.5 297.0,201.1 297.0,201.7 297.0,202.3 297.0,203.0 297.0,203.6 297.0,204.2 297.0,204.8 297.0,205.4 297.0,206.1 297.0,206.7 297.0,207.3 297.0,207.9 297.0,208.5 297.0,209.1 297.0,209.8 297.0,210.4 297.0,211.0 297.0,211.6 297.0,212.2 297.0,212.9 297.0,213.5 297.0,214.1 297.0,214.7 297.0,215.3 297.0,215.9 297.0,216.6" fill="#ffb800" stroke="#ffc8c0" stroke-opacity="0.6" stroke-width="0.5"/>
<polygon points="297.0,191.0 291.0,192.0 287.5,196.0 286.0,202.0 286.0,208.0 287.5,213.0 291.0,216.5 297.0,217.5" fill="#ffcc00" stroke="#ffc8c0" stroke-opacity="0.6" stroke-width="0.5"/>
<polygon points="297.0,216.5 296.5,216.5 296.0,216.4 295.4,216.3 294.9,216.2 294.4,216.1 293.8,216.0 293.3,215.9 292.7,215.8 292.2,215.7 291.6,215.6 291.2,215.3 290.8,214.9 290.4,214.5 290.1,214.1 289.7,213.7 289.3,213.3 288.9,212.9 288.5,212.5 288.3,212.0 288.1,211.5 288.0,211.0 287.8,210.5 287.6,209.9 287.5,209.4 287.3,208.9 287.2,208.3 287.1,207.8 287.0,207.3 287.0,206.7 287.0,206.2 287.0,205.6 287.0,205.0 287.0,204.5 287.0,203.9 287.0,203.4 287.0,202.8 287.0,202.3 287.2,201.8 287.3,201.2 287.4,200.7 287.6,200.1 287.7,199.6 287.8,199.1 288.0,198.5 288.1,198.0 288.3,197.5 288.4,197.0 288.7,196.5 289.1,196.1 289.4,195.7 289.8,195.2 290.1,194.8 290.5,194.4 290.8,194.0 291.2,193.5 291.6,193.2 292.1,193.1 292.7,193.0 293.2,192.9 293.8,192.8 294.3,192.7 294.8,192.6 295.4,192.5 295.9,192.4 296.5,192.3 297.0,192.3 297.0,192.8 297.0,193.3 297.0,193.9 297.0,194.4 297.0,195.0 297.0,195.5 297.0,196.1 297.0,196.6 297.0,197.2 297.0,197.7 297.0,198.3 297.0,198.9 297.0,199.4 297.0,200.0 297.0,200.5 297.0,201.1 297.0,201.6 297.0,202.2 297.0,202.7 297.0,203.3 297.0,203.8 297.0,204.4 297.0,204.9 297.0,205.5 297.0,206.0 297.0,206.6 297.0,207.1 297.0,207.7 297.0,208.2 297.0,208.8 297.0,209.3 297.0,209.9 297.0,210.5 297.0,211.0 297.0,211.6 297.0,212.1 297.0,212.7 297.0,213.2 297.0,213.8 297.0,214.3 297.0,214.9 297.0,215.4 297.0,216.0" fill="#ffe000" stroke="#ffc8c0" stroke-opacity="0.6" stroke-width="0.5"/>
<polygon points="297.0,214.6 296.8,214.8 296.3,214.7 295.9,214.6 295.4,214.5 295.0,214.4 294.6,214.3 294.1,214.2 293.7,214.1 293.2,214.0 292.8,213.9 292.4,213.7 292.1,213.4 291.8,213.0 291.5,212.7 291.2,212.3 291.0,212.0 290.7,211.6 290.4,211.3 290.2,210.9 290.0,210.5 289.8,210.1 289.6,209.7 289.5,209.2 289.4,208.8 289.3,208.4 289.3,207.9 289.2,207.5 289.1,207.0 289.1,206.6 289.1,206.1 289.1,205.7 289.0,205.2 289.0,204.8 289.0,204.3 289.1,203.9 289.1,203.4 289.1,203.0 289.2,202.6 289.3,202.1 289.4,201.7 289.5,201.2 289.6,200.8 289.6,200.3 289.8,199.9 289.9,199.5 290.1,199.1 290.3,198.7 290.5,198.3 290.8,197.9 291.0,197.6 291.3,197.2 291.6,196.8 291.8,196.5 292.1,196.1 292.4,195.8 292.7,195.5 293.2,195.4 293.6,195.3 294.1,195.2 294.5,195.1 294.9,195.0 295.4,194.9 295.8,194.9 296.3,194.8 296.7,194.7 297.0,194.8 297.0,195.2 297.0,195.6 297.0,196.1 297.0,196.5 297.0,197.0 297.0,197.4 297.0,197.9 297.0,198.3 297.0,198.8 297.0,199.3 297.0,199.7 297.0,200.2 297.0,200.6 297.0,201.1 297.0,201.5 297.0,202.0 297.0,202.4 297.0,202.9 297.0,203.3 297.0,203.8 297.0,204.2 297.0,204.7 297.0,205.1 297.0,205.6 297.0,206.0 297.0,206.5 297.0,206.9 297.0,207.4 297.0,207.8 297.0,208.3 297.0,208.7 297.0,209.2 297.0,209.6 297.0,210.1 297.0,210.5 297.0,211.0 297.0,211.4 297.0,211.9 297.0,212.3 297.0,212.8 297.0,213.2 297.0,213.7 297.0,214.1" fill="#ffff40" stroke="#ffc8c0" stroke-opacity="0.6" stroke-width="0.5"/>
<polygon points="297.0,197.0 293.5,198.0 291.5,201.5 291.0,205.0 291.5,209.0 293.5,212.0 297.0,213.0" fill="#ffffa0" stroke="#ffc8c0" stroke-opacity="0.6" stroke-width="0.5"/>
<polyline points="215.5,210.1 216.8,208.3 219.6,205.6 223.2,204.3 227.8,204.3 232.4,206.1 237.0,207.9 242.5,207.9 248.0,207.4 253.4,206.5 258.9,206.1 264.4,206.5 269.9,206.8 275.4,207.9 280.9,207.4 286.4,206.1 291.0,205.6 296.0,206.5" fill="none" stroke="#14e4e4" stroke-width="2.2" stroke-linejoin="round" stroke-linecap="round"/>
</g>
<g clip-path="url(#cB4)">
<polygon points="384.0,161.0 380.7,157.3 378.9,153.6 377.1,152.7 375.2,157.3 373.4,161.9 369.7,165.5 364.2,169.2 358.8,172.9 355.1,175.6 349.6,178.4 344.1,182.0 338.6,186.6 334.0,190.3 331.3,193.0 329.5,195.5 328.5,201.0 328.5,206.5 331.3,210.1 336.8,212.3 344.1,213.8 351.4,215.6 360.6,217.5 367.9,219.3 375.2,222.0 379.8,223.3 384.0,223.3" fill="#4a0000" stroke="#ffc8c0" stroke-opacity="0.6" stroke-width="0.5"/>
<polygon points="384.0,165.0 378.0,165.5 377.1,166.5 374.3,172.0 370.7,177.4 365.2,183.9 358.8,189.3 353.0,193.5 348.7,196.0 346.9,200.1 346.9,205.6 350.5,209.2 356.9,212.0 366.1,215.6 375.2,218.9 384.0,220.2" fill="#7c0000" stroke="#ffc8c0" stroke-opacity="0.6" stroke-width="0.5"/>
<polygon points="384.0,172.0 379.5,172.5 378.9,173.8 375.2,181.1 371.6,187.5 366.0,192.5 360.6,195.0 357.8,197.0 356.6,201.0 356.9,206.5 360.6,210.1 367.9,212.9 377.1,215.6 384.0,216.5" fill="#a80000" stroke="#ffc8c0" stroke-opacity="0.6" stroke-width="0.5"/>
<polygon points="384.0,182.0 381.0,182.5 380.7,182.9 377.1,188.4 372.0,193.0 367.0,195.5 365.2,197.5 363.9,201.0 364.6,206.5 368.8,210.1 375.2,212.9 384.0,213.8" fill="#d00000" stroke="#ffc8c0" stroke-opacity="0.6" stroke-width="0.5"/>
<polygon points="384.0,216.0 383.6,216.3 383.2,216.7 382.8,217.0 382.0,217.0 381.2,216.9 380.4,216.8 379.7,216.7 378.9,216.7 378.1,216.6 377.3,216.5 376.5,216.4 375.8,216.0 375.2,215.6 374.5,215.2 373.8,214.9 373.1,214.5 372.4,214.1 371.7,213.7 371.1,213.2 370.6,212.7 370.1,212.1 369.7,211.5 369.2,210.9 368.7,210.3 368.3,209.6 367.8,209.0 367.5,208.3 367.4,207.6 367.3,206.8 367.2,206.0 367.1,205.2 367.0,204.4 366.9,203.6 366.9,202.9 367.0,202.1 367.2,201.3 367.4,200.6 367.5,199.8 367.8,199.1 368.1,198.4 368.4,197.7 368.7,197.0 369.0,196.5 369.4,195.9 369.9,195.4 370.4,194.8 370.9,194.3 371.4,193.7 371.9,193.2 372.3,192.5 372.7,191.9 373.2,191.2 373.7,190.7 374.3,190.2 374.9,189.6 375.5,189.1 376.1,188.6 376.6,188.0 377.1,187.4 377.6,186.8 378.2,186.5 378.8,186.1 379.4,185.7 380.1,185.3 380.7,184.9 381.3,184.5 382.0,184.3 382.8,184.2 383.6,184.1 384.0,184.4 384.0,185.1 384.0,185.9 384.0,186.7 384.0,187.5 384.0,188.3 384.0,189.1 384.0,189.9 384.0,190.7 384.0,191.5 384.0,192.3 384.0,193.1 384.0,193.8 384.0,194.6 384.0,195.4 384.0,196.2 384.0,197.0 384.0,197.8 384.0,198.6 384.0,199.4 384.0,200.2 384.0,201.0 384.0,201.7 384.0,202.5 384.0,203.3 384.0,204.1 384.0,204.9 384.0,205.7 384.0,206.5 384.0,207.3 384.0,208.1 384.0,208.9 384.0,209.7 384.0,210.4 384.0,211.2 384.0,212.0 384.0,212.8 384.0,213.6 384.0,214.4 384.0,215.2" fill="#f00000" stroke="#ffc8c0" stroke-opacity="0.6" stroke-width="0.5"/>
<polygon points="384.0,186.0 377.0,187.0 372.5,191.0 370.3,197.0 369.8,204.6 370.5,211.0 373.0,216.5 378.0,220.0 384.0,220.5" fill="#ff2800" stroke="#ffc8c0" stroke-opacity="0.6" stroke-width="0.5"/>
<polygon points="384.0,219.2 383.3,219.2 382.6,219.1 381.9,219.0 381.2,218.9 380.5,218.8 379.8,218.7 379.1,218.7 378.4,218.5 377.7,218.2 377.2,217.9 376.6,217.4 376.1,216.9 375.6,216.5 375.0,216.0 374.5,215.5 374.1,215.0 373.7,214.4 373.3,213.8 373.1,213.1 372.8,212.5 372.6,211.8 372.4,211.1 372.1,210.5 372.0,209.8 371.9,209.1 371.7,208.4 371.6,207.7 371.5,207.0 371.5,206.3 371.5,205.5 371.4,204.8 371.4,204.1 371.4,203.4 371.5,202.7 371.5,202.0 371.5,201.3 371.5,200.6 371.6,199.9 371.6,199.2 371.7,198.5 371.8,197.8 372.0,197.1 372.3,196.4 372.5,195.7 372.7,195.0 372.9,194.4 373.1,193.7 373.3,193.0 373.7,192.4 374.1,191.9 374.7,191.4 375.2,190.9 375.7,190.4 376.2,189.9 376.7,189.5 377.3,189.0 377.9,188.7 378.6,188.6 379.3,188.5 380.0,188.4 380.7,188.3 381.4,188.1 382.1,188.0 382.8,187.9 383.5,187.8 384.0,187.9 384.0,188.7 384.0,189.4 384.0,190.1 384.0,190.8 384.0,191.5 384.0,192.2 384.0,192.9 384.0,193.6 384.0,194.4 384.0,195.1 384.0,195.8 384.0,196.5 384.0,197.2 384.0,197.9 384.0,198.6 384.0,199.3 384.0,200.0 384.0,200.8 384.0,201.5 384.0,202.2 384.0,202.9 384.0,203.6 384.0,204.3 384.0,205.0 384.0,205.7 384.0,206.4 384.0,207.2 384.0,207.9 384.0,208.6 384.0,209.3 384.0,210.0 384.0,210.7 384.0,211.4 384.0,212.1 384.0,212.8 384.0,213.6 384.0,214.3 384.0,215.0 384.0,215.7 384.0,216.4 384.0,217.1 384.0,217.8 384.0,218.5" fill="#ff5800" stroke="#ffc8c0" stroke-opacity="0.6" stroke-width="0.5"/>
<polygon points="384.0,189.5 378.0,190.5 374.5,194.0 373.0,200.0 373.0,207.0 374.5,213.0 378.0,217.0 384.0,218.0" fill="#ff8800" stroke="#ffc8c0" stroke-opacity="0.6" stroke-width="0.5"/>
<polygon points="384.0,216.8 383.5,216.8 383.0,216.7 382.4,216.6 381.8,216.5 381.2,216.4 380.7,216.3 380.1,216.2 379.5,216.1 379.0,216.1 378.5,215.8 378.1,215.4 377.7,214.9 377.4,214.5 377.0,214.0 376.6,213.6 376.2,213.2 375.9,212.7 375.5,212.3 375.4,211.7 375.2,211.1 375.1,210.6 375.0,210.0 374.9,209.4 374.7,208.9 374.6,208.3 374.5,207.8 374.4,207.2 374.3,206.6 374.3,206.0 374.3,205.5 374.3,204.9 374.3,204.3 374.3,203.7 374.3,203.1 374.3,202.6 374.3,202.0 374.3,201.4 374.3,200.8 374.4,200.3 374.5,199.7 374.6,199.1 374.8,198.6 374.9,198.0 375.0,197.4 375.2,196.9 375.3,196.3 375.5,195.8 375.7,195.2 376.0,194.8 376.4,194.4 376.8,193.9 377.2,193.5 377.5,193.1 377.9,192.6 378.3,192.2 378.7,191.8 379.3,191.7 379.9,191.6 380.4,191.5 381.0,191.4 381.6,191.3 382.1,191.2 382.7,191.1 383.3,191.0 383.8,191.0 384.0,191.3 384.0,191.9 384.0,192.5 384.0,193.0 384.0,193.6 384.0,194.2 384.0,194.8 384.0,195.4 384.0,195.9 384.0,196.5 384.0,197.1 384.0,197.7 384.0,198.3 384.0,198.8 384.0,199.4 384.0,200.0 384.0,200.6 384.0,201.1 384.0,201.7 384.0,202.3 384.0,202.9 384.0,203.5 384.0,204.0 384.0,204.6 384.0,205.2 384.0,205.8 384.0,206.4 384.0,206.9 384.0,207.5 384.0,208.1 384.0,208.7 384.0,209.3 384.0,209.8 384.0,210.4 384.0,211.0 384.0,211.6 384.0,212.1 384.0,212.7 384.0,213.3 384.0,213.9 384.0,214.5 384.0,215.0 384.0,215.6 384.0,216.2" fill="#ffb800" stroke="#ffc8c0" stroke-opacity="0.6" stroke-width="0.5"/>
<polygon points="384.0,215.6 383.7,215.7 383.2,215.6 382.7,215.5 382.1,215.5 381.6,215.4 381.1,215.3 380.6,215.2 380.1,215.1 379.6,215.1 379.1,214.9 378.8,214.5 378.5,214.1 378.2,213.6 377.9,213.2 377.5,212.8 377.2,212.4 376.9,212.0 376.6,211.6 376.4,211.1 376.3,210.6 376.2,210.1 376.1,209.6 376.0,209.1 375.9,208.6 375.8,208.1 375.7,207.6 375.6,207.1 375.6,206.5 375.6,206.0 375.5,205.5 375.5,205.0 375.5,204.5 375.5,204.0 375.5,203.4 375.6,202.9 375.6,202.4 375.6,201.9 375.6,201.4 375.7,200.9 375.8,200.4 375.9,199.8 376.0,199.3 376.1,198.8 376.2,198.3 376.3,197.8 376.5,197.3 376.7,196.9 376.8,196.4 377.1,195.9 377.4,195.5 377.8,195.1 378.1,194.7 378.4,194.3 378.7,193.9 379.0,193.5 379.4,193.2 379.9,193.1 380.4,193.0 380.9,192.9 381.4,192.8 381.9,192.7 382.4,192.6 382.9,192.5 383.5,192.4 383.9,192.4 384.0,192.7 384.0,193.2 384.0,193.8 384.0,194.3 384.0,194.8 384.0,195.3 384.0,195.8 384.0,196.4 384.0,196.9 384.0,197.4 384.0,197.9 384.0,198.4 384.0,199.0 384.0,199.5 384.0,200.0 384.0,200.5 384.0,201.0 384.0,201.5 384.0,202.1 384.0,202.6 384.0,203.1 384.0,203.6 384.0,204.1 384.0,204.7 384.0,205.2 384.0,205.7 384.0,206.2 384.0,206.7 384.0,207.3 384.0,207.8 384.0,208.3 384.0,208.8 384.0,209.3 384.0,209.8 384.0,210.4 384.0,210.9 384.0,211.4 384.0,211.9 384.0,212.4 384.0,213.0 384.0,213.5 384.0,214.0 384.0,214.5 384.0,215.0" fill="#ffe000" stroke="#ffc8c0" stroke-opacity="0.6" stroke-width="0.5"/>
<polygon points="384.0,214.3 383.8,214.6 383.4,214.5 382.9,214.5 382.5,214.4 382.0,214.3 381.6,214.3 381.1,214.2 380.7,214.1 380.2,214.1 379.8,213.9 379.5,213.5 379.3,213.2 379.0,212.8 378.7,212.4 378.4,212.1 378.2,211.7 377.9,211.3 377.6,211.0 377.5,210.5 377.4,210.1 377.3,209.6 377.2,209.2 377.2,208.7 377.1,208.3 377.0,207.8 377.0,207.4 376.9,206.9 376.9,206.5 376.8,206.0 376.8,205.6 376.8,205.1 376.8,204.6 376.8,204.2 376.8,203.7 376.9,203.3 376.9,202.8 376.9,202.4 376.9,201.9 377.0,201.5 377.1,201.0 377.1,200.5 377.2,200.1 377.3,199.6 377.3,199.2 377.5,198.8 377.7,198.3 377.8,197.9 378.0,197.5 378.2,197.1 378.5,196.7 378.7,196.4 379.0,196.0 379.2,195.6 379.5,195.2 379.7,194.8 380.1,194.6 380.5,194.5 381.0,194.4 381.4,194.2 381.8,194.1 382.3,194.0 382.7,193.9 383.2,193.8 383.6,193.7 383.9,193.8 384.0,194.2 384.0,194.6 384.0,195.1 384.0,195.5 384.0,196.0 384.0,196.4 384.0,196.9 384.0,197.4 384.0,197.8 384.0,198.3 384.0,198.7 384.0,199.2 384.0,199.7 384.0,200.1 384.0,200.6 384.0,201.0 384.0,201.5 384.0,201.9 384.0,202.4 384.0,202.9 384.0,203.3 384.0,203.8 384.0,204.2 384.0,204.7 384.0,205.2 384.0,205.6 384.0,206.1 384.0,206.5 384.0,207.0 384.0,207.4 384.0,207.9 384.0,208.4 384.0,208.8 384.0,209.3 384.0,209.7 384.0,210.2 384.0,210.7 384.0,211.1 384.0,211.6 384.0,212.0 384.0,212.5 384.0,213.0 384.0,213.4 384.0,213.9" fill="#ffff40" stroke="#ffc8c0" stroke-opacity="0.6" stroke-width="0.5"/>
<polygon points="384.0,195.0 380.5,196.0 378.5,200.0 378.0,205.0 378.5,210.0 380.5,213.0 384.0,213.5" fill="#ffffa0" stroke="#ffc8c0" stroke-opacity="0.6" stroke-width="0.5"/>
<polyline points="302.4,200.1 303.8,200.6 305.7,202.8 308.4,205.0 312.1,206.5 316.6,206.1 322.1,205.6 327.6,205.0 333.1,204.6 338.6,205.0 344.1,206.1 349.6,206.5 355.1,206.5 360.6,206.1 366.1,206.1 371.6,206.5 377.1,206.8 383.0,206.8" fill="none" stroke="#14e4e4" stroke-width="2.2" stroke-linejoin="round" stroke-linecap="round"/>
</g>
<g clip-path="url(#cB5)">
<polygon points="471.0,161.0 466.8,157.3 465.0,155.5 462.2,159.1 458.6,162.8 453.1,167.4 447.6,171.0 442.1,173.8 436.6,176.5 431.1,179.3 426.5,182.9 422.0,185.7 416.5,189.3 412.8,192.1 410.1,194.6 407.3,199.2 405.8,204.6 406.4,209.2 410.1,212.0 416.5,213.8 425.6,215.6 434.8,217.5 443.9,219.3 453.1,221.1 460.4,223.0 465.9,223.9 471.0,223.9" fill="#4a0000" stroke="#ffc8c0" stroke-opacity="0.6" stroke-width="0.5"/>
<polygon points="471.0,168.0 465.0,169.2 460.4,173.8 454.9,177.4 449.4,181.1 443.9,184.8 438.4,188.4 433.5,192.0 428.4,193.7 424.7,198.2 422.9,203.7 424.7,208.3 431.1,211.6 440.3,214.7 449.4,217.5 458.6,219.7 471.0,221.1" fill="#7c0000" stroke="#ffc8c0" stroke-opacity="0.6" stroke-width="0.5"/>
<polygon points="471.0,176.0 465.9,177.4 461.3,182.9 456.7,187.5 450.0,191.0 443.0,193.0 438.4,195.0 433.9,199.2 432.0,204.6 433.9,209.2 440.3,212.3 449.4,215.3 458.6,217.5 471.0,218.4" fill="#a80000" stroke="#ffc8c0" stroke-opacity="0.6" stroke-width="0.5"/>
<polygon points="471.0,184.0 467.7,184.8 464.1,189.3 459.0,193.0 451.2,194.5 446.7,196.5 443.0,201.0 442.1,206.5 445.8,210.1 453.1,212.9 462.2,214.7 471.0,215.6" fill="#d00000" stroke="#ffc8c0" stroke-opacity="0.6" stroke-width="0.5"/>
<polygon points="471.0,215.2 470.6,215.6 470.1,216.0 469.3,215.9 468.4,215.8 467.6,215.8 466.7,215.7 465.9,215.6 465.0,215.6 464.2,215.5 463.3,215.4 462.5,215.3 461.6,215.2 460.8,215.1 459.9,214.9 459.1,214.7 458.3,214.5 457.4,214.3 456.6,214.1 455.8,213.8 455.0,213.6 454.2,213.3 453.4,212.9 452.7,212.4 452.1,212.0 451.4,211.5 450.7,211.0 450.0,210.6 449.3,210.1 448.7,209.5 448.3,208.8 447.9,208.0 447.5,207.3 447.1,206.6 447.0,205.8 447.0,205.0 447.0,204.1 447.0,203.3 447.0,202.4 447.2,201.6 447.5,200.8 447.8,200.1 448.2,199.3 448.5,198.6 448.9,197.8 449.2,197.1 449.6,196.4 450.2,195.8 450.8,195.3 451.5,194.8 452.2,194.3 452.8,193.8 453.5,193.4 454.2,193.0 454.9,192.6 455.6,192.2 456.4,192.0 457.2,191.7 458.1,191.4 458.9,191.2 459.6,190.8 460.3,190.4 461.1,189.9 461.8,189.5 462.6,189.2 463.3,188.8 464.1,188.5 464.8,188.2 465.5,187.8 466.2,187.4 466.9,187.0 467.6,186.6 468.3,186.2 469.0,186.0 469.9,185.8 470.5,185.9 471.0,186.2 471.0,187.0 471.0,187.8 471.0,188.7 471.0,189.6 471.0,190.4 471.0,191.3 471.0,192.1 471.0,193.0 471.0,193.8 471.0,194.7 471.0,195.6 471.0,196.4 471.0,197.3 471.0,198.1 471.0,199.0 471.0,199.8 471.0,200.7 471.0,201.5 471.0,202.4 471.0,203.3 471.0,204.1 471.0,205.0 471.0,205.8 471.0,206.7 471.0,207.5 471.0,208.4 471.0,209.3 471.0,210.1 471.0,211.0 471.0,211.8 471.0,212.7 471.0,213.5 471.0,214.4" fill="#f00000" stroke="#ffc8c0" stroke-opacity="0.6" stroke-width="0.5"/>
<polygon points="471.0,187.0 462.0,188.0 456.0,191.0 452.0,196.0 450.8,203.0 452.0,209.5 456.0,214.0 462.0,216.0 471.0,216.5" fill="#fe2400" stroke="#ffc8c0" stroke-opacity="0.6" stroke-width="0.5"/>
<polygon points="471.0,215.1 470.3,215.1 469.6,215.1 468.9,215.1 468.2,215.1 467.5,215.1 466.9,215.0 466.2,215.0 465.5,215.0 464.8,215.0 464.1,214.9 463.4,214.8 462.8,214.6 462.1,214.4 461.4,214.2 460.8,214.0 460.1,213.8 459.4,213.6 458.8,213.4 458.2,213.0 457.8,212.6 457.3,212.1 456.8,211.5 456.4,211.0 455.9,210.5 455.5,210.0 455.0,209.5 454.7,208.9 454.6,208.2 454.4,207.5 454.3,206.8 454.2,206.2 454.0,205.5 453.9,204.8 453.8,204.1 453.7,203.4 453.8,202.8 453.9,202.1 454.0,201.4 454.0,200.7 454.1,200.0 454.2,199.3 454.3,198.7 454.5,198.0 454.8,197.4 455.1,196.8 455.4,196.2 455.8,195.6 456.1,195.0 456.5,194.4 456.9,193.8 457.3,193.3 457.8,192.9 458.4,192.5 459.0,192.1 459.6,191.8 460.2,191.5 460.8,191.1 461.4,190.8 462.0,190.4 462.6,190.2 463.3,190.0 463.9,189.9 464.6,189.8 465.3,189.7 466.0,189.7 466.7,189.6 467.4,189.5 468.1,189.4 468.8,189.3 469.4,189.2 470.1,189.2 470.8,189.1 471.0,189.6 471.0,190.3 471.0,190.9 471.0,191.6 471.0,192.3 471.0,193.0 471.0,193.7 471.0,194.4 471.0,195.1 471.0,195.8 471.0,196.5 471.0,197.2 471.0,197.9 471.0,198.5 471.0,199.2 471.0,199.9 471.0,200.6 471.0,201.3 471.0,202.0 471.0,202.7 471.0,203.4 471.0,204.1 471.0,204.8 471.0,205.5 471.0,206.1 471.0,206.8 471.0,207.5 471.0,208.2 471.0,208.9 471.0,209.6 471.0,210.3 471.0,211.0 471.0,211.7 471.0,212.4 471.0,213.1 471.0,213.7 471.0,214.4" fill="#ff5800" stroke="#ffc8c0" stroke-opacity="0.6" stroke-width="0.5"/>
<polygon points="471.0,190.0 463.0,191.0 458.0,194.0 455.5,199.0 455.0,204.0 456.0,209.0 459.5,213.0 465.0,214.5 471.0,214.5" fill="#ff7000" stroke="#ffc8c0" stroke-opacity="0.6" stroke-width="0.5"/>
<polygon points="471.0,214.0 470.4,214.0 469.8,214.0 469.2,214.0 468.6,213.9 467.9,213.9 467.3,213.9 466.7,213.9 466.1,213.9 465.5,213.9 464.9,213.8 464.3,213.6 463.7,213.5 463.1,213.3 462.5,213.2 461.9,213.1 461.3,212.9 460.7,212.8 460.1,212.6 459.7,212.2 459.3,211.7 458.9,211.2 458.5,210.8 458.1,210.3 457.7,209.9 457.3,209.4 456.9,208.9 456.7,208.4 456.6,207.8 456.5,207.2 456.3,206.6 456.2,206.0 456.1,205.4 456.0,204.8 455.9,204.2 455.9,203.6 455.9,202.9 456.0,202.3 456.1,201.7 456.2,201.1 456.2,200.5 456.3,199.9 456.4,199.3 456.7,198.8 456.9,198.2 457.2,197.7 457.4,197.1 457.7,196.5 458.0,196.0 458.3,195.5 458.6,195.0 459.0,194.5 459.5,194.2 460.0,193.8 460.5,193.5 461.0,193.2 461.5,192.8 462.0,192.5 462.6,192.2 463.1,191.9 463.7,191.7 464.3,191.6 464.9,191.5 465.5,191.5 466.1,191.4 466.7,191.3 467.3,191.2 467.9,191.1 468.5,191.1 469.1,191.0 469.7,190.9 470.3,190.8 470.9,190.8 471.0,191.3 471.0,191.9 471.0,192.5 471.0,193.2 471.0,193.8 471.0,194.4 471.0,195.0 471.0,195.6 471.0,196.2 471.0,196.8 471.0,197.4 471.0,198.1 471.0,198.7 471.0,199.3 471.0,199.9 471.0,200.5 471.0,201.1 471.0,201.7 471.0,202.4 471.0,203.0 471.0,203.6 471.0,204.2 471.0,204.8 471.0,205.4 471.0,206.0 471.0,206.6 471.0,207.3 471.0,207.9 471.0,208.5 471.0,209.1 471.0,209.7 471.0,210.3 471.0,210.9 471.0,211.5 471.0,212.2 471.0,212.8 471.0,213.4" fill="#ff8800" stroke="#ffc8c0" stroke-opacity="0.6" stroke-width="0.5"/>
<polygon points="471.0,213.0 470.5,213.0 469.9,212.9 469.4,212.9 468.8,212.8 468.3,212.8 467.7,212.7 467.2,212.7 466.7,212.7 466.1,212.6 465.6,212.5 465.0,212.5 464.5,212.4 464.0,212.3 463.4,212.2 462.9,212.1 462.3,212.0 461.8,212.0 461.3,211.8 460.9,211.4 460.6,211.0 460.2,210.6 459.9,210.1 459.5,209.7 459.2,209.3 458.8,208.9 458.5,208.5 458.2,208.0 458.1,207.5 458.0,206.9 458.0,206.4 457.9,205.9 457.8,205.3 457.7,204.8 457.6,204.2 457.6,203.7 457.5,203.2 457.6,202.6 457.7,202.1 457.8,201.6 458.0,201.0 458.1,200.5 458.2,200.0 458.4,199.5 458.6,199.0 458.8,198.5 459.0,197.9 459.2,197.4 459.4,196.9 459.7,196.5 460.1,196.1 460.5,195.8 460.9,195.4 461.3,195.1 461.8,194.8 462.2,194.4 462.6,194.1 463.1,193.8 463.5,193.4 464.0,193.3 464.5,193.1 465.1,193.1 465.6,193.0 466.1,192.9 466.7,192.8 467.2,192.8 467.8,192.7 468.3,192.6 468.8,192.5 469.4,192.5 469.9,192.4 470.5,192.3 471.0,192.3 471.0,192.8 471.0,193.3 471.0,193.9 471.0,194.4 471.0,195.0 471.0,195.5 471.0,196.1 471.0,196.6 471.0,197.2 471.0,197.7 471.0,198.3 471.0,198.8 471.0,199.4 471.0,199.9 471.0,200.4 471.0,201.0 471.0,201.5 471.0,202.1 471.0,202.6 471.0,203.2 471.0,203.7 471.0,204.3 471.0,204.8 471.0,205.4 471.0,205.9 471.0,206.4 471.0,207.0 471.0,207.5 471.0,208.1 471.0,208.6 471.0,209.2 471.0,209.7 471.0,210.3 471.0,210.8 471.0,211.4 471.0,211.9 471.0,212.5" fill="#ffb800" stroke="#ffc8c0" stroke-opacity="0.6" stroke-width="0.5"/>
<polygon points="471.0,193.0 464.0,194.0 460.0,197.5 458.3,203.0 459.0,208.0 462.0,211.5 471.0,212.5" fill="#ffcc00" stroke="#ffc8c0" stroke-opacity="0.6" stroke-width="0.5"/>
<polygon points="471.0,211.8 470.6,211.9 470.1,211.8 469.7,211.7 469.2,211.7 468.7,211.6 468.3,211.6 467.8,211.5 467.3,211.5 466.9,211.4 466.4,211.4 465.9,211.3 465.5,211.3 465.0,211.2 464.5,211.2 464.1,211.1 463.6,211.0 463.2,211.0 462.8,210.8 462.5,210.4 462.1,210.1 461.8,209.7 461.5,209.4 461.2,209.0 460.9,208.7 460.6,208.3 460.3,208.0 460.1,207.6 460.0,207.1 459.9,206.7 459.9,206.2 459.8,205.7 459.7,205.3 459.6,204.8 459.6,204.4 459.5,203.9 459.4,203.4 459.5,203.0 459.6,202.5 459.7,202.1 459.9,201.6 460.0,201.2 460.2,200.7 460.3,200.3 460.4,199.8 460.6,199.4 460.7,199.0 460.9,198.5 461.1,198.1 461.4,197.8 461.8,197.5 462.1,197.2 462.5,196.9 462.8,196.6 463.2,196.3 463.5,195.9 463.9,195.6 464.2,195.3 464.6,195.0 465.0,194.9 465.5,194.9 466.0,194.8 466.4,194.7 466.9,194.6 467.4,194.6 467.8,194.5 468.3,194.4 468.7,194.4 469.2,194.3 469.7,194.2 470.1,194.1 470.6,194.1 471.0,194.1 471.0,194.5 471.0,195.0 471.0,195.5 471.0,195.9 471.0,196.4 471.0,196.9 471.0,197.3 471.0,197.8 471.0,198.3 471.0,198.7 471.0,199.2 471.0,199.7 471.0,200.1 471.0,200.6 471.0,201.1 471.0,201.5 471.0,202.0 471.0,202.5 471.0,202.9 471.0,203.4 471.0,203.9 471.0,204.4 471.0,204.8 471.0,205.3 471.0,205.8 471.0,206.2 471.0,206.7 471.0,207.2 471.0,207.6 471.0,208.1 471.0,208.6 471.0,209.0 471.0,209.5 471.0,210.0 471.0,210.4 471.0,210.9 471.0,211.4" fill="#ffe000" stroke="#ffc8c0" stroke-opacity="0.6" stroke-width="0.5"/>
<polygon points="471.0,210.5 470.8,210.7 470.4,210.6 470.0,210.6 469.7,210.5 469.3,210.5 468.9,210.5 468.5,210.4 468.2,210.4 467.8,210.3 467.4,210.3 467.0,210.2 466.6,210.2 466.3,210.1 465.9,210.1 465.5,210.0 465.2,209.9 464.8,209.8 464.5,209.6 464.3,209.3 464.0,209.1 463.7,208.8 463.4,208.5 463.2,208.3 462.9,208.0 462.6,207.7 462.4,207.5 462.2,207.1 462.2,206.8 462.1,206.4 462.0,206.0 462.0,205.6 461.9,205.3 461.8,204.9 461.8,204.5 461.7,204.1 461.6,203.8 461.7,203.4 461.8,203.0 461.9,202.7 462.0,202.3 462.1,201.9 462.2,201.6 462.3,201.2 462.4,200.9 462.5,200.5 462.7,200.2 462.9,199.8 463.1,199.5 463.4,199.3 463.6,199.0 463.9,198.8 464.2,198.5 464.5,198.2 464.7,198.0 465.0,197.7 465.3,197.5 465.6,197.2 465.9,197.0 466.2,196.9 466.6,196.8 467.0,196.8 467.4,196.7 467.7,196.6 468.1,196.6 468.5,196.5 468.9,196.4 469.2,196.3 469.6,196.3 470.0,196.2 470.3,196.1 470.7,196.1 471.0,196.1 471.0,196.5 471.0,196.9 471.0,197.2 471.0,197.6 471.0,198.0 471.0,198.4 471.0,198.7 471.0,199.1 471.0,199.5 471.0,199.9 471.0,200.3 471.0,200.6 471.0,201.0 471.0,201.4 471.0,201.8 471.0,202.2 471.0,202.5 471.0,202.9 471.0,203.3 471.0,203.7 471.0,204.1 471.0,204.4 471.0,204.8 471.0,205.2 471.0,205.6 471.0,206.0 471.0,206.3 471.0,206.7 471.0,207.1 471.0,207.5 471.0,207.9 471.0,208.2 471.0,208.6 471.0,209.0 471.0,209.4 471.0,209.8 471.0,210.1" fill="#ffff40" stroke="#ffc8c0" stroke-opacity="0.6" stroke-width="0.5"/>
<polygon points="471.0,198.0 467.0,199.0 464.5,201.5 463.8,204.0 464.5,207.0 467.0,209.0 471.0,209.5" fill="#ffffa0" stroke="#ffc8c0" stroke-opacity="0.6" stroke-width="0.5"/>
<polyline points="389.4,204.3 392.7,205.0 396.3,206.1 400.0,207.4 403.6,207.8 407.3,207.4 412.8,207.0 418.3,206.8 423.8,206.8 429.3,206.5 434.8,206.1 440.3,205.6 443.9,205.6 449.4,206.1 454.9,206.5 460.4,206.8 465.9,207.0 470.0,206.8" fill="none" stroke="#14e4e4" stroke-width="2.2" stroke-linejoin="round" stroke-linecap="round"/>
</g>
<g clip-path="url(#cB6)">
<polygon points="545.6,168.3 550.1,169.2 552.0,172.9 552.9,179.3 553.8,186.6 554.7,193.0 555.3,200.0 555.6,210.0 554.7,217.5 552.9,222.0 549.2,223.9 541.9,224.4 530.9,224.4 518.1,223.9 505.3,223.0 494.3,221.5 486.1,218.4 482.4,213.8 481.1,208.3 481.1,201.9 482.4,195.5 485.2,190.0 488.8,186.0 494.3,182.9 501.6,179.3 510.8,175.6 519.9,172.9 529.1,171.0 538.2,169.8" fill="#4a0000" stroke="#ffc8c0" stroke-opacity="0.6" stroke-width="0.5"/>
<polygon points="544.6,173.0 546.4,173.2 548.3,173.3 549.7,174.0 550.8,175.4 551.5,177.1 551.9,178.9 552.1,180.8 552.4,182.6 552.6,184.4 552.9,186.3 553.1,188.1 553.4,190.0 553.6,191.8 553.9,193.6 554.1,195.5 554.3,197.3 554.4,199.2 554.5,201.0 554.5,202.9 554.6,204.7 554.6,206.6 554.6,208.4 554.5,210.3 554.3,212.1 554.1,214.0 553.9,215.8 553.5,217.6 552.6,219.2 551.7,220.8 550.2,221.8 548.4,222.4 546.6,222.7 544.8,223.0 542.9,223.2 541.1,223.2 539.2,223.2 537.4,223.2 535.5,223.2 533.7,223.2 531.8,223.2 529.9,223.1 528.1,223.0 526.2,222.9 524.4,222.9 522.5,222.8 520.7,222.7 518.8,222.6 517.0,222.5 515.1,222.3 513.3,222.1 511.4,222.0 509.6,221.8 507.7,221.6 505.9,221.4 504.0,221.2 502.2,220.8 500.4,220.5 498.6,220.1 496.8,219.6 495.0,219.0 493.3,218.5 491.6,217.6 490.1,216.6 488.8,215.3 487.5,214.0 486.7,212.4 486.1,210.7 485.5,208.9 485.3,207.1 485.3,205.2 485.2,203.4 485.3,201.5 485.7,199.7 486.1,197.9 486.6,196.1 487.3,194.4 488.2,192.8 489.2,191.3 490.4,189.9 491.7,188.5 493.3,187.7 495.0,186.9 496.6,186.1 498.3,185.3 500.0,184.5 501.7,183.7 503.3,182.9 505.0,182.1 506.7,181.3 508.4,180.6 510.1,180.0 511.9,179.4 513.7,178.8 515.4,178.2 517.2,177.7 519.0,177.2 520.8,176.8 522.6,176.4 524.4,176.0 526.2,175.6 528.1,175.3 529.9,175.0 531.7,174.7 533.6,174.5 535.4,174.2 537.3,174.0 539.1,173.7 540.9,173.5 542.8,173.2" fill="#7c0000" stroke="#ffc8c0" stroke-opacity="0.6" stroke-width="0.5"/>
<polygon points="543.7,177.2 549.2,177.2 551.1,180.0 552.0,185.9 552.9,192.6 553.8,199.2 553.8,208.9 552.9,216.6 550.1,220.5 543.7,222.1 532.8,222.1 519.9,221.5 507.1,220.1 497.1,217.5 491.6,213.7 489.2,208.9 488.8,202.1 490.6,195.3 494.3,190.5 501.6,187.8 509.0,183.9 518.1,181.0 527.3,179.1 536.4,177.7" fill="#a40000" stroke="#ffc8c0" stroke-opacity="0.6" stroke-width="0.5"/>
<polygon points="543.3,180.3 544.8,180.3 546.4,180.3 547.9,180.5 549.2,181.2 550.2,182.3 550.6,183.8 551.0,185.3 551.3,186.8 551.6,188.4 551.8,189.9 552.1,191.5 552.2,193.0 552.4,194.6 552.6,196.2 552.7,197.7 552.9,199.3 552.9,200.8 552.9,202.4 552.9,204.0 552.9,205.5 552.9,207.1 552.9,208.7 552.7,210.2 552.6,211.8 552.4,213.4 552.2,214.9 551.9,216.5 551.0,217.6 549.9,218.8 548.7,219.7 547.3,220.2 545.7,220.5 544.2,220.8 542.6,221.0 541.1,221.1 539.5,221.2 537.9,221.2 536.4,221.2 534.8,221.2 533.2,221.2 531.7,221.2 530.1,221.1 528.5,221.1 527.0,221.1 525.4,221.0 523.8,221.0 522.3,220.9 520.7,220.7 519.1,220.6 517.6,220.4 516.0,220.3 514.5,220.1 512.9,220.0 511.3,219.8 509.8,219.7 508.3,219.2 506.7,218.8 505.2,218.4 503.7,218.0 502.2,217.6 500.7,217.2 499.3,216.5 498.0,215.7 496.8,214.7 495.6,213.7 494.7,212.4 493.8,211.1 493.3,209.7 493.1,208.1 493.0,206.6 492.8,205.0 492.9,203.5 493.3,201.9 493.7,200.4 494.2,198.9 494.7,197.4 495.5,196.2 496.5,194.9 497.4,193.7 498.5,192.5 499.7,191.7 501.1,191.0 502.5,190.3 503.9,189.6 505.3,188.9 506.6,188.1 508.1,187.4 509.5,186.9 511.0,186.3 512.5,185.9 514.0,185.5 515.5,185.1 517.0,184.6 518.5,184.2 520.0,183.8 521.6,183.5 523.1,183.1 524.6,182.8 526.2,182.5 527.7,182.2 529.2,181.9 530.8,181.6 532.3,181.4 533.9,181.1 535.4,180.9 537.0,180.7 538.6,180.6 540.1,180.5 541.7,180.4" fill="#d00000" stroke="#ffc8c0" stroke-opacity="0.6" stroke-width="0.5"/>
<polygon points="542.8,183.2 544.3,183.2 545.7,183.1 547.1,183.5 548.5,183.9 549.5,184.7 550.0,186.0 550.5,187.4 550.9,188.8 551.1,190.2 551.4,191.6 551.6,193.0 551.8,194.5 551.9,195.9 552.1,197.4 552.1,198.8 552.1,200.2 552.2,201.7 552.2,203.1 552.2,204.6 552.2,206.0 552.2,207.5 552.1,208.9 551.9,210.3 551.7,211.8 551.6,213.2 551.4,214.6 551.3,216.1 550.3,217.1 549.2,218.0 548.1,218.9 546.8,219.4 545.3,219.6 543.9,219.8 542.5,220.0 541.0,220.1 539.6,220.3 538.2,220.5 536.7,220.5 535.3,220.5 533.8,220.5 532.4,220.4 530.9,220.4 529.5,220.4 528.1,220.4 526.6,220.4 525.2,220.4 523.7,220.3 522.3,220.2 520.9,220.0 519.4,219.9 518.0,219.8 516.5,219.6 515.1,219.5 513.7,219.4 512.2,219.3 510.8,218.9 509.5,218.5 508.1,218.1 506.7,217.7 505.3,217.2 503.9,216.8 502.5,216.4 501.3,215.7 500.3,214.7 499.2,213.7 498.2,212.7 497.3,211.7 497.0,210.2 496.8,208.8 496.6,207.4 496.4,206.0 496.7,204.6 497.1,203.2 497.5,201.8 497.9,200.4 498.4,199.1 499.3,197.9 500.2,196.8 501.0,195.6 501.9,194.5 502.8,193.4 504.0,192.6 505.3,191.9 506.5,191.1 507.7,190.3 508.9,189.6 510.2,189.0 511.6,188.7 513.0,188.4 514.5,188.1 515.9,187.7 517.3,187.4 518.7,187.1 520.1,186.8 521.5,186.4 522.9,186.1 524.3,185.8 525.7,185.5 527.1,185.1 528.5,184.9 530.0,184.6 531.4,184.4 532.8,184.1 534.2,183.9 535.6,183.6 537.1,183.4 538.5,183.4 540.0,183.3 541.4,183.3" fill="#f00000" stroke="#ffc8c0" stroke-opacity="0.6" stroke-width="0.5"/>
<polygon points="545.6,183.7 549.2,184.7 550.7,188.7 551.5,192.9 552.0,197.7 552.0,208.0 551.1,216.2 547.4,219.2 538.2,220.3 525.4,220.3 512.6,219.2 502.5,216.2 498.0,212.0 497.1,205.8 498.9,199.8 503.5,193.6 510.0,189.5 518.1,187.8 527.3,185.7 536.4,184.0" fill="#f30800" stroke="#ffc8c0" stroke-opacity="0.6" stroke-width="0.5"/>
<polygon points="545.2,186.0 546.5,186.2 547.7,186.7 548.7,187.3 549.4,188.4 549.8,189.6 550.2,190.9 550.4,192.2 550.7,193.5 550.9,194.8 551.0,196.1 551.1,197.4 551.2,198.7 551.2,200.0 551.3,201.3 551.3,202.6 551.3,203.9 551.3,205.3 551.3,206.6 551.3,207.9 551.1,209.2 551.0,210.5 550.9,211.8 550.7,213.1 550.6,214.4 550.3,215.6 549.3,216.4 548.2,217.1 547.1,217.9 546.0,218.4 544.7,218.6 543.4,218.8 542.1,218.9 540.8,219.0 539.5,219.2 538.2,219.3 536.8,219.3 535.5,219.3 534.2,219.4 532.9,219.4 531.6,219.4 530.3,219.4 529.0,219.4 527.7,219.3 526.3,219.3 525.0,219.2 523.7,219.1 522.4,219.0 521.1,218.9 519.8,218.8 518.5,218.7 517.2,218.6 515.9,218.5 514.6,218.3 513.3,218.0 512.0,217.6 510.8,217.2 509.5,216.9 508.3,216.5 507.0,216.1 505.8,215.7 504.7,215.0 503.7,214.1 502.7,213.2 501.8,212.4 500.9,211.4 500.7,210.1 500.6,208.8 500.4,207.5 500.3,206.2 500.5,205.0 500.8,203.7 501.3,202.5 501.7,201.3 502.3,200.1 503.0,199.0 503.8,197.9 504.6,196.9 505.4,195.9 506.2,194.9 507.3,194.1 508.3,193.3 509.4,192.6 510.5,191.8 511.6,191.2 512.8,190.7 514.1,190.4 515.4,190.0 516.6,189.7 517.9,189.5 519.2,189.2 520.5,188.9 521.8,188.7 523.1,188.4 524.4,188.1 525.7,187.9 526.9,187.7 528.2,187.4 529.5,187.2 530.8,187.0 532.1,186.9 533.4,186.7 534.7,186.5 536.0,186.3 537.3,186.2 538.6,186.1 539.9,186.1 541.3,186.1 542.6,186.0 543.9,186.0" fill="#ff2800" stroke="#ffc8c0" stroke-opacity="0.6" stroke-width="0.5"/>
<polygon points="544.7,188.9 545.9,188.9 546.9,189.5 547.9,190.0 548.8,190.8 549.1,191.9 549.4,193.0 549.6,194.2 549.9,195.4 550.0,196.5 550.1,197.7 550.2,198.9 550.2,200.1 550.3,201.3 550.3,202.4 550.4,203.6 550.5,204.8 550.5,206.0 550.4,207.1 550.3,208.3 550.2,209.5 550.1,210.7 550.0,211.9 549.8,213.0 549.7,214.2 549.3,215.1 548.2,215.7 547.2,216.3 546.2,216.8 545.1,217.3 544.0,217.6 542.8,217.7 541.6,217.8 540.4,217.9 539.3,218.0 538.1,218.1 536.9,218.1 535.7,218.1 534.5,218.2 533.4,218.2 532.2,218.3 531.0,218.2 529.8,218.2 528.6,218.1 527.5,218.1 526.3,218.0 525.1,218.0 523.9,217.9 522.7,217.8 521.6,217.8 520.4,217.7 519.2,217.7 518.0,217.4 516.9,217.2 515.7,216.9 514.6,216.6 513.5,216.3 512.3,215.9 511.2,215.6 510.1,215.3 509.0,214.9 508.1,214.2 507.2,213.4 506.3,212.6 505.4,211.8 504.6,211.0 504.4,209.9 504.3,208.7 504.3,207.5 504.2,206.3 504.3,205.2 504.5,204.0 505.1,203.0 505.6,202.0 506.2,200.9 506.8,199.9 507.4,198.9 508.1,198.0 508.9,197.1 509.7,196.3 510.6,195.5 511.5,194.7 512.4,194.0 513.4,193.3 514.5,192.8 515.5,192.4 516.7,192.0 517.8,191.6 518.9,191.2 520.0,191.0 521.2,190.8 522.4,190.6 523.5,190.4 524.7,190.2 525.9,190.0 527.0,189.9 528.2,189.7 529.4,189.6 530.6,189.5 531.7,189.4 532.9,189.3 534.1,189.2 535.3,189.1 536.4,189.0 537.6,188.9 538.8,188.9 540.0,188.9 541.2,188.9 542.3,188.9 543.5,188.9" fill="#ff5800" stroke="#ffc8c0" stroke-opacity="0.6" stroke-width="0.5"/>
<polygon points="520.0,192.0 527.3,190.9 536.4,190.3 545.6,190.3 548.5,192.0 549.5,196.4 550.1,206.5 549.2,214.7 543.7,217.1 532.8,217.7 519.9,217.1 510.8,214.7 506.2,210.6 506.2,204.5 509.9,198.4 514.5,194.2" fill="#ff7000" stroke="#ffc8c0" stroke-opacity="0.6" stroke-width="0.5"/>
<polygon points="521.2,193.3 522.2,193.0 523.2,192.8 524.2,192.6 525.2,192.4 526.2,192.3 527.3,192.2 528.3,192.1 529.3,192.0 530.4,192.0 531.4,191.9 532.5,191.9 533.5,191.8 534.5,191.8 535.6,191.7 536.6,191.7 537.6,191.7 538.7,191.7 539.7,191.8 540.7,191.9 541.8,191.9 542.8,192.0 543.8,192.1 544.8,192.2 545.7,192.6 546.7,193.1 547.6,193.6 548.0,194.5 548.3,195.4 548.6,196.4 548.8,197.4 548.9,198.4 549.0,199.5 549.1,200.5 549.3,201.5 549.4,202.6 549.4,203.6 549.5,204.6 549.5,205.7 549.5,206.7 549.4,207.7 549.3,208.8 549.2,209.8 549.0,210.8 548.9,211.9 548.7,212.8 548.4,213.7 547.8,214.4 546.8,214.8 545.9,215.2 544.9,215.6 544.0,216.0 543.0,216.5 542.0,216.6 541.0,216.7 540.0,216.8 538.9,216.8 537.9,216.9 536.9,216.9 535.8,216.9 534.8,217.0 533.7,217.0 532.7,217.1 531.7,217.0 530.6,217.0 529.6,217.0 528.6,217.0 527.5,216.9 526.5,216.9 525.4,216.8 524.4,216.7 523.4,216.7 522.3,216.6 521.3,216.5 520.3,216.3 519.3,216.1 518.3,215.9 517.3,215.6 516.2,215.4 515.2,215.1 514.2,214.9 513.3,214.6 512.4,214.1 511.6,213.4 510.8,212.7 510.0,212.0 509.3,211.4 508.5,210.7 508.2,209.7 508.3,208.7 508.3,207.7 508.3,206.6 508.4,205.6 508.5,204.6 509.0,203.7 509.4,202.8 510.0,201.9 510.6,201.0 511.1,200.2 511.7,199.3 512.5,198.6 513.2,197.9 514.0,197.2 514.8,196.5 515.5,195.8 516.4,195.2 517.3,194.8 518.3,194.4 519.2,194.0 520.2,193.6" fill="#ff8800" stroke="#ffc8c0" stroke-opacity="0.6" stroke-width="0.5"/>
<polygon points="523.5,195.8 524.3,195.5 525.2,195.2 526.0,194.9 526.8,194.6 527.7,194.6 528.6,194.6 529.5,194.6 530.3,194.5 531.2,194.5 532.1,194.5 533.0,194.5 533.9,194.5 534.8,194.5 535.6,194.5 536.5,194.5 537.4,194.5 538.3,194.5 539.1,194.7 540.0,194.9 540.8,195.2 541.6,195.4 542.5,195.7 543.3,195.9 544.1,196.3 545.0,196.6 545.8,196.9 546.5,197.4 547.0,197.9 547.2,198.8 547.5,199.6 547.7,200.5 547.9,201.4 548.1,202.2 548.3,203.1 548.5,203.9 548.5,204.8 548.4,205.7 548.4,206.5 548.3,207.4 548.2,208.3 548.1,209.2 548.0,210.1 547.9,210.9 547.8,211.8 547.3,212.4 546.6,212.9 545.9,213.3 545.1,213.6 544.3,214.0 543.5,214.4 542.7,214.7 541.9,215.1 541.0,215.4 540.2,215.6 539.3,215.6 538.4,215.7 537.6,215.7 536.7,215.7 535.8,215.8 534.9,215.8 534.0,215.8 533.2,215.9 532.3,215.9 531.4,215.9 530.5,215.9 529.6,215.9 528.7,215.9 527.9,215.8 527.0,215.7 526.1,215.6 525.2,215.5 524.4,215.4 523.5,215.3 522.6,215.2 521.7,215.0 520.9,214.9 520.0,214.8 519.1,214.6 518.3,214.5 517.4,214.3 516.6,213.9 516.0,213.4 515.3,212.8 514.6,212.2 514.0,211.6 513.3,211.0 512.7,210.4 512.3,209.7 512.4,208.8 512.5,208.0 512.6,207.1 512.7,206.2 512.8,205.4 513.0,204.5 513.2,203.7 513.7,203.0 514.3,202.3 514.9,201.7 515.5,201.0 516.1,200.4 516.8,199.8 517.4,199.2 518.1,198.6 518.7,198.0 519.4,197.5 520.2,197.2 521.1,196.8 521.9,196.5 522.7,196.2" fill="#ffb800" stroke="#ffc8c0" stroke-opacity="0.6" stroke-width="0.5"/>
<polygon points="527.3,195.3 538.2,195.3 546.5,198.4 548.3,204.7 547.4,212.1 540.1,215.3 529.1,215.6 518.1,214.1 513.5,210.0 514.4,203.7 519.9,198.4" fill="#ffc400" stroke="#ffc8c0" stroke-opacity="0.6" stroke-width="0.5"/>
<polygon points="529.6,197.1 530.4,197.1 531.2,197.1 531.9,197.1 532.7,197.1 533.5,197.1 534.3,197.1 535.0,197.1 535.8,197.2 536.6,197.2 537.3,197.2 538.1,197.2 538.9,197.3 539.6,197.3 540.4,197.5 541.1,197.7 541.8,197.9 542.5,198.2 543.3,198.4 544.0,198.6 544.7,198.8 545.5,199.0 546.2,199.3 546.9,199.5 547.5,199.8 547.8,200.5 548.1,201.2 548.3,201.9 548.6,202.6 548.8,203.4 549.1,204.1 549.3,204.8 549.4,205.6 549.5,206.3 549.5,207.0 549.5,207.8 549.2,208.4 549.0,209.1 548.7,209.7 548.5,210.4 548.2,211.0 547.6,211.4 546.9,211.7 546.2,212.1 545.5,212.4 544.8,212.7 544.1,213.0 543.4,213.3 542.7,213.6 542.0,214.0 541.3,214.2 540.6,214.3 539.8,214.4 539.1,214.4 538.3,214.5 537.5,214.5 536.8,214.6 536.0,214.6 535.2,214.7 534.5,214.7 533.7,214.8 532.9,214.8 532.2,214.9 531.4,214.9 530.6,214.9 529.9,214.8 529.1,214.7 528.4,214.6 527.6,214.5 526.8,214.4 526.1,214.3 525.3,214.2 524.6,214.1 523.8,213.9 523.0,213.8 522.3,213.7 521.5,213.6 520.9,213.3 520.2,212.9 519.6,212.4 519.1,211.9 518.6,211.3 518.1,210.7 517.6,210.2 517.3,209.6 517.3,208.8 517.2,208.1 517.2,207.3 517.2,206.6 517.2,205.9 517.4,205.2 517.7,204.5 518.1,203.9 518.7,203.3 519.2,202.8 519.8,202.3 520.3,201.7 520.9,201.2 521.5,200.7 522.0,200.1 522.6,199.6 523.2,199.2 523.8,198.8 524.6,198.6 525.3,198.4 526.0,198.2 526.7,198.0 527.5,197.7 528.2,197.5 528.9,197.3" fill="#ffe000" stroke="#ffc8c0" stroke-opacity="0.6" stroke-width="0.5"/>
<polygon points="533.0,199.7 533.7,199.7 534.3,199.7 535.0,199.7 535.7,199.7 536.3,199.7 537.0,199.7 537.7,199.8 538.4,199.8 539.0,199.9 539.7,199.9 540.4,200.0 541.0,200.1 541.7,200.1 542.3,200.2 543.0,200.4 543.7,200.5 544.3,200.6 545.0,200.7 545.6,200.8 546.3,200.9 546.9,201.1 547.6,201.2 548.3,201.3 548.9,201.4 549.3,201.8 549.6,202.4 549.8,203.1 550.1,203.7 550.4,204.3 550.6,204.9 550.9,205.5 551.1,206.1 551.4,206.7 551.6,207.4 551.7,208.0 551.2,208.3 550.7,208.7 550.3,209.1 549.8,209.5 549.3,209.9 548.7,210.2 548.1,210.5 547.5,210.8 546.9,211.0 546.3,211.3 545.7,211.6 545.1,211.9 544.5,212.2 543.9,212.5 543.3,212.8 542.6,212.9 542.0,213.0 541.3,213.1 540.6,213.2 540.0,213.3 539.3,213.3 538.7,213.4 538.0,213.5 537.3,213.6 536.7,213.7 536.0,213.8 535.3,213.9 534.7,214.0 534.0,214.0 533.3,214.0 532.7,213.9 532.0,213.8 531.4,213.7 530.7,213.6 530.0,213.5 529.4,213.4 528.7,213.3 528.0,213.2 527.4,213.1 526.7,213.0 526.1,212.9 525.4,212.7 524.8,212.5 524.3,212.2 523.9,211.6 523.6,211.0 523.3,210.5 522.9,209.9 522.6,209.3 522.4,208.7 522.2,208.1 522.0,207.5 521.8,206.9 521.6,206.2 522.0,205.7 522.4,205.2 522.8,204.7 523.3,204.3 523.8,203.8 524.3,203.3 524.8,202.9 525.3,202.4 525.7,201.9 526.2,201.5 526.7,201.0 527.2,200.6 527.7,200.2 528.4,200.1 529.0,200.0 529.7,200.0 530.4,199.9 531.0,199.9 531.7,199.8 532.3,199.7" fill="#ffff40" stroke="#ffc8c0" stroke-opacity="0.6" stroke-width="0.5"/>
<polygon points="529.3,200.7 537.9,200.7 549.8,202.1 552.6,208.0 543.8,212.3 535.0,213.7 526.2,212.3 523.4,206.4" fill="#ffff66" stroke="#ffc8c0" stroke-opacity="0.6" stroke-width="0.5"/>
<polygon points="530.5,201.5 531.1,201.5 531.7,201.5 532.3,201.4 532.9,201.4 533.4,201.4 534.0,201.3 534.6,201.3 535.2,201.3 535.8,201.3 536.4,201.3 537.0,201.3 537.6,201.3 538.2,201.3 538.8,201.3 539.4,201.3 539.9,201.3 540.5,201.4 541.1,201.4 541.7,201.4 542.3,201.4 542.9,201.4 543.5,201.5 544.1,201.6 544.6,201.7 545.2,201.8 545.8,201.8 546.4,201.9 547.0,202.0 547.6,202.1 548.2,202.2 548.7,202.2 549.3,202.3 549.9,202.5 550.2,202.9 550.5,203.4 550.9,203.9 551.2,204.4 551.5,204.9 551.8,205.4 551.9,205.9 551.8,206.5 551.7,207.0 551.6,207.6 551.3,208.0 551.0,208.5 550.7,209.0 550.4,209.4 549.8,209.6 549.3,209.7 548.7,209.9 548.1,210.0 547.6,210.2 547.0,210.3 546.4,210.5 545.9,210.7 545.3,210.8 544.7,211.0 544.2,211.1 543.6,211.2 543.0,211.4 542.4,211.4 541.8,211.4 541.2,211.4 540.6,211.5 540.0,211.5 539.5,211.5 538.9,211.5 538.3,211.6 537.7,211.6 537.1,211.6 536.5,211.6 535.9,211.7 535.3,211.7 534.7,211.6 534.2,211.6 533.6,211.6 533.0,211.6 532.4,211.5 531.8,211.3 531.2,211.2 530.7,211.1 530.1,211.0 529.5,210.8 528.9,210.7 528.4,210.6 527.8,210.4 527.2,210.3 526.8,210.0 526.5,209.5 526.2,209.0 525.9,208.5 525.6,208.0 525.3,207.4 525.1,206.9 524.8,206.4 524.5,205.9 524.2,205.4 524.7,205.0 525.1,204.6 525.5,204.2 526.0,203.8 526.4,203.4 526.9,203.0 527.3,202.6 527.8,202.2 528.3,202.1 528.9,201.9 529.4,201.8 529.9,201.7" fill="#ffffa0" stroke="#ffc8c0" stroke-opacity="0.6" stroke-width="0.5"/>
<polygon points="524.5,205.0 528.0,202.0 535.0,201.5 543.0,201.5 550.0,202.5 552.0,205.5 550.5,209.5 543.0,211.0 533.0,211.0 527.0,209.5" fill="#ffffb3" stroke="#ffc8c0" stroke-opacity="0.6" stroke-width="0.5"/>
<polygon points="530.3,205.5 532.0,203.0 536.0,203.0 537.5,205.5 536.0,208.5 532.0,209.0" fill="#ffffff" stroke="#ffc8c0" stroke-opacity="0.6" stroke-width="0.5"/>
<polygon points="542.5,205.5 544.5,203.0 548.5,203.0 549.7,205.5 548.0,208.5 544.0,209.0" fill="#ffffff" stroke="#ffc8c0" stroke-opacity="0.6" stroke-width="0.5"/>
<polyline points="476.4,205.0 478.7,206.1 481.5,207.4 487.0,207.8 494.3,207.8 503.5,207.8 512.6,207.8 521.8,207.4 530.9,207.4 540.1,207.8 549.2,207.9 557.0,208.3" fill="none" stroke="#14e4e4" stroke-width="2.2" stroke-linejoin="round" stroke-linecap="round"/>
</g>
<g clip-path="url(#cB7)">
<polygon points="570.3,193.0 574.0,188.4 579.5,183.9 586.8,180.2 596.0,177.8 605.1,176.5 614.3,177.1 623.4,178.9 632.6,181.5 636.2,183.9 638.1,187.5 639.0,193.0 639.9,193.7 640.8,200.1 641.4,208.3 640.8,215.6 639.0,221.1 634.4,223.9 625.2,225.1 614.3,225.7 601.4,225.7 588.6,225.1 577.6,223.9 570.3,221.1 566.7,216.5 565.7,210.1 565.7,202.8 567.6,195.5" fill="#4a0000" stroke="#ffc8c0" stroke-opacity="0.6" stroke-width="0.5"/>
<polygon points="572.2,193.6 573.5,192.5 574.8,191.4 576.2,190.3 577.5,189.1 578.9,188.0 580.3,186.9 581.7,185.8 583.3,184.9 584.9,184.2 586.6,183.4 588.2,182.7 589.9,182.2 591.7,181.7 593.4,181.3 595.2,180.9 596.9,180.5 598.7,180.2 600.5,179.9 602.2,179.7 604.0,179.5 605.8,179.4 607.6,179.4 609.4,179.4 611.2,179.5 613.0,179.6 614.8,179.9 616.5,180.2 618.3,180.5 620.1,180.8 621.8,181.1 623.6,181.6 625.3,182.1 627.0,182.6 628.8,183.1 630.5,183.6 632.0,184.5 633.6,185.4 634.9,186.5 635.9,188.0 636.7,189.6 637.2,191.2 637.7,192.9 638.4,194.5 638.7,196.2 639.0,198.0 639.3,199.8 639.4,201.6 639.6,203.4 639.7,205.2 639.8,206.9 639.9,208.7 639.6,210.5 639.4,212.3 639.2,214.1 638.9,215.8 638.1,217.4 637.3,218.9 636.1,220.2 634.7,221.2 633.1,222.0 631.3,222.5 629.6,222.8 627.8,223.1 626.0,223.4 624.3,223.7 622.5,223.8 620.7,223.9 618.9,224.1 617.1,224.2 615.3,224.3 613.5,224.4 611.7,224.5 609.9,224.5 608.1,224.5 606.3,224.5 604.5,224.5 602.7,224.5 600.9,224.4 599.1,224.4 597.3,224.3 595.5,224.2 593.7,224.1 592.0,224.0 590.2,223.8 588.4,223.7 586.6,223.5 584.8,223.3 583.0,223.0 581.3,222.7 579.5,222.4 577.8,221.8 576.1,221.3 574.4,220.7 572.8,219.9 571.6,218.5 570.5,217.2 569.3,215.8 569.0,214.0 568.7,212.3 568.3,210.5 568.2,208.7 568.2,206.9 568.2,205.1 568.2,203.3 568.5,201.6 568.9,199.8 569.5,198.1 570.0,196.4 571.1,195.0" fill="#7c0000" stroke="#ffc8c0" stroke-opacity="0.6" stroke-width="0.5"/>
<polygon points="574.0,194.3 575.5,193.5 576.9,192.8 578.4,192.1 579.7,191.0 580.9,190.0 582.2,188.9 583.5,187.8 585.0,187.0 586.5,186.4 588.1,185.8 589.6,185.2 591.2,184.6 592.8,184.2 594.4,183.9 596.1,183.5 597.7,183.2 599.4,182.9 601.0,182.6 602.7,182.4 604.3,182.3 606.0,182.2 607.6,182.1 609.3,182.1 611.0,182.0 612.6,182.2 614.3,182.4 615.9,182.7 617.6,182.9 619.3,183.1 620.9,183.4 622.5,183.9 624.1,184.4 625.7,184.8 627.3,185.3 628.8,185.9 630.3,186.7 631.8,187.4 633.2,188.3 634.2,189.6 635.1,191.0 635.9,192.4 636.6,193.9 637.0,195.4 637.3,197.1 637.6,198.7 637.8,200.4 638.0,202.0 638.1,203.7 638.2,205.4 638.3,207.0 638.4,208.7 638.1,210.3 637.8,212.0 637.5,213.6 637.2,215.2 636.4,216.6 635.2,217.8 634.0,218.9 632.7,219.9 631.1,220.5 629.5,220.9 627.9,221.3 626.3,221.7 624.7,222.0 623.0,222.3 621.4,222.4 619.7,222.6 618.0,222.7 616.4,222.9 614.7,223.0 613.0,223.2 611.4,223.2 609.7,223.2 608.0,223.2 606.4,223.2 604.7,223.2 603.0,223.2 601.4,223.2 599.7,223.2 598.0,223.1 596.4,223.0 594.7,222.8 593.0,222.7 591.4,222.6 589.7,222.4 588.0,222.3 586.4,222.1 584.7,221.8 583.1,221.4 581.5,221.0 579.9,220.5 578.3,220.0 576.7,219.5 575.4,218.6 574.2,217.4 573.0,216.3 571.8,215.1 571.5,213.5 571.2,211.8 570.9,210.2 570.6,208.5 570.6,206.9 570.7,205.2 570.8,203.5 570.9,201.9 571.3,200.3 571.9,198.7 572.4,197.1 573.2,195.7" fill="#a80000" stroke="#ffc8c0" stroke-opacity="0.6" stroke-width="0.5"/>
<polygon points="579.5,193.0 585.0,188.4 592.3,185.7 601.4,183.9 610.6,183.3 619.8,184.4 627.1,186.6 632.6,189.3 635.3,193.0 635.9,193.7 637.1,200.1 637.7,208.3 636.2,215.6 631.6,219.3 623.4,221.5 612.4,222.6 599.6,222.6 586.8,221.5 577.6,218.9 573.1,214.7 571.8,208.3 572.2,201.0 574.9,194.6" fill="#bc0000" stroke="#ffc8c0" stroke-opacity="0.6" stroke-width="0.5"/>
<polygon points="580.0,193.6 581.2,192.6 582.4,191.7 583.7,191.0 584.9,190.2 586.3,189.7 587.8,189.3 589.3,188.9 590.7,188.3 592.2,187.8 593.6,187.4 595.1,187.0 596.6,186.6 598.1,186.3 599.6,186.0 601.2,185.7 602.7,185.6 604.2,185.4 605.8,185.3 607.3,185.2 608.8,185.1 610.4,185.0 611.9,185.2 613.4,185.4 615.0,185.5 616.5,185.7 618.1,185.8 619.6,186.1 621.0,186.6 622.5,187.0 624.0,187.5 625.5,187.9 626.9,188.5 628.3,189.2 629.6,189.9 631.0,190.7 632.0,191.8 633.0,193.0 634.0,194.1 634.7,195.4 635.0,196.9 635.4,198.5 635.7,200.0 636.0,201.5 636.1,203.0 636.2,204.5 636.4,206.1 636.5,207.6 636.5,209.2 636.2,210.7 635.8,212.1 635.4,213.6 635.0,215.1 634.2,216.3 633.0,217.3 631.8,218.1 630.5,219.0 629.1,219.5 627.6,220.0 626.1,220.4 624.6,220.8 623.1,221.2 621.6,221.4 620.1,221.6 618.5,221.7 617.0,221.9 615.5,222.1 613.9,222.2 612.4,222.4 610.8,222.4 609.3,222.4 607.8,222.4 606.2,222.4 604.7,222.4 603.1,222.4 601.6,222.4 600.0,222.4 598.5,222.3 597.0,222.1 595.4,222.0 593.9,221.9 592.4,221.7 590.8,221.6 589.3,221.4 587.7,221.3 586.2,221.0 584.7,220.6 583.3,220.1 581.8,219.6 580.3,219.2 578.9,218.7 577.6,217.8 576.5,216.8 575.4,215.7 574.3,214.7 573.8,213.2 573.4,211.8 573.1,210.3 572.8,208.7 572.9,207.2 572.9,205.7 572.9,204.1 573.1,202.6 573.4,201.1 574.0,199.7 574.6,198.2 575.1,196.8 575.9,195.5 577.2,194.8 578.6,194.2" fill="#d00000" stroke="#ffc8c0" stroke-opacity="0.6" stroke-width="0.5"/>
<polygon points="581.0,194.8 582.1,193.8 583.3,193.2 584.6,193.1 586.0,192.9 587.4,192.8 588.7,192.7 590.1,192.6 591.5,192.1 592.8,191.6 594.1,191.1 595.5,190.7 596.8,190.2 598.2,189.8 599.6,189.6 601.0,189.3 602.4,189.1 603.8,188.9 605.2,188.7 606.6,188.5 608.0,188.4 609.4,188.5 610.8,188.6 612.2,188.7 613.6,188.8 615.1,188.9 616.5,189.0 617.9,189.3 619.2,189.7 620.6,190.0 622.0,190.4 623.3,190.8 624.6,191.3 625.8,192.1 627.0,192.8 628.2,193.6 629.3,194.6 630.3,195.5 631.4,196.5 632.0,197.6 632.4,199.0 632.8,200.4 633.2,201.7 633.6,203.1 633.9,204.5 634.0,205.9 634.1,207.3 634.2,208.7 634.3,210.1 634.1,211.5 633.5,212.8 633.0,214.1 632.4,215.4 631.8,216.6 630.6,217.4 629.4,218.0 628.1,218.7 626.8,219.2 625.5,219.8 624.2,220.3 622.8,220.5 621.4,220.8 620.0,221.0 618.6,221.2 617.2,221.3 615.8,221.5 614.4,221.7 612.9,221.9 611.5,222.0 610.1,222.0 608.7,222.0 607.3,222.0 605.9,222.0 604.4,222.0 603.0,222.0 601.6,222.0 600.2,222.0 598.8,221.9 597.3,221.7 595.9,221.6 594.5,221.4 593.1,221.2 591.7,221.1 590.3,220.9 588.9,220.7 587.5,220.5 586.1,220.3 584.8,219.7 583.5,219.2 582.2,218.7 580.8,218.1 579.6,217.5 578.5,216.7 577.6,215.6 576.6,214.5 575.9,213.3 575.2,212.1 575.0,210.8 574.8,209.3 574.8,207.9 574.7,206.5 574.7,205.1 575.0,203.7 575.4,202.4 575.9,201.0 576.4,199.7 576.8,198.4 577.7,197.3 578.8,196.4 579.9,195.6" fill="#f00000" stroke="#ffc8c0" stroke-opacity="0.6" stroke-width="0.5"/>
<polygon points="590.5,194.1 597.8,191.3 606.9,189.7 616.1,190.2 623.4,192.2 626.2,194.1 630.7,197.7 632.9,204.4 633.5,211.2 630.7,217.0 623.4,220.2 612.4,221.8 599.6,221.8 586.8,220.2 579.5,217.0 575.8,212.1 575.4,205.4 577.6,198.6 583.1,193.8" fill="#f61000" stroke="#ffc8c0" stroke-opacity="0.6" stroke-width="0.5"/>
<polygon points="591.4,194.7 592.6,194.3 593.8,193.8 595.0,193.4 596.2,192.9 597.4,192.5 598.7,192.1 599.9,191.9 601.2,191.8 602.5,191.6 603.7,191.5 605.0,191.3 606.3,191.1 607.5,191.1 608.8,191.1 610.1,191.3 611.4,191.4 612.6,191.5 613.9,191.7 615.2,191.8 616.4,192.1 617.7,192.4 618.9,192.7 620.1,193.1 621.3,193.5 622.5,194.0 623.6,194.7 624.6,195.4 625.7,196.2 626.7,196.9 627.7,197.7 628.6,198.6 629.2,199.7 629.7,200.9 630.2,202.0 630.6,203.2 631.1,204.4 631.4,205.7 631.5,206.9 631.6,208.2 631.8,209.5 631.9,210.8 631.6,212.0 631.1,213.1 630.5,214.2 629.9,215.4 629.4,216.5 628.3,217.2 627.2,217.8 626.0,218.3 624.8,218.8 623.7,219.3 622.5,219.9 621.3,220.1 620.0,220.3 618.7,220.4 617.4,220.6 616.2,220.8 614.9,220.9 613.6,221.1 612.4,221.3 611.1,221.3 609.8,221.3 608.5,221.4 607.2,221.4 606.0,221.3 604.7,221.3 603.4,221.3 602.1,221.3 600.8,221.3 599.6,221.2 598.3,221.1 597.0,220.9 595.7,220.8 594.5,220.7 593.2,220.5 591.9,220.3 590.7,220.1 589.4,219.9 588.2,219.7 587.0,219.2 585.8,218.7 584.6,218.3 583.4,217.8 582.3,217.2 581.2,216.5 580.4,215.5 579.6,214.6 578.8,213.6 578.0,212.6 577.8,211.3 577.7,210.1 577.6,208.8 577.5,207.5 577.4,206.2 577.8,205.0 578.2,203.8 578.7,202.6 579.1,201.4 579.5,200.2 580.3,199.2 581.3,198.4 582.2,197.6 583.2,196.7 584.2,195.9 585.3,195.3 586.5,195.2 587.7,195.0 588.9,194.9 590.2,194.8" fill="#ff2800" stroke="#ffc8c0" stroke-opacity="0.6" stroke-width="0.5"/>
<polygon points="593.0,195.7 594.1,195.3 595.2,195.0 596.2,194.6 597.3,194.2 598.4,193.9 599.4,193.5 600.6,193.5 601.7,193.5 602.8,193.4 604.0,193.4 605.1,193.4 606.2,193.4 607.4,193.3 608.5,193.4 609.6,193.5 610.7,193.7 611.8,194.0 612.9,194.2 614.0,194.4 615.1,194.7 616.3,194.9 617.4,195.2 618.4,195.5 619.4,196.0 620.4,196.6 621.4,197.2 622.3,197.8 623.3,198.4 624.2,199.0 625.1,199.7 625.7,200.7 626.3,201.6 626.9,202.6 627.4,203.6 628.0,204.6 628.5,205.5 628.7,206.7 628.9,207.8 629.0,208.9 629.2,210.0 629.3,211.1 629.1,212.2 628.6,213.2 628.0,214.2 627.5,215.2 626.9,216.2 626.1,216.9 625.1,217.4 624.1,217.8 623.1,218.3 622.0,218.8 621.0,219.2 619.9,219.6 618.8,219.7 617.7,219.9 616.6,220.0 615.4,220.1 614.3,220.2 613.2,220.3 612.0,220.4 610.9,220.5 609.8,220.6 608.7,220.6 607.5,220.6 606.4,220.6 605.3,220.5 604.1,220.5 603.0,220.4 601.9,220.4 600.7,220.3 599.6,220.3 598.5,220.2 597.3,220.2 596.2,220.1 595.1,219.9 594.0,219.7 592.9,219.4 591.8,219.1 590.7,218.9 589.6,218.6 588.5,218.3 587.4,218.0 586.3,217.6 585.4,217.0 584.6,216.3 583.7,215.5 582.9,214.7 582.1,214.0 581.5,213.1 581.3,212.0 581.1,210.9 581.0,209.7 580.8,208.6 580.7,207.5 581.1,206.5 581.5,205.4 582.0,204.4 582.5,203.4 583.0,202.3 583.5,201.4 584.4,200.6 585.3,199.9 586.2,199.2 587.0,198.5 588.0,197.9 588.9,197.3 589.8,196.7 590.8,196.3 591.9,196.0" fill="#ff5800" stroke="#ffc8c0" stroke-opacity="0.6" stroke-width="0.5"/>
<polygon points="599.6,193.8 608.8,193.8 617.9,195.9 624.3,199.7 628.0,205.7 628.9,211.6 626.2,216.6 619.8,219.5 608.8,220.5 596.0,220.0 586.8,217.6 582.2,213.6 581.3,207.6 584.1,201.8 590.5,196.8" fill="#ff6200" stroke="#ffc8c0" stroke-opacity="0.6" stroke-width="0.5"/>
<polygon points="600.3,196.0 601.3,195.9 602.3,195.9 603.3,195.9 604.3,195.9 605.3,195.9 606.4,195.9 607.4,195.9 608.4,195.9 609.4,196.0 610.3,196.1 611.3,196.3 612.3,196.6 613.3,196.8 614.3,197.0 615.2,197.3 616.2,197.5 617.2,197.8 618.1,198.2 619.0,198.7 619.8,199.1 620.7,199.7 621.5,200.3 622.3,200.8 623.1,201.5 623.7,202.3 624.3,203.1 624.9,203.9 625.4,204.7 626.0,205.5 626.5,206.4 626.6,207.4 626.8,208.4 626.9,209.4 627.1,210.4 627.2,211.4 626.9,212.2 626.4,213.1 625.8,213.9 625.3,214.7 624.7,215.6 624.0,216.2 623.2,216.7 622.3,217.2 621.4,217.6 620.4,217.9 619.5,218.3 618.6,218.6 617.6,218.8 616.6,218.9 615.6,219.0 614.6,219.2 613.6,219.3 612.6,219.4 611.6,219.5 610.6,219.6 609.6,219.7 608.6,219.7 607.6,219.7 606.6,219.6 605.6,219.6 604.6,219.5 603.6,219.5 602.6,219.5 601.5,219.4 600.5,219.4 599.5,219.3 598.5,219.3 597.5,219.2 596.5,219.0 595.6,218.8 594.6,218.5 593.6,218.3 592.7,218.0 591.7,217.8 590.7,217.5 589.7,217.3 588.8,217.0 587.9,216.5 587.1,216.0 586.4,215.3 585.7,214.6 585.0,213.9 584.4,213.1 584.1,212.1 583.9,211.2 583.6,210.2 583.5,209.3 583.5,208.3 583.9,207.3 584.3,206.4 584.6,205.5 585.0,204.6 585.5,203.7 586.1,202.9 586.9,202.3 587.7,201.7 588.5,201.1 589.3,200.5 590.1,199.9 590.9,199.3 591.7,198.7 592.6,198.3 593.6,198.0 594.6,197.8 595.5,197.5 596.5,197.2 597.4,196.9 598.4,196.6 599.4,196.3" fill="#ff8800" stroke="#ffc8c0" stroke-opacity="0.6" stroke-width="0.5"/>
<polygon points="601.2,198.8 602.1,198.6 603.0,198.5 603.9,198.5 604.7,198.5 605.6,198.5 606.5,198.5 607.4,198.5 608.3,198.5 609.2,198.5 610.0,198.6 610.9,198.7 611.8,198.9 612.6,199.1 613.5,199.3 614.3,199.6 615.2,199.8 616.0,200.1 616.9,200.4 617.7,200.7 618.5,201.0 619.2,201.5 619.9,202.0 620.6,202.6 621.2,203.2 621.8,203.8 622.4,204.5 623.0,205.1 623.7,205.7 624.3,206.4 624.5,207.2 624.7,208.1 624.8,208.9 625.0,209.8 625.1,210.7 625.3,211.5 624.9,212.3 624.3,212.9 623.7,213.6 623.2,214.2 622.6,214.9 622.0,215.5 621.3,216.1 620.6,216.6 619.7,216.8 618.9,217.1 618.0,217.3 617.2,217.5 616.3,217.7 615.4,217.9 614.6,218.0 613.7,218.2 612.8,218.3 612.0,218.5 611.1,218.7 610.2,218.7 609.3,218.7 608.5,218.7 607.6,218.7 606.7,218.6 605.8,218.6 604.9,218.6 604.0,218.5 603.2,218.5 602.3,218.5 601.4,218.4 600.5,218.4 599.6,218.4 598.7,218.3 597.9,218.1 597.0,217.8 596.2,217.6 595.3,217.4 594.5,217.2 593.6,216.9 592.8,216.7 591.9,216.5 591.0,216.3 590.2,216.0 589.4,215.6 588.8,215.0 588.3,214.3 587.7,213.6 587.2,212.9 586.8,212.2 586.4,211.4 586.0,210.6 586.1,209.8 586.3,208.9 586.5,208.1 586.8,207.3 587.1,206.4 587.4,205.6 587.9,204.9 588.5,204.3 589.2,203.8 589.9,203.3 590.6,202.7 591.4,202.2 592.1,201.7 592.8,201.2 593.5,200.8 594.4,200.5 595.2,200.3 596.1,200.1 597.0,199.9 597.8,199.6 598.7,199.4 599.5,199.2 600.4,199.0" fill="#ffb800" stroke="#ffc8c0" stroke-opacity="0.6" stroke-width="0.5"/>
<polygon points="603.3,199.8 610.6,199.8 617.9,201.9 623.4,206.8 624.3,211.8 619.8,216.2 610.6,218.3 599.6,217.9 590.5,215.5 587.2,210.9 588.6,205.8 594.1,201.9" fill="#ffcc00" stroke="#ffc8c0" stroke-opacity="0.6" stroke-width="0.5"/>
<polygon points="603.7,200.7 604.4,200.8 605.2,200.8 605.9,200.8 606.7,200.8 607.5,200.8 608.2,200.8 609.0,200.8 609.7,200.8 610.5,200.9 611.2,201.1 611.9,201.3 612.6,201.4 613.4,201.6 614.1,201.8 614.8,202.0 615.5,202.2 616.3,202.4 617.0,202.6 617.6,203.0 618.2,203.5 618.7,204.0 619.3,204.5 619.8,205.0 620.4,205.5 620.9,206.0 621.5,206.6 622.0,207.1 622.2,207.8 622.4,208.5 622.6,209.2 622.7,209.9 622.7,210.6 622.8,211.4 622.4,212.0 621.9,212.5 621.4,213.1 620.9,213.6 620.4,214.2 619.8,214.6 619.3,215.1 618.7,215.5 617.9,215.7 617.2,215.8 616.5,216.0 615.7,216.2 615.0,216.3 614.3,216.5 613.5,216.6 612.8,216.8 612.1,217.0 611.3,217.1 610.6,217.3 609.8,217.3 609.1,217.3 608.3,217.3 607.6,217.3 606.8,217.3 606.1,217.3 605.3,217.3 604.6,217.2 603.8,217.2 603.1,217.1 602.3,217.1 601.6,217.0 600.8,217.0 600.1,216.9 599.4,216.7 598.6,216.6 597.9,216.4 597.2,216.2 596.4,216.0 595.7,215.9 595.0,215.7 594.2,215.5 593.5,215.3 592.8,215.1 592.1,214.8 591.6,214.3 591.2,213.7 590.7,213.1 590.2,212.5 589.8,211.9 589.3,211.3 588.9,210.7 589.1,210.0 589.3,209.3 589.5,208.6 589.8,207.9 590.0,207.2 590.2,206.5 590.7,205.9 591.3,205.5 591.9,205.0 592.5,204.5 593.1,204.1 593.7,203.7 594.3,203.3 595.0,202.9 595.6,202.6 596.4,202.5 597.1,202.3 597.8,202.1 598.6,201.9 599.3,201.8 600.0,201.6 600.8,201.4 601.5,201.3 602.2,201.1 603.0,200.9" fill="#ffe000" stroke="#ffc8c0" stroke-opacity="0.6" stroke-width="0.5"/>
<polygon points="604.5,202.6 605.1,202.7 605.7,202.7 606.3,202.8 606.9,202.8 607.5,202.8 608.1,202.9 608.7,202.9 609.3,203.0 609.9,203.0 610.5,203.1 611.1,203.2 611.7,203.3 612.3,203.4 612.9,203.5 613.5,203.6 614.1,203.7 614.7,203.8 615.3,203.9 615.9,204.1 616.3,204.6 616.7,205.0 617.2,205.4 617.6,205.9 618.0,206.3 618.4,206.7 618.9,207.2 619.3,207.6 619.6,208.1 619.9,208.6 620.2,209.2 620.1,209.7 620.0,210.3 619.9,210.8 619.6,211.3 619.2,211.8 618.9,212.3 618.5,212.8 618.2,213.3 617.7,213.6 617.2,213.8 616.6,214.1 616.0,214.2 615.4,214.3 614.8,214.4 614.2,214.5 613.6,214.6 613.0,214.8 612.4,214.9 611.8,215.0 611.2,215.1 610.6,215.2 610.0,215.4 609.4,215.4 608.8,215.5 608.2,215.5 607.6,215.6 607.0,215.7 606.4,215.6 605.8,215.6 605.2,215.5 604.6,215.5 604.0,215.4 603.4,215.4 602.8,215.3 602.2,215.2 601.6,215.2 601.0,215.0 600.4,214.9 599.8,214.8 599.2,214.7 598.6,214.6 598.0,214.5 597.4,214.4 596.8,214.3 596.2,214.1 595.7,213.8 595.2,213.5 594.7,213.1 594.3,212.6 593.9,212.2 593.4,211.8 593.0,211.4 592.6,210.9 592.2,210.5 592.3,210.0 592.6,209.5 592.9,208.9 593.1,208.4 593.4,207.9 593.7,207.3 594.0,206.8 594.4,206.4 594.9,206.0 595.3,205.5 595.7,205.2 596.3,205.0 596.9,204.7 597.4,204.5 598.0,204.3 598.6,204.1 599.2,204.0 599.7,203.8 600.3,203.7 600.9,203.5 601.5,203.4 602.1,203.2 602.7,203.1 603.3,202.9 603.9,202.8" fill="#ffff40" stroke="#ffc8c0" stroke-opacity="0.6" stroke-width="0.5"/>
<polygon points="604.9,203.8 614.9,204.8 618.8,209.2 616.8,212.9 606.9,214.7 598.0,213.5 594.0,210.3 597.1,205.9" fill="#ffff7a" stroke="#ffc8c0" stroke-opacity="0.6" stroke-width="0.5"/>
<polygon points="605.3,204.8 605.8,204.9 606.2,204.9 606.7,204.9 607.1,205.0 607.6,205.0 608.1,205.1 608.5,205.1 609.0,205.2 609.4,205.2 609.9,205.2 610.4,205.3 610.8,205.3 611.3,205.4 611.7,205.4 612.2,205.5 612.6,205.5 613.1,205.5 613.6,205.6 614.0,205.6 614.4,205.9 614.7,206.2 615.0,206.5 615.3,206.9 615.6,207.2 615.9,207.6 616.2,207.9 616.5,208.3 616.8,208.6 617.1,209.0 617.4,209.3 617.4,209.7 617.3,210.1 617.0,210.5 616.8,210.8 616.5,211.2 616.2,211.5 616.0,211.9 615.7,212.2 615.3,212.3 614.8,212.4 614.4,212.5 613.9,212.6 613.5,212.7 613.0,212.8 612.6,212.9 612.1,213.0 611.7,213.1 611.2,213.2 610.8,213.3 610.3,213.4 609.9,213.5 609.4,213.5 609.0,213.6 608.5,213.6 608.1,213.7 607.6,213.7 607.1,213.8 606.7,213.8 606.2,213.7 605.8,213.7 605.3,213.6 604.9,213.6 604.4,213.5 603.9,213.5 603.5,213.4 603.0,213.3 602.6,213.3 602.1,213.2 601.7,213.2 601.2,213.1 600.7,213.1 600.3,213.0 599.8,213.0 599.4,212.9 599.0,212.8 598.6,212.5 598.2,212.2 597.9,211.9 597.5,211.6 597.2,211.3 596.9,211.0 596.5,210.7 596.2,210.4 595.8,210.1 595.8,209.7 596.0,209.4 596.1,209.0 596.4,208.7 596.7,208.4 597.0,208.0 597.3,207.7 597.6,207.4 597.9,207.1 598.2,206.8 598.6,206.6 599.1,206.5 599.5,206.3 600.0,206.2 600.4,206.1 600.9,206.0 601.3,205.9 601.7,205.7 602.2,205.6 602.6,205.5 603.1,205.4 603.5,205.3 604.0,205.1 604.4,205.0 604.9,204.9" fill="#ffffa0" stroke="#ffc8c0" stroke-opacity="0.6" stroke-width="0.5"/>
<polygon points="605.7,206.9 612.9,207.2 615.2,210.3 609.3,212.2 601.0,211.6 598.5,208.8" fill="#ffffec" stroke="#ffc8c0" stroke-opacity="0.6" stroke-width="0.5"/>
<polyline points="563.3,206.8 566.7,207.9 572.2,208.7 581.3,208.7 590.5,209.2 599.6,209.2 608.8,209.2 617.9,209.8 627.1,209.8 636.2,210.1 644.0,210.1" fill="none" stroke="#14e4e4" stroke-width="2.2" stroke-linejoin="round" stroke-linecap="round"/>
</g>
<text x="52.9" y="28.5" class="tt">1-2 Hz</text>
<text x="140.1" y="28.5" class="tt">2-4 Hz</text>
<text x="226" y="28.5" class="tt">4-8 Hz</text>
<text x="310.2" y="28.5" class="tt">8-16 Hz</text>
<text x="396.2" y="28.5" class="tt">16-32 Hz</text>
<text x="484.3" y="28.5" class="tt">32-64 Hz</text>
<text x="570.5" y="28.5" class="tt">64-128 Hz</text>
<text x="52.9" y="157.1" class="tt">1-2 Hz</text>
<text x="140.1" y="157.1" class="tt">2-4 Hz</text>
<text x="226" y="157.1" class="tt">4-8 Hz</text>
<text x="310.2" y="157.1" class="tt">8-16 Hz</text>
<text x="396.2" y="157.1" class="tt">16-32 Hz</text>
<text x="484.3" y="157.1" class="tt">32-64 Hz</text>
<text x="570.5" y="157.1" class="tt">64-128 Hz</text>
<text x="35.3" y="122.8" class="tk" text-anchor="end">0</text>
<text x="35.3" y="101.16" class="tk" text-anchor="end">1</text>
<text x="35.3" y="79.52" class="tk" text-anchor="end">2</text>
<text x="35.3" y="57.88" class="tk" text-anchor="end">3</text>
<text x="35.3" y="36.24" class="tk" text-anchor="end">4</text>
<text x="35.3" y="14.6" class="tk" text-anchor="end">5</text>
<text x="35.3" y="250.2" class="tk" text-anchor="end">0</text>
<text x="35.3" y="228.6" class="tk" text-anchor="end">1</text>
<text x="35.3" y="207" class="tk" text-anchor="end">2</text>
<text x="35.3" y="185.4" class="tk" text-anchor="end">3</text>
<text x="35.3" y="163.8" class="tk" text-anchor="end">4</text>
<text x="35.3" y="142.2" class="tk" text-anchor="end">5</text>
<text x="42.1" y="261.9" class="tk" text-anchor="middle">0</text>
<text x="81.4" y="261.9" class="tk" text-anchor="middle">0.5</text>
<text x="120.5" y="261.9" class="tk" text-anchor="middle">1</text>
<text x="129" y="261.9" class="tk" text-anchor="middle">0</text>
<text x="168.3" y="261.9" class="tk" text-anchor="middle">0.5</text>
<text x="207.4" y="261.9" class="tk" text-anchor="middle">1</text>
<text x="215.9" y="261.9" class="tk" text-anchor="middle">0</text>
<text x="255.2" y="261.9" class="tk" text-anchor="middle">0.5</text>
<text x="294.3" y="261.9" class="tk" text-anchor="middle">1</text>
<text x="302.8" y="261.9" class="tk" text-anchor="middle">0</text>
<text x="342.1" y="261.9" class="tk" text-anchor="middle">0.5</text>
<text x="381.2" y="261.9" class="tk" text-anchor="middle">1</text>
<text x="389.7" y="261.9" class="tk" text-anchor="middle">0</text>
<text x="429" y="261.9" class="tk" text-anchor="middle">0.5</text>
<text x="468.1" y="261.9" class="tk" text-anchor="middle">1</text>
<text x="476.6" y="261.9" class="tk" text-anchor="middle">0</text>
<text x="515.9" y="261.9" class="tk" text-anchor="middle">0.5</text>
<text x="555" y="261.9" class="tk" text-anchor="middle">1</text>
<text x="563.5" y="261.9" class="tk" text-anchor="middle">0</text>
<text x="602.8" y="261.9" class="tk" text-anchor="middle">0.5</text>
<text x="641.9" y="261.9" class="tk" text-anchor="middle">1</text>
<text transform="translate(12.2,65.2) rotate(-90)" class="lb" text-anchor="middle">AC</text>
<text transform="translate(12.2,193) rotate(-90)" class="lb" text-anchor="middle">AC (shuffled)</text>
<text x="342.7" y="294.5" class="lb" text-anchor="middle">PC</text>
<defs><linearGradient id="hot" x1="0" y1="1" x2="0" y2="0">
<stop offset="0" stop-color="#000"/><stop offset="0.375" stop-color="#f00"/><stop offset="0.75" stop-color="#ff0"/><stop offset="1" stop-color="#fff"/>
</linearGradient></defs>
<rect x="651.0" y="11.2" width="5.9" height="108.1" fill="url(#hot)" stroke="#999" stroke-width="0.5"/>
<text x="660.8" y="122.5" class="tk">0</text>
<line x1="655.6999999999999" x2="656.9" y1="74.26" y2="74.26" stroke="#262626" stroke-width="0.5"/>
<text x="660.8" y="77.46" class="tk">1</text>
<line x1="655.6999999999999" x2="656.9" y1="29.22" y2="29.22" stroke="#262626" stroke-width="0.5"/>
<text x="660.8" y="32.42" class="tk">2</text>
<text x="659.5" y="10.4" class="tk">x10</text><text x="674.8" y="5.6" class="tks">-4</text>
<text transform="translate(684,69.5) rotate(-90)" class="lb" style="font-size:11.6px" text-anchor="middle">Probability</text>
</svg></body></html>
